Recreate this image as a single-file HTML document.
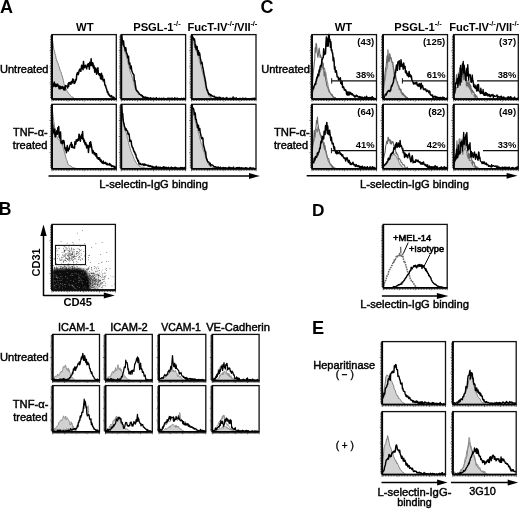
<!DOCTYPE html>
<html><head><meta charset="utf-8"><style>
html,body{margin:0;padding:0;background:#fff;}
body{width:520px;height:509px;overflow:hidden;}
svg{display:block;font-family:"Liberation Sans", sans-serif;will-change:transform;filter:blur(0.3px);}
</style></head><body>
<svg width="520" height="509" viewBox="0 0 520 509">
<rect width="520" height="509" fill="#fff"/>
<text x="0" y="12.8" font-size="18" font-weight="bold" text-anchor="start" fill="#000" >A</text>
<text x="260.6" y="12.6" font-size="18" font-weight="bold" text-anchor="start" fill="#000" >C</text>
<text x="-1.3" y="215.2" font-size="17.6" font-weight="bold" text-anchor="start" fill="#000" >B</text>
<text x="311.9" y="215.9" font-size="17.3" font-weight="bold" text-anchor="start" fill="#000" >D</text>
<text x="311.9" y="333.5" font-size="18.2" font-weight="bold" text-anchor="start" fill="#000" >E</text>
<path d="M52 37.36 L52.6 40.63 L53.2 44.5 L53.8 49.14 L54.4 50.76 L55 53.83 L55.6 55.36 L56.2 59.05 L56.8 60.17 L57.4 62.62 L58 63.04 L58.6 65.55 L59.2 66.97 L59.8 69.21 L60.4 71.2 L61 71.77 L61.6 74.36 L62.2 75.96 L62.8 78.28 L63.4 80.32 L64 83.73 L64.6 85.95 L65.2 86.65 L65.8 87.2 L66.4 90 L67 90.74 L67.6 91.62 L68.2 92.97 L68.8 93.61 L69.4 94.37 L70 94.68 L70.6 95.68 L71.2 96.36 L71.8 97.16 L72.4 97.02 L73 97.1 L73.6 97.75 L74.2 98.36 L74.8 98.84 L75.4 98.53 L76 98.65 L76.6 98.88 L77.2 99 L77.8 99.1 L78.4 99.1 L79 99.1 L79.6 99.1 L80.2 99.1 L80.8 99.1 L81.4 99.1 L82 99.1 L82.6 99.1 L83.2 99.1 L83.8 99.1 L84.4 99.1 L85 99.1 L85.6 99.1 L86.2 99.1 L86.8 99.1 L87.4 99.1 L88 99.1 L88.6 99.1 L89.2 99.1 L89.8 99.1 L90.4 99.1 L91 99.1 L91.6 99.1 L92.2 99.1 L92.8 99.1 L93.4 99.1 L94 99.1 L94.6 99.1 L95.2 99.1 L95.8 99.1 L96.4 99.1 L97 99.1 L97.6 99.1 L98.2 99.1 L98.8 99.1 L99.4 99.1 L100 99.1 L100.6 99.1 L101.2 99.1 L101.8 99.1 L102.4 99.1 L103 99.1 L103.6 99.1 L104.2 99.1 L104.8 99.1 L105.4 99.1 L106 99.1 L106.6 99.1 L107.2 99.1 L107.8 99.1 L108.4 99.1 L109 99.1 L109.6 99.1 L110.2 99.1 L110.8 99.1 L111.4 99.1 L112 99.1 L112.6 99.1 L113.2 99.1 L113.8 99.1 L114.4 99.1 L115 99.1 L115.6 99.1 L116.2 99.1 L116.2 99.1 L52 99.1 Z" fill="#d3d3d3" stroke="#707070" stroke-width="0.85" stroke-linejoin="round"/>
<path d="M52 83.15 L52.45 83.21 L52.9 86.67 L53.35 85.4 L53.8 86.08 L54.25 81.95 L54.7 86.02 L55.15 84.07 L55.6 86.52 L56.05 84.32 L56.5 86.3 L56.95 86.08 L57.4 84.11 L57.85 84.5 L58.3 85.96 L58.75 87.07 L59.2 88.8 L59.65 86.01 L60.1 88.76 L60.55 86.4 L61 87.05 L61.45 88.4 L61.9 88.13 L62.35 86.59 L62.8 87.19 L63.25 88.44 L63.7 89.79 L64.15 86.91 L64.6 89.73 L65.05 90.05 L65.5 85.57 L65.95 85.95 L66.4 85.95 L66.85 85.92 L67.3 86.65 L67.75 87.89 L68.2 83.5 L68.65 86.3 L69.1 82.4 L69.55 82.96 L70 83.62 L70.45 82.45 L70.9 84.29 L71.35 81.6 L71.8 82.26 L72.25 82.88 L72.7 78.91 L73.15 81.59 L73.6 79.51 L74.05 83.43 L74.5 83.29 L74.95 82.83 L75.4 81.64 L75.85 79.34 L76.3 79.91 L76.75 74.55 L77.2 73.14 L77.65 72.53 L78.1 74.69 L78.55 73.87 L79 71.12 L79.45 69.82 L79.9 69.04 L80.35 71.14 L80.8 71.34 L81.25 68.03 L81.7 65.18 L82.15 65.77 L82.6 68.74 L83.05 69.67 L83.5 61.45 L83.95 67.32 L84.4 67.78 L84.85 67.09 L85.3 65.19 L85.75 66.89 L86.2 67.18 L86.65 68.83 L87.1 65.78 L87.55 64.37 L88 66.2 L88.45 63.68 L88.9 64.03 L89.35 69.18 L89.8 62.3 L90.25 64.94 L90.7 65.5 L91.15 58.71 L91.6 64.72 L92.05 65.78 L92.5 62.78 L92.95 63.13 L93.4 67.93 L93.85 65.42 L94.3 67.12 L94.75 72.15 L95.2 71.96 L95.65 67.94 L96.1 69.02 L96.55 74.25 L97 70.48 L97.45 70.42 L97.9 67.68 L98.35 73.78 L98.8 74.69 L99.25 73.72 L99.7 75.44 L100.15 74.16 L100.6 78.84 L101.05 73.7 L101.5 73.19 L101.95 79.41 L102.4 75.46 L102.85 78.94 L103.3 80.98 L103.75 80.52 L104.2 79.4 L104.65 83.61 L105.1 85.6 L105.55 85.26 L106 87.65 L106.45 88.57 L106.9 90.3 L107.35 92.21 L107.8 91.56 L108.25 94.11 L108.7 93.73 L109.15 95.15 L109.6 95.02 L110.05 96.34 L110.5 96.21 L110.95 96.87 L111.4 95.64 L111.85 96.13 L112.3 97.57 L112.75 97.41 L113.2 98.45 L113.65 97.03 L114.1 98.63 L114.55 98.17 L115 99.1 L115.45 98.89 L115.9 99" fill="none" stroke="#000" stroke-width="1.5" stroke-linejoin="round"/>
<rect x="52" y="34.6" width="64.3" height="64.5" fill="none" stroke="#111" stroke-width="1.3"/>
<line x1="52" y1="34.6" x2="52" y2="99.1" stroke="#000" stroke-width="1.8"/>
<line x1="52" y1="99.1" x2="116.3" y2="99.1" stroke="#000" stroke-width="1.6"/>
<path d="M50.1 97.49H52M50.1 95.88H52M50.1 94.26H52M50.1 92.65H52M50.1 91.04H52M50.1 89.42H52M50.1 87.81H52M50.1 86.2H52M50.1 84.59H52M49.6 82.97H52M50.1 81.36H52M50.1 79.75H52M50.1 78.14H52M50.1 76.52H52M50.1 74.91H52M50.1 73.3H52M50.1 71.69H52M50.1 70.07H52M50.1 68.46H52M49.6 66.85H52M50.1 65.24H52M50.1 63.62H52M50.1 62.01H52M50.1 60.4H52M50.1 58.79H52M50.1 57.17H52M50.1 55.56H52M50.1 53.95H52M50.1 52.34H52M49.6 50.72H52M50.1 49.11H52M50.1 47.5H52M50.1 45.89H52M50.1 44.27H52M50.1 42.66H52M50.1 41.05H52M50.1 39.44H52M50.1 37.82H52M50.1 36.21H52" stroke="#111" stroke-width="0.75" fill="none"/>
<path d="M52 99.1V101.5M53.61 99.1V101M55.22 99.1V101M56.82 99.1V101M58.43 99.1V101M60.04 99.1V101M61.64 99.1V101M63.25 99.1V101M64.86 99.1V101M66.47 99.1V101M68.08 99.1V101.5M69.68 99.1V101M71.29 99.1V101M72.9 99.1V101M74.5 99.1V101M76.11 99.1V101M77.72 99.1V101M79.33 99.1V101M80.94 99.1V101M82.54 99.1V101M84.15 99.1V101.5M85.76 99.1V101M87.36 99.1V101M88.97 99.1V101M90.58 99.1V101M92.19 99.1V101M93.8 99.1V101M95.4 99.1V101M97.01 99.1V101M98.62 99.1V101M100.22 99.1V101.5M101.83 99.1V101M103.44 99.1V101M105.05 99.1V101M106.66 99.1V101M108.26 99.1V101M109.87 99.1V101M111.48 99.1V101M113.09 99.1V101M114.69 99.1V101M116.3 99.1V101.5" stroke="#111" stroke-width="0.75" fill="none"/>
<path d="M52 106.95 L52.6 111.57 L53.2 116.62 L53.8 121.01 L54.4 126.02 L55 129.08 L55.6 132.45 L56.2 135.52 L56.8 136.19 L57.4 137.46 L58 138.93 L58.6 139.63 L59.2 139.2 L59.8 141.26 L60.4 141.65 L61 142.15 L61.6 143.09 L62.2 144.42 L62.8 146.69 L63.4 148.39 L64 150.48 L64.6 152.35 L65.2 155.01 L65.8 157.21 L66.4 159.43 L67 160.78 L67.6 162.87 L68.2 164.28 L68.8 165.23 L69.4 165.42 L70 166.05 L70.6 165.81 L71.2 166.89 L71.8 166.8 L72.4 167.31 L73 167.28 L73.6 167.57 L74.2 168 L74.8 167.98 L75.4 167.91 L76 168.54 L76.6 168.7 L77.2 168.67 L77.8 168.8 L78.4 168.8 L79 168.8 L79.6 168.8 L80.2 168.8 L80.8 168.8 L81.4 168.8 L82 168.8 L82.6 168.8 L83.2 168.8 L83.8 168.8 L84.4 168.8 L85 168.8 L85.6 168.8 L86.2 168.8 L86.8 168.8 L87.4 168.8 L88 168.8 L88.6 168.8 L89.2 168.8 L89.8 168.8 L90.4 168.8 L91 168.8 L91.6 168.8 L92.2 168.8 L92.8 168.8 L93.4 168.8 L94 168.8 L94.6 168.8 L95.2 168.8 L95.8 168.8 L96.4 168.8 L97 168.8 L97.6 168.8 L98.2 168.8 L98.8 168.8 L99.4 168.8 L100 168.8 L100.6 168.8 L101.2 168.8 L101.8 168.8 L102.4 168.8 L103 168.8 L103.6 168.8 L104.2 168.8 L104.8 168.8 L105.4 168.8 L106 168.8 L106.6 168.8 L107.2 168.8 L107.8 168.8 L108.4 168.8 L109 168.8 L109.6 168.8 L110.2 168.8 L110.8 168.8 L111.4 168.8 L112 168.8 L112.6 168.8 L113.2 168.8 L113.8 168.8 L114.4 168.8 L115 168.8 L115.6 168.8 L116.2 168.8 L116.2 168.8 L52 168.8 Z" fill="#d3d3d3" stroke="#707070" stroke-width="0.85" stroke-linejoin="round"/>
<path d="M52 119.61 L52.45 123.39 L52.9 126.41 L53.35 132.56 L53.8 130.53 L54.25 133.9 L54.7 129.05 L55.15 136.89 L55.6 136.76 L56.05 133.33 L56.5 132.11 L56.95 130.49 L57.4 134.31 L57.85 127.66 L58.3 130.27 L58.75 126.5 L59.2 136.79 L59.65 138.01 L60.1 133.14 L60.55 131.91 L61 142.9 L61.45 140.96 L61.9 142.23 L62.35 143.81 L62.8 140.49 L63.25 142.77 L63.7 140.47 L64.15 141.98 L64.6 146.96 L65.05 148.97 L65.5 149.93 L65.95 147.98 L66.4 152.72 L66.85 148.81 L67.3 145.61 L67.75 148.04 L68.2 150.93 L68.65 149.3 L69.1 149.27 L69.55 147.32 L70 145.29 L70.45 144.52 L70.9 144.43 L71.35 142.49 L71.8 147.37 L72.25 144.83 L72.7 147.03 L73.15 147.72 L73.6 147.57 L74.05 148.08 L74.5 148.08 L74.95 141.69 L75.4 143.66 L75.85 144.1 L76.3 139.71 L76.75 140.53 L77.2 141.18 L77.65 140.37 L78.1 138.79 L78.55 140.4 L79 134.2 L79.45 134.91 L79.9 136.77 L80.35 141.13 L80.8 137.6 L81.25 137.45 L81.7 134.56 L82.15 138.34 L82.6 131.55 L83.05 139.42 L83.5 138.54 L83.95 141.95 L84.4 140.17 L84.85 143.5 L85.3 144.81 L85.75 142.7 L86.2 144.76 L86.65 147.97 L87.1 145.24 L87.55 145.54 L88 145.7 L88.45 152.43 L88.9 146.87 L89.35 146.12 L89.8 142.42 L90.25 147.02 L90.7 141.78 L91.15 145.03 L91.6 146.89 L92.05 150.2 L92.5 153.09 L92.95 150.5 L93.4 151.63 L93.85 152.6 L94.3 154.44 L94.75 152.69 L95.2 154.89 L95.65 153.8 L96.1 156.28 L96.55 153.79 L97 157.97 L97.45 157.61 L97.9 157.44 L98.35 159.29 L98.8 157.65 L99.25 159.39 L99.7 158.04 L100.15 160.74 L100.6 161.18 L101.05 159.87 L101.5 162.22 L101.95 161.8 L102.4 163.16 L102.85 162.6 L103.3 160.98 L103.75 163.53 L104.2 163.22 L104.65 162.72 L105.1 163.45 L105.55 162.39 L106 163.54 L106.45 164.54 L106.9 163.24 L107.35 164.78 L107.8 164.44 L108.25 164.19 L108.7 164.6 L109.15 165.02 L109.6 163.45 L110.05 165.06 L110.5 164.41 L110.95 164.59 L111.4 166.44 L111.85 165.97 L112.3 165.84 L112.75 166.17 L113.2 166.62 L113.65 166.11 L114.1 166.48 L114.55 167.4 L115 166.53 L115.45 167.81 L115.9 167.94" fill="none" stroke="#000" stroke-width="1.5" stroke-linejoin="round"/>
<rect x="52" y="104.3" width="64.3" height="64.5" fill="none" stroke="#111" stroke-width="1.3"/>
<line x1="52" y1="104.3" x2="52" y2="168.8" stroke="#000" stroke-width="1.8"/>
<line x1="52" y1="168.8" x2="116.3" y2="168.8" stroke="#000" stroke-width="1.6"/>
<path d="M50.1 167.19H52M50.1 165.58H52M50.1 163.96H52M50.1 162.35H52M50.1 160.74H52M50.1 159.12H52M50.1 157.51H52M50.1 155.9H52M50.1 154.29H52M49.6 152.68H52M50.1 151.06H52M50.1 149.45H52M50.1 147.84H52M50.1 146.22H52M50.1 144.61H52M50.1 143H52M50.1 141.39H52M50.1 139.78H52M50.1 138.16H52M49.6 136.55H52M50.1 134.94H52M50.1 133.32H52M50.1 131.71H52M50.1 130.1H52M50.1 128.49H52M50.1 126.88H52M50.1 125.26H52M50.1 123.65H52M50.1 122.04H52M49.6 120.42H52M50.1 118.81H52M50.1 117.2H52M50.1 115.59H52M50.1 113.97H52M50.1 112.36H52M50.1 110.75H52M50.1 109.14H52M50.1 107.53H52M50.1 105.91H52" stroke="#111" stroke-width="0.75" fill="none"/>
<path d="M52 168.8V171.2M53.61 168.8V170.7M55.22 168.8V170.7M56.82 168.8V170.7M58.43 168.8V170.7M60.04 168.8V170.7M61.64 168.8V170.7M63.25 168.8V170.7M64.86 168.8V170.7M66.47 168.8V170.7M68.08 168.8V171.2M69.68 168.8V170.7M71.29 168.8V170.7M72.9 168.8V170.7M74.5 168.8V170.7M76.11 168.8V170.7M77.72 168.8V170.7M79.33 168.8V170.7M80.94 168.8V170.7M82.54 168.8V170.7M84.15 168.8V171.2M85.76 168.8V170.7M87.36 168.8V170.7M88.97 168.8V170.7M90.58 168.8V170.7M92.19 168.8V170.7M93.8 168.8V170.7M95.4 168.8V170.7M97.01 168.8V170.7M98.62 168.8V170.7M100.22 168.8V171.2M101.83 168.8V170.7M103.44 168.8V170.7M105.05 168.8V170.7M106.66 168.8V170.7M108.26 168.8V170.7M109.87 168.8V170.7M111.48 168.8V170.7M113.09 168.8V170.7M114.69 168.8V170.7M116.3 168.8V171.2" stroke="#111" stroke-width="0.75" fill="none"/>
<path d="M121.3 34.6 L121.9 38.77 L122.5 41 L123.1 43.97 L123.7 46.54 L124.3 47.57 L124.9 50.94 L125.5 53.51 L126.1 55.05 L126.7 56.92 L127.3 59.81 L127.9 62.18 L128.5 65.55 L129.1 66.61 L129.7 69.16 L130.3 72.14 L130.9 73.55 L131.5 74.49 L132.1 76.9 L132.7 78.47 L133.3 80.71 L133.9 82.58 L134.5 85.69 L135.1 88.01 L135.7 89.62 L136.3 90.32 L136.9 91.26 L137.5 92.27 L138.1 93.19 L138.7 94.45 L139.3 94.48 L139.9 94.73 L140.5 95.35 L141.1 96.24 L141.7 96.51 L142.3 97 L142.9 97.17 L143.5 97.49 L144.1 97.86 L144.7 98.24 L145.3 98.4 L145.9 98.39 L146.5 97.79 L147.1 98.99 L147.7 98.55 L148.3 98.52 L148.9 98.88 L149.5 98.98 L150.1 99.08 L150.7 99.1 L151.3 99.1 L151.9 99.1 L152.5 99.1 L153.1 99.1 L153.7 99.1 L154.3 99.1 L154.9 99.1 L155.5 99.1 L156.1 99.1 L156.7 99.1 L157.3 99.1 L157.9 99.1 L158.5 99.1 L159.1 99.1 L159.7 99.1 L160.3 99.1 L160.9 99.1 L161.5 99.1 L162.1 99.1 L162.7 99.1 L163.3 99.1 L163.9 99.1 L164.5 99.1 L165.1 99.1 L165.7 99.1 L166.3 99.1 L166.9 99.1 L167.5 99.1 L168.1 99.1 L168.7 99.1 L169.3 99.1 L169.9 99.1 L170.5 99.1 L171.1 99.1 L171.7 99.1 L172.3 99.1 L172.9 99.1 L173.5 99.1 L174.1 99.1 L174.7 99.1 L175.3 99.1 L175.9 99.1 L176.5 99.1 L177.1 99.1 L177.7 99.1 L178.3 99.1 L178.9 99.1 L179.5 99.1 L180.1 99.1 L180.7 99.1 L181.3 99.1 L181.9 99.1 L182.5 99.1 L183.1 99.1 L183.7 99.1 L184.3 99.1 L184.9 99.1 L185.5 99.1 L185.5 99.1 L121.3 99.1 Z" fill="#d3d3d3" stroke="#707070" stroke-width="0.85" stroke-linejoin="round"/>
<path d="M121.3 34.6 L121.75 34.87 L122.2 40.3 L122.65 40.42 L123.1 44.96 L123.55 41.03 L124 45.97 L124.45 46.86 L124.9 48.78 L125.35 50.83 L125.8 47.69 L126.25 51.69 L126.7 53.49 L127.15 53.97 L127.6 56.53 L128.05 58.28 L128.5 56.14 L128.95 63.15 L129.4 64.33 L129.85 62.97 L130.3 67.47 L130.75 68.67 L131.2 65.94 L131.65 70.13 L132.1 71.43 L132.55 72.74 L133 73.74 L133.45 74.24 L133.9 74.78 L134.35 80.86 L134.8 80.48 L135.25 84.15 L135.7 86.97 L136.15 89.82 L136.6 90.15 L137.05 91.07 L137.5 91.19 L137.95 91.8 L138.4 92.67 L138.85 92.95 L139.3 94.05 L139.75 94.34 L140.2 94.44 L140.65 94.93 L141.1 94.89 L141.55 95.14 L142 95.89 L142.45 95.59 L142.9 97.24 L143.35 96.84 L143.8 97.15 L144.25 97.11 L144.7 97.33 L145.15 97.94 L145.6 97.01 L146.05 98.33 L146.5 98.07 L146.95 97.6 L147.4 98.48 L147.85 97.61 L148.3 98.01 L148.75 98.14 L149.2 98.25 L149.65 98.42 L150.1 98.94 L150.55 97.66 L151 98.21 L151.45 98.81 L151.9 98.52 L152.35 98.46 L152.8 98.71 L153.25 98.44 L153.7 98.2 L154.15 98.46 L154.6 98.57 L155.05 98.71 L155.5 98.6 L155.95 99.02 L156.4 97.79 L156.85 98.88 L157.3 99.04 L157.75 98.95 L158.2 98.81 L158.65 98.73 L159.1 98.26 L159.55 98.4 L160 98.92 L160.45 99.1 L160.9 98.82 L161.35 98.29 L161.8 99.04 L162.25 99.1 L162.7 98.64 L163.15 98.34 L163.6 98.59 L164.05 98.31 L164.5 99.1 L164.95 98.64 L165.4 98.72 L165.85 98.79 L166.3 98.81 L166.75 99.1 L167.2 98.77 L167.65 98.33 L168.1 99.03 L168.55 98.27 L169 98.32 L169.45 98.74 L169.9 98.36 L170.35 98.84 L170.8 98.56 L171.25 98.27 L171.7 98.69 L172.15 98.14 L172.6 98.73 L173.05 98.66 L173.5 98.67 L173.95 98.76 L174.4 98.36 L174.85 97.89 L175.3 98.55 L175.75 99.1 L176.2 99.02 L176.65 98.37 L177.1 99.1 L177.55 98.19 L178 99.1 L178.45 98.68 L178.9 98.63 L179.35 99.1 L179.8 99.1 L180.25 98.78 L180.7 98.71 L181.15 99.1 L181.6 98.32 L182.05 99.1 L182.5 98.87 L182.95 98.57 L183.4 98.34 L183.85 99.1 L184.3 98.42 L184.75 98.54 L185.2 98.96" fill="none" stroke="#000" stroke-width="1.5" stroke-linejoin="round"/>
<rect x="121.3" y="34.6" width="64.3" height="64.5" fill="none" stroke="#111" stroke-width="1.3"/>
<line x1="121.3" y1="34.6" x2="121.3" y2="99.1" stroke="#000" stroke-width="1.8"/>
<line x1="121.3" y1="99.1" x2="185.6" y2="99.1" stroke="#000" stroke-width="1.6"/>
<path d="M119.4 97.49H121.3M119.4 95.88H121.3M119.4 94.26H121.3M119.4 92.65H121.3M119.4 91.04H121.3M119.4 89.42H121.3M119.4 87.81H121.3M119.4 86.2H121.3M119.4 84.59H121.3M118.9 82.97H121.3M119.4 81.36H121.3M119.4 79.75H121.3M119.4 78.14H121.3M119.4 76.52H121.3M119.4 74.91H121.3M119.4 73.3H121.3M119.4 71.69H121.3M119.4 70.07H121.3M119.4 68.46H121.3M118.9 66.85H121.3M119.4 65.24H121.3M119.4 63.62H121.3M119.4 62.01H121.3M119.4 60.4H121.3M119.4 58.79H121.3M119.4 57.17H121.3M119.4 55.56H121.3M119.4 53.95H121.3M119.4 52.34H121.3M118.9 50.72H121.3M119.4 49.11H121.3M119.4 47.5H121.3M119.4 45.89H121.3M119.4 44.27H121.3M119.4 42.66H121.3M119.4 41.05H121.3M119.4 39.44H121.3M119.4 37.82H121.3M119.4 36.21H121.3" stroke="#111" stroke-width="0.75" fill="none"/>
<path d="M121.3 99.1V101.5M122.91 99.1V101M124.52 99.1V101M126.12 99.1V101M127.73 99.1V101M129.34 99.1V101M130.94 99.1V101M132.55 99.1V101M134.16 99.1V101M135.77 99.1V101M137.38 99.1V101.5M138.98 99.1V101M140.59 99.1V101M142.2 99.1V101M143.81 99.1V101M145.41 99.1V101M147.02 99.1V101M148.63 99.1V101M150.23 99.1V101M151.84 99.1V101M153.45 99.1V101.5M155.06 99.1V101M156.66 99.1V101M158.27 99.1V101M159.88 99.1V101M161.49 99.1V101M163.09 99.1V101M164.7 99.1V101M166.31 99.1V101M167.92 99.1V101M169.53 99.1V101.5M171.13 99.1V101M172.74 99.1V101M174.35 99.1V101M175.95 99.1V101M177.56 99.1V101M179.17 99.1V101M180.78 99.1V101M182.38 99.1V101M183.99 99.1V101M185.6 99.1V101.5" stroke="#111" stroke-width="0.75" fill="none"/>
<path d="M121.3 106.6 L121.9 112.1 L122.5 113.41 L123.1 119.3 L123.7 122.45 L124.3 125.47 L124.9 127.53 L125.5 131.85 L126.1 132.5 L126.7 133.88 L127.3 138.15 L127.9 139.51 L128.5 142.74 L129.1 145.11 L129.7 146.61 L130.3 149.13 L130.9 151.14 L131.5 152.43 L132.1 154.03 L132.7 155.01 L133.3 156.66 L133.9 158.32 L134.5 159.64 L135.1 160.96 L135.7 161.91 L136.3 162.85 L136.9 163.79 L137.5 164.41 L138.1 164.59 L138.7 164.87 L139.3 166.11 L139.9 166.17 L140.5 167.02 L141.1 167.18 L141.7 167.27 L142.3 167.23 L142.9 167.34 L143.5 167.46 L144.1 167.74 L144.7 167.68 L145.3 167.92 L145.9 168.28 L146.5 168.14 L147.1 168.21 L147.7 168.14 L148.3 168.2 L148.9 168.61 L149.5 168.69 L150.1 168.78 L150.7 168.8 L151.3 168.8 L151.9 168.8 L152.5 168.8 L153.1 168.8 L153.7 168.8 L154.3 168.8 L154.9 168.8 L155.5 168.8 L156.1 168.8 L156.7 168.8 L157.3 168.8 L157.9 168.8 L158.5 168.8 L159.1 168.8 L159.7 168.8 L160.3 168.8 L160.9 168.8 L161.5 168.8 L162.1 168.8 L162.7 168.8 L163.3 168.8 L163.9 168.8 L164.5 168.8 L165.1 168.8 L165.7 168.8 L166.3 168.8 L166.9 168.8 L167.5 168.8 L168.1 168.8 L168.7 168.8 L169.3 168.8 L169.9 168.8 L170.5 168.8 L171.1 168.8 L171.7 168.8 L172.3 168.8 L172.9 168.8 L173.5 168.8 L174.1 168.8 L174.7 168.8 L175.3 168.8 L175.9 168.8 L176.5 168.8 L177.1 168.8 L177.7 168.8 L178.3 168.8 L178.9 168.8 L179.5 168.8 L180.1 168.8 L180.7 168.8 L181.3 168.8 L181.9 168.8 L182.5 168.8 L183.1 168.8 L183.7 168.8 L184.3 168.8 L184.9 168.8 L185.5 168.8 L185.5 168.8 L121.3 168.8 Z" fill="#d3d3d3" stroke="#707070" stroke-width="0.85" stroke-linejoin="round"/>
<path d="M121.3 104.3 L121.75 104.95 L122.2 114.83 L122.65 113.4 L123.1 119.99 L123.55 122.45 L124 123.72 L124.45 126.66 L124.9 127.17 L125.35 129.89 L125.8 129.85 L126.25 128.86 L126.7 130.65 L127.15 130.73 L127.6 131.25 L128.05 134.16 L128.5 133.46 L128.95 133.54 L129.4 136.76 L129.85 141.53 L130.3 140.16 L130.75 140.3 L131.2 141.06 L131.65 145.23 L132.1 146.53 L132.55 147.76 L133 147.81 L133.45 150.16 L133.9 151.16 L134.35 152.36 L134.8 152.13 L135.25 154.33 L135.7 154.1 L136.15 156.2 L136.6 157.96 L137.05 158.5 L137.5 159.77 L137.95 161.27 L138.4 160.5 L138.85 163.24 L139.3 164.09 L139.75 163.39 L140.2 163.26 L140.65 164.38 L141.1 164.28 L141.55 164.49 L142 164.69 L142.45 164.6 L142.9 163.81 L143.35 164.41 L143.8 165.49 L144.25 165.31 L144.7 164.04 L145.15 164.4 L145.6 165.17 L146.05 164.87 L146.5 165.13 L146.95 165.22 L147.4 165.18 L147.85 165.98 L148.3 165.39 L148.75 165.31 L149.2 166.42 L149.65 166.57 L150.1 165.76 L150.55 165.94 L151 166.73 L151.45 166.57 L151.9 166.22 L152.35 167.9 L152.8 166.56 L153.25 167.55 L153.7 167.01 L154.15 167.44 L154.6 167.61 L155.05 166.95 L155.5 167.51 L155.95 167.43 L156.4 166.25 L156.85 167.61 L157.3 167.51 L157.75 167.9 L158.2 167.15 L158.65 167.77 L159.1 167.36 L159.55 167.41 L160 167.67 L160.45 167.21 L160.9 167.73 L161.35 167.63 L161.8 167.75 L162.25 168.14 L162.7 167.52 L163.15 167.49 L163.6 166.73 L164.05 166.98 L164.5 167.91 L164.95 167.62 L165.4 167.82 L165.85 167.39 L166.3 167.65 L166.75 167.6 L167.2 168.57 L167.65 167.8 L168.1 167.54 L168.55 167.28 L169 168.02 L169.45 168.24 L169.9 168.39 L170.35 167.67 L170.8 167.64 L171.25 167.17 L171.7 167.89 L172.15 168.8 L172.6 167.76 L173.05 168.2 L173.5 168.06 L173.95 168.39 L174.4 167.5 L174.85 168.8 L175.3 167.28 L175.75 168.26 L176.2 167.84 L176.65 167.8 L177.1 168.49 L177.55 168.7 L178 167.98 L178.45 168.8 L178.9 168.16 L179.35 168.21 L179.8 168.55 L180.25 167.49 L180.7 168.52 L181.15 167.75 L181.6 168.12 L182.05 167.67 L182.5 167.6 L182.95 168.2 L183.4 168.8 L183.85 168.18 L184.3 167.57 L184.75 168.35 L185.2 168.61" fill="none" stroke="#000" stroke-width="1.5" stroke-linejoin="round"/>
<rect x="121.3" y="104.3" width="64.3" height="64.5" fill="none" stroke="#111" stroke-width="1.3"/>
<line x1="121.3" y1="104.3" x2="121.3" y2="168.8" stroke="#000" stroke-width="1.8"/>
<line x1="121.3" y1="168.8" x2="185.6" y2="168.8" stroke="#000" stroke-width="1.6"/>
<path d="M119.4 167.19H121.3M119.4 165.58H121.3M119.4 163.96H121.3M119.4 162.35H121.3M119.4 160.74H121.3M119.4 159.12H121.3M119.4 157.51H121.3M119.4 155.9H121.3M119.4 154.29H121.3M118.9 152.68H121.3M119.4 151.06H121.3M119.4 149.45H121.3M119.4 147.84H121.3M119.4 146.22H121.3M119.4 144.61H121.3M119.4 143H121.3M119.4 141.39H121.3M119.4 139.78H121.3M119.4 138.16H121.3M118.9 136.55H121.3M119.4 134.94H121.3M119.4 133.32H121.3M119.4 131.71H121.3M119.4 130.1H121.3M119.4 128.49H121.3M119.4 126.88H121.3M119.4 125.26H121.3M119.4 123.65H121.3M119.4 122.04H121.3M118.9 120.42H121.3M119.4 118.81H121.3M119.4 117.2H121.3M119.4 115.59H121.3M119.4 113.97H121.3M119.4 112.36H121.3M119.4 110.75H121.3M119.4 109.14H121.3M119.4 107.53H121.3M119.4 105.91H121.3" stroke="#111" stroke-width="0.75" fill="none"/>
<path d="M121.3 168.8V171.2M122.91 168.8V170.7M124.52 168.8V170.7M126.12 168.8V170.7M127.73 168.8V170.7M129.34 168.8V170.7M130.94 168.8V170.7M132.55 168.8V170.7M134.16 168.8V170.7M135.77 168.8V170.7M137.38 168.8V171.2M138.98 168.8V170.7M140.59 168.8V170.7M142.2 168.8V170.7M143.81 168.8V170.7M145.41 168.8V170.7M147.02 168.8V170.7M148.63 168.8V170.7M150.23 168.8V170.7M151.84 168.8V170.7M153.45 168.8V171.2M155.06 168.8V170.7M156.66 168.8V170.7M158.27 168.8V170.7M159.88 168.8V170.7M161.49 168.8V170.7M163.09 168.8V170.7M164.7 168.8V170.7M166.31 168.8V170.7M167.92 168.8V170.7M169.53 168.8V171.2M171.13 168.8V170.7M172.74 168.8V170.7M174.35 168.8V170.7M175.95 168.8V170.7M177.56 168.8V170.7M179.17 168.8V170.7M180.78 168.8V170.7M182.38 168.8V170.7M183.99 168.8V170.7M185.6 168.8V171.2" stroke="#111" stroke-width="0.75" fill="none"/>
<path d="M191.7 35.02 L192.3 37 L192.9 39.48 L193.5 42.5 L194.1 44.15 L194.7 45.67 L195.3 47.62 L195.9 49.66 L196.5 51.34 L197.1 52.29 L197.7 55.29 L198.3 56.88 L198.9 57.76 L199.5 61.87 L200.1 62.86 L200.7 65.12 L201.3 66.98 L201.9 69.75 L202.5 72.44 L203.1 74.56 L203.7 76.66 L204.3 79.45 L204.9 82.23 L205.5 85.59 L206.1 87.95 L206.7 89.88 L207.3 91.73 L207.9 94.04 L208.5 94.54 L209.1 96.29 L209.7 96.63 L210.3 97.36 L210.9 96.82 L211.5 97.96 L212.1 98.85 L212.7 98.49 L213.3 98.57 L213.9 98.86 L214.5 98.9 L215.1 99.02 L215.7 99.1 L216.3 99.1 L216.9 99.1 L217.5 99.1 L218.1 99.1 L218.7 99.1 L219.3 99.1 L219.9 99.1 L220.5 99.1 L221.1 99.1 L221.7 99.1 L222.3 99.1 L222.9 99.1 L223.5 99.1 L224.1 99.1 L224.7 99.1 L225.3 99.1 L225.9 99.1 L226.5 99.1 L227.1 99.1 L227.7 99.1 L228.3 99.1 L228.9 99.1 L229.5 99.1 L230.1 99.1 L230.7 99.1 L231.3 99.1 L231.9 99.1 L232.5 99.1 L233.1 99.1 L233.7 99.1 L234.3 99.1 L234.9 99.1 L235.5 99.1 L236.1 99.1 L236.7 99.1 L237.3 99.1 L237.9 99.1 L238.5 99.1 L239.1 99.1 L239.7 99.1 L240.3 99.1 L240.9 99.1 L241.5 99.1 L242.1 99.1 L242.7 99.1 L243.3 99.1 L243.9 99.1 L244.5 99.1 L245.1 99.1 L245.7 99.1 L246.3 99.1 L246.9 99.1 L247.5 99.1 L248.1 99.1 L248.7 99.1 L249.3 99.1 L249.9 99.1 L250.5 99.1 L251.1 99.1 L251.7 99.1 L252.3 99.1 L252.9 99.1 L253.5 99.1 L254.1 99.1 L254.7 99.1 L255.3 99.1 L255.9 99.1 L255.9 99.1 L191.7 99.1 Z" fill="#d3d3d3" stroke="#707070" stroke-width="0.85" stroke-linejoin="round"/>
<path d="M191.7 34.6 L192.15 35.96 L192.6 38.09 L193.05 37.18 L193.5 40 L193.95 39.94 L194.4 38.9 L194.85 41.64 L195.3 47.41 L195.75 44.98 L196.2 49.58 L196.65 49.14 L197.1 46.55 L197.55 51.31 L198 54.76 L198.45 50.71 L198.9 55.32 L199.35 52.64 L199.8 53.86 L200.25 58.59 L200.7 59.52 L201.15 63.64 L201.6 63.08 L202.05 62.34 L202.5 65.95 L202.95 68.22 L203.4 70.37 L203.85 73.09 L204.3 75.4 L204.75 77.46 L205.2 79.6 L205.65 82.19 L206.1 85.9 L206.55 88.04 L207 89.97 L207.45 89.99 L207.9 91.85 L208.35 92.73 L208.8 94.31 L209.25 93.91 L209.7 94.02 L210.15 95.32 L210.6 94.66 L211.05 96 L211.5 95.09 L211.95 95.78 L212.4 95.92 L212.85 96.29 L213.3 96.51 L213.75 96.63 L214.2 96.21 L214.65 96.36 L215.1 97.73 L215.55 97.94 L216 97.53 L216.45 97.31 L216.9 97.38 L217.35 97.41 L217.8 98.51 L218.25 98.19 L218.7 97.99 L219.15 97.06 L219.6 97.82 L220.05 98.11 L220.5 97.6 L220.95 98.24 L221.4 98.15 L221.85 98.48 L222.3 98.49 L222.75 98.2 L223.2 97.79 L223.65 98.54 L224.1 98.86 L224.55 98.68 L225 98.33 L225.45 98.32 L225.9 98.46 L226.35 98.62 L226.8 97.51 L227.25 98.47 L227.7 98.96 L228.15 98.98 L228.6 98.66 L229.05 98.6 L229.5 98.65 L229.95 98.33 L230.4 99.07 L230.85 98.23 L231.3 98.89 L231.75 99.1 L232.2 98.57 L232.65 98.71 L233.1 96.92 L233.55 98.81 L234 98 L234.45 98.54 L234.9 98.62 L235.35 98.8 L235.8 98.26 L236.25 97.9 L236.7 98.72 L237.15 99.1 L237.6 99.01 L238.05 99.1 L238.5 99.1 L238.95 99.1 L239.4 98.98 L239.85 98.31 L240.3 98.38 L240.75 99.1 L241.2 98.85 L241.65 99.1 L242.1 98.62 L242.55 98.81 L243 98.15 L243.45 98.68 L243.9 99.1 L244.35 99.04 L244.8 98.61 L245.25 99.1 L245.7 98.17 L246.15 98.91 L246.6 99.05 L247.05 99.1 L247.5 98.93 L247.95 98.7 L248.4 98.94 L248.85 99.02 L249.3 98.64 L249.75 98.79 L250.2 98.71 L250.65 99.05 L251.1 98.53 L251.55 98.86 L252 98.69 L252.45 98.44 L252.9 98.77 L253.35 98.99 L253.8 98.61 L254.25 98.1 L254.7 98.79 L255.15 98.92 L255.6 98.66" fill="none" stroke="#000" stroke-width="1.5" stroke-linejoin="round"/>
<rect x="191.7" y="34.6" width="64.3" height="64.5" fill="none" stroke="#111" stroke-width="1.3"/>
<line x1="191.7" y1="34.6" x2="191.7" y2="99.1" stroke="#000" stroke-width="1.8"/>
<line x1="191.7" y1="99.1" x2="256" y2="99.1" stroke="#000" stroke-width="1.6"/>
<path d="M189.8 97.49H191.7M189.8 95.88H191.7M189.8 94.26H191.7M189.8 92.65H191.7M189.8 91.04H191.7M189.8 89.42H191.7M189.8 87.81H191.7M189.8 86.2H191.7M189.8 84.59H191.7M189.3 82.97H191.7M189.8 81.36H191.7M189.8 79.75H191.7M189.8 78.14H191.7M189.8 76.52H191.7M189.8 74.91H191.7M189.8 73.3H191.7M189.8 71.69H191.7M189.8 70.07H191.7M189.8 68.46H191.7M189.3 66.85H191.7M189.8 65.24H191.7M189.8 63.62H191.7M189.8 62.01H191.7M189.8 60.4H191.7M189.8 58.79H191.7M189.8 57.17H191.7M189.8 55.56H191.7M189.8 53.95H191.7M189.8 52.34H191.7M189.3 50.72H191.7M189.8 49.11H191.7M189.8 47.5H191.7M189.8 45.89H191.7M189.8 44.27H191.7M189.8 42.66H191.7M189.8 41.05H191.7M189.8 39.44H191.7M189.8 37.82H191.7M189.8 36.21H191.7" stroke="#111" stroke-width="0.75" fill="none"/>
<path d="M191.7 99.1V101.5M193.31 99.1V101M194.91 99.1V101M196.52 99.1V101M198.13 99.1V101M199.74 99.1V101M201.34 99.1V101M202.95 99.1V101M204.56 99.1V101M206.17 99.1V101M207.77 99.1V101.5M209.38 99.1V101M210.99 99.1V101M212.6 99.1V101M214.2 99.1V101M215.81 99.1V101M217.42 99.1V101M219.03 99.1V101M220.63 99.1V101M222.24 99.1V101M223.85 99.1V101.5M225.46 99.1V101M227.06 99.1V101M228.67 99.1V101M230.28 99.1V101M231.89 99.1V101M233.5 99.1V101M235.1 99.1V101M236.71 99.1V101M238.32 99.1V101M239.93 99.1V101.5M241.53 99.1V101M243.14 99.1V101M244.75 99.1V101M246.35 99.1V101M247.96 99.1V101M249.57 99.1V101M251.18 99.1V101M252.78 99.1V101M254.39 99.1V101M256 99.1V101.5" stroke="#111" stroke-width="0.75" fill="none"/>
<path d="M191.7 104.31 L192.3 107.87 L192.9 110.01 L193.5 113.36 L194.1 116.09 L194.7 118.12 L195.3 120.95 L195.9 123.16 L196.5 126.02 L197.1 127.6 L197.7 128.96 L198.3 132 L198.9 134.1 L199.5 136.71 L200.1 139.12 L200.7 141.25 L201.3 143.49 L201.9 144.58 L202.5 147.15 L203.1 149.31 L203.7 151.38 L204.3 152.7 L204.9 154.07 L205.5 156.83 L206.1 158.53 L206.7 160.77 L207.3 161.25 L207.9 163.41 L208.5 163.79 L209.1 165.04 L209.7 166.05 L210.3 166.1 L210.9 166.98 L211.5 166.65 L212.1 167.32 L212.7 167.39 L213.3 167.63 L213.9 167.8 L214.5 167.81 L215.1 168.75 L215.7 168.35 L216.3 168.53 L216.9 168.67 L217.5 168.8 L218.1 168.8 L218.7 168.8 L219.3 168.8 L219.9 168.8 L220.5 168.8 L221.1 168.8 L221.7 168.8 L222.3 168.8 L222.9 168.8 L223.5 168.8 L224.1 168.8 L224.7 168.8 L225.3 168.8 L225.9 168.8 L226.5 168.8 L227.1 168.8 L227.7 168.8 L228.3 168.8 L228.9 168.8 L229.5 168.8 L230.1 168.8 L230.7 168.8 L231.3 168.8 L231.9 168.8 L232.5 168.8 L233.1 168.8 L233.7 168.8 L234.3 168.8 L234.9 168.8 L235.5 168.8 L236.1 168.8 L236.7 168.8 L237.3 168.8 L237.9 168.8 L238.5 168.8 L239.1 168.8 L239.7 168.8 L240.3 168.8 L240.9 168.8 L241.5 168.8 L242.1 168.8 L242.7 168.8 L243.3 168.8 L243.9 168.8 L244.5 168.8 L245.1 168.8 L245.7 168.8 L246.3 168.8 L246.9 168.8 L247.5 168.8 L248.1 168.8 L248.7 168.8 L249.3 168.8 L249.9 168.8 L250.5 168.8 L251.1 168.8 L251.7 168.8 L252.3 168.8 L252.9 168.8 L253.5 168.8 L254.1 168.8 L254.7 168.8 L255.3 168.8 L255.9 168.8 L255.9 168.8 L191.7 168.8 Z" fill="#d3d3d3" stroke="#707070" stroke-width="0.85" stroke-linejoin="round"/>
<path d="M191.7 104.3 L192.15 105.05 L192.6 108.67 L193.05 108.09 L193.5 108.67 L193.95 110.84 L194.4 114.8 L194.85 112.54 L195.3 113.66 L195.75 119.47 L196.2 119.17 L196.65 122.5 L197.1 123.37 L197.55 127.63 L198 127.78 L198.45 125.22 L198.9 130.43 L199.35 129.7 L199.8 128.51 L200.25 132.82 L200.7 134.31 L201.15 136.73 L201.6 138.61 L202.05 138.83 L202.5 137.41 L202.95 138.74 L203.4 144.78 L203.85 146.37 L204.3 148.09 L204.75 149.96 L205.2 151.95 L205.65 151.81 L206.1 156.38 L206.55 158.71 L207 159.24 L207.45 161.1 L207.9 161.73 L208.35 161.88 L208.8 162.31 L209.25 163 L209.7 164.1 L210.15 163.25 L210.6 165.68 L211.05 164.62 L211.5 164.89 L211.95 164.92 L212.4 164.99 L212.85 165.39 L213.3 165.95 L213.75 166.51 L214.2 166.73 L214.65 167 L215.1 167 L215.55 166.69 L216 167.39 L216.45 167.29 L216.9 167.59 L217.35 167.37 L217.8 167.69 L218.25 166.93 L218.7 168.11 L219.15 167.81 L219.6 167.74 L220.05 167.88 L220.5 167.22 L220.95 168.15 L221.4 168.39 L221.85 168.07 L222.3 168 L222.75 167.77 L223.2 167.49 L223.65 168.32 L224.1 168.74 L224.55 167.83 L225 167.99 L225.45 167.79 L225.9 168.11 L226.35 168.15 L226.8 167.94 L227.25 168.23 L227.7 168.15 L228.15 168.8 L228.6 167.69 L229.05 167.14 L229.5 168.67 L229.95 168.04 L230.4 167.67 L230.85 168.25 L231.3 167.85 L231.75 168.43 L232.2 168.44 L232.65 167.84 L233.1 167.95 L233.55 167.1 L234 168.12 L234.45 168.7 L234.9 168.69 L235.35 168.35 L235.8 168.77 L236.25 167.76 L236.7 168.11 L237.15 167.67 L237.6 168.33 L238.05 167.62 L238.5 167.75 L238.95 168.25 L239.4 167.49 L239.85 168.1 L240.3 168.14 L240.75 168.1 L241.2 167.71 L241.65 167.93 L242.1 167.94 L242.55 168.58 L243 167.97 L243.45 168.35 L243.9 168.32 L244.35 168.31 L244.8 168.29 L245.25 168.53 L245.7 167.72 L246.15 168.8 L246.6 167.88 L247.05 168.13 L247.5 168.37 L247.95 168.8 L248.4 168.71 L248.85 168.52 L249.3 168.25 L249.75 168.64 L250.2 167.53 L250.65 168.34 L251.1 168.22 L251.55 168.11 L252 168.33 L252.45 168.27 L252.9 168.08 L253.35 168.21 L253.8 168.33 L254.25 168.68 L254.7 168.8 L255.15 168.63 L255.6 168.16" fill="none" stroke="#000" stroke-width="1.5" stroke-linejoin="round"/>
<rect x="191.7" y="104.3" width="64.3" height="64.5" fill="none" stroke="#111" stroke-width="1.3"/>
<line x1="191.7" y1="104.3" x2="191.7" y2="168.8" stroke="#000" stroke-width="1.8"/>
<line x1="191.7" y1="168.8" x2="256" y2="168.8" stroke="#000" stroke-width="1.6"/>
<path d="M189.8 167.19H191.7M189.8 165.58H191.7M189.8 163.96H191.7M189.8 162.35H191.7M189.8 160.74H191.7M189.8 159.12H191.7M189.8 157.51H191.7M189.8 155.9H191.7M189.8 154.29H191.7M189.3 152.68H191.7M189.8 151.06H191.7M189.8 149.45H191.7M189.8 147.84H191.7M189.8 146.22H191.7M189.8 144.61H191.7M189.8 143H191.7M189.8 141.39H191.7M189.8 139.78H191.7M189.8 138.16H191.7M189.3 136.55H191.7M189.8 134.94H191.7M189.8 133.32H191.7M189.8 131.71H191.7M189.8 130.1H191.7M189.8 128.49H191.7M189.8 126.88H191.7M189.8 125.26H191.7M189.8 123.65H191.7M189.8 122.04H191.7M189.3 120.42H191.7M189.8 118.81H191.7M189.8 117.2H191.7M189.8 115.59H191.7M189.8 113.97H191.7M189.8 112.36H191.7M189.8 110.75H191.7M189.8 109.14H191.7M189.8 107.53H191.7M189.8 105.91H191.7" stroke="#111" stroke-width="0.75" fill="none"/>
<path d="M191.7 168.8V171.2M193.31 168.8V170.7M194.91 168.8V170.7M196.52 168.8V170.7M198.13 168.8V170.7M199.74 168.8V170.7M201.34 168.8V170.7M202.95 168.8V170.7M204.56 168.8V170.7M206.17 168.8V170.7M207.77 168.8V171.2M209.38 168.8V170.7M210.99 168.8V170.7M212.6 168.8V170.7M214.2 168.8V170.7M215.81 168.8V170.7M217.42 168.8V170.7M219.03 168.8V170.7M220.63 168.8V170.7M222.24 168.8V170.7M223.85 168.8V171.2M225.46 168.8V170.7M227.06 168.8V170.7M228.67 168.8V170.7M230.28 168.8V170.7M231.89 168.8V170.7M233.5 168.8V170.7M235.1 168.8V170.7M236.71 168.8V170.7M238.32 168.8V170.7M239.93 168.8V171.2M241.53 168.8V170.7M243.14 168.8V170.7M244.75 168.8V170.7M246.35 168.8V170.7M247.96 168.8V170.7M249.57 168.8V170.7M251.18 168.8V170.7M252.78 168.8V170.7M254.39 168.8V170.7M256 168.8V171.2" stroke="#111" stroke-width="0.75" fill="none"/>
<text x="84.8" y="31.2" font-size="11.3" font-weight="bold" text-anchor="middle" fill="#000" >WT</text>
<text x="133.2" y="30.9" font-size="11.2" font-weight="bold" text-anchor="start" fill="#000" >PSGL-1<tspan font-size="7.5" dy="-4.5">-/-</tspan></text>
<text x="187.6" y="30.9" font-size="11.2" font-weight="bold" text-anchor="start" fill="#000" letter-spacing="-0.1">FucT-IV<tspan font-size="7.5" dy="-4.5">-/-</tspan><tspan dy="4.5">/VII</tspan><tspan font-size="7.5" dy="-4.5">-/-</tspan></text>
<text x="0.0" y="72.5" font-size="10.9" font-weight="normal" stroke="#000" stroke-width="0.42" textLength="48.4" lengthAdjust="spacingAndGlyphs">Untreated</text>
<text x="13.0" y="135.6" font-size="10.9" font-weight="normal" stroke="#000" stroke-width="0.42" textLength="34.6" lengthAdjust="spacingAndGlyphs">TNF-α-</text>
<text x="12.8" y="148.9" font-size="10.9" font-weight="normal" stroke="#000" stroke-width="0.42" textLength="34.6" lengthAdjust="spacingAndGlyphs">treated</text>
<line x1="48.5" y1="176" x2="250" y2="176" stroke="#000" stroke-width="1.5"/><path d="M249 173.1 L260 176 L249 178.9 Z" fill="#000"/>
<text x="99.2" y="187.6" font-size="10.9" font-weight="normal" stroke="#000" stroke-width="0.42" textLength="108.8" lengthAdjust="spacingAndGlyphs">L-selectin-IgG binding</text>
<path d="M312 96.5 L312.6 93.25 L313.2 90.68 L313.8 89.46 L314.4 85.92 L315 82.82 L315.6 82.16 L316.2 78.36 L316.8 76.64 L317.4 75.84 L318 75.21 L318.6 71.65 L319.2 69.93 L319.8 68.24 L320.4 69.03 L321 69.81 L321.6 69.46 L322.2 66.91 L322.8 67.97 L323.4 69.79 L324 67.94 L324.6 68.13 L325.2 71.52 L325.8 72.49 L326.4 76.39 L327 80.59 L327.6 82.59 L328.2 86.48 L328.8 88.91 L329.4 90.28 L330 92.45 L330.6 93.36 L331.2 94.16 L331.8 95.54 L332.4 95.8 L333 95.82 L333.6 96.65 L334.2 97.39 L334.8 97.68 L335.4 98.35 L336 98.79 L336.6 98.9 L337.2 98.87 L337.8 99.1 L338.4 99.1 L339 99.1 L339.6 99.1 L340.2 99.1 L340.8 99.1 L341.4 99.1 L342 99.1 L342.6 99.1 L343.2 99.1 L343.8 99.1 L344.4 99.1 L345 99.1 L345.6 99.1 L346.2 99.1 L346.8 99.1 L347.4 99.1 L348 99.1 L348.6 99.1 L349.2 99.1 L349.8 99.1 L350.4 99.1 L351 99.1 L351.6 99.1 L352.2 99.1 L352.8 99.1 L353.4 99.1 L354 99.1 L354.6 99.1 L355.2 99.1 L355.8 99.1 L356.4 99.1 L357 99.1 L357.6 99.1 L358.2 99.1 L358.8 99.1 L359.4 99.1 L360 99.1 L360.6 99.1 L361.2 99.1 L361.8 99.1 L362.4 99.1 L363 99.1 L363.6 99.1 L364.2 99.1 L364.8 99.1 L365.4 99.1 L366 99.1 L366.6 99.1 L367.2 99.1 L367.8 99.1 L368.4 99.1 L369 99.1 L369.6 99.1 L370.2 99.1 L370.8 99.1 L371.4 99.1 L372 99.1 L372.6 99.1 L373.2 99.1 L373.8 99.1 L374.4 99.1 L375 99.1 L375.6 99.1 L376.2 99.1 L376.2 99.1 L312 99.1 Z" fill="#d3d3d3" stroke="#707070" stroke-width="0.85" stroke-linejoin="round"/>
<path d="M312 90.7 L312.45 87.1 L312.9 78.23 L313.35 70.76 L313.8 68.55 L314.25 62.93 L314.7 60.16 L315.15 47.72 L315.6 52.55 L316.05 43.39 L316.5 44.26 L316.95 49.76 L317.4 54.45 L317.85 57.33 L318.3 55.72 L318.75 49.79 L319.2 48.08 L319.65 52.17 L320.1 57.62 L320.55 54.85 L321 56.96 L321.45 57.17 L321.9 60.07 L322.35 62.01 L322.8 67.75 L323.25 63.11 L323.7 68.79 L324.15 76.09 L324.6 71.85 L325.05 72.51 L325.5 78.85 L325.95 80.81 L326.4 82.94 L326.85 85.92 L327.3 86.74 L327.75 86.78 L328.2 89.18 L328.65 90.08 L329.1 91.97 L329.55 91.8 L330 92.82 L330.45 93.11 L330.9 94.03 L331.35 94.32 L331.8 95.36 L332.25 94.49 L332.7 96.68 L333.15 96.98 L333.6 98.88 L334.05 98.26 L334.5 97.27 L334.95 98.46 L335.4 97.54 L335.85 98.93 L336.3 98.97 L336.75 99.1 L337.2 99.1 L337.65 99.1 L338.1 99.1 L338.55 99.1 L339 99.1 L339.45 99.1 L339.9 99.1 L340.35 99.1 L340.8 99.1 L341.25 99.1 L341.7 99.1 L342.15 99.1 L342.6 99.1 L343.05 99.1 L343.5 99.1 L343.95 99.1 L344.4 99.1 L344.85 99.1 L345.3 99.1 L345.75 99.1 L346.2 99.1 L346.65 99.1 L347.1 99.1 L347.55 99.1 L348 99.1 L348.45 99.1 L348.9 99.1 L349.35 99.1 L349.8 99.1 L350.25 99.1 L350.7 99.1 L351.15 99.1 L351.6 99.1 L352.05 99.1 L352.5 99.1 L352.95 99.1 L353.4 99.1 L353.85 99.1 L354.3 99.1 L354.75 99.1 L355.2 99.1 L355.65 99.1 L356.1 99.1 L356.55 99.1 L357 99.1 L357.45 99.1 L357.9 99.1 L358.35 99.1 L358.8 99.1 L359.25 99.1 L359.7 99.1 L360.15 99.1 L360.6 99.1 L361.05 99.1 L361.5 99.1 L361.95 99.1 L362.4 99.1 L362.85 99.1 L363.3 99.1 L363.75 99.1 L364.2 99.1 L364.65 99.1 L365.1 99.1 L365.55 99.1 L366 99.1 L366.45 99.1 L366.9 99.1 L367.35 99.1 L367.8 99.1 L368.25 99.1 L368.7 99.1 L369.15 99.1 L369.6 99.1 L370.05 99.1 L370.5 99.1 L370.95 99.1 L371.4 99.1 L371.85 99.1 L372.3 99.1 L372.75 99.1 L373.2 99.1 L373.65 99.1 L374.1 99.1 L374.55 99.1 L375 99.1 L375.45 99.1 L375.9 99.1 L376.35 99.1" fill="none" stroke="#6a6a6a" stroke-width="1.1" stroke-linejoin="round"/>
<path d="M312 91.03 L312.45 90.63 L312.9 88.86 L313.35 88.6 L313.8 86.94 L314.25 85.45 L314.7 85.01 L315.15 83.74 L315.6 84.35 L316.05 81.61 L316.5 80.4 L316.95 77.39 L317.4 77.76 L317.85 74.32 L318.3 73.99 L318.75 75.79 L319.2 69.99 L319.65 71.87 L320.1 66.88 L320.55 65.61 L321 67.02 L321.45 65.03 L321.9 59.78 L322.35 59.57 L322.8 57.98 L323.25 57.41 L323.7 48.82 L324.15 52.89 L324.6 54.62 L325.05 52.87 L325.5 53.76 L325.95 43 L326.4 37.04 L326.85 38.86 L327.3 46.29 L327.75 39.09 L328.2 46.1 L328.65 34.6 L329.1 34.6 L329.55 41.47 L330 39.47 L330.45 47.33 L330.9 41.81 L331.35 50.35 L331.8 49.69 L332.25 52.83 L332.7 53.19 L333.15 60.68 L333.6 57.53 L334.05 60.84 L334.5 68.95 L334.95 66.8 L335.4 72.07 L335.85 72.15 L336.3 70.81 L336.75 73.57 L337.2 76.79 L337.65 76.89 L338.1 76.98 L338.55 79.9 L339 78.42 L339.45 79.42 L339.9 79.41 L340.35 77.77 L340.8 83.43 L341.25 83.73 L341.7 84.14 L342.15 81.7 L342.6 87.59 L343.05 87.53 L343.5 86.82 L343.95 87.98 L344.4 90.03 L344.85 89.45 L345.3 90.53 L345.75 90.08 L346.2 91.29 L346.65 94.05 L347.1 94.76 L347.55 92.08 L348 95.15 L348.45 92.87 L348.9 92 L349.35 94.8 L349.8 94.04 L350.25 92.37 L350.7 94.04 L351.15 93.09 L351.6 94.62 L352.05 93.93 L352.5 93.85 L352.95 95.37 L353.4 95.5 L353.85 95.12 L354.3 96.58 L354.75 97.05 L355.2 96.02 L355.65 96.78 L356.1 95.92 L356.55 95.17 L357 95.72 L357.45 96.58 L357.9 96.37 L358.35 97.07 L358.8 97.04 L359.25 97.23 L359.7 96.63 L360.15 97.38 L360.6 97.04 L361.05 97.96 L361.5 97.91 L361.95 97.04 L362.4 98.32 L362.85 97.83 L363.3 98.2 L363.75 98.63 L364.2 97.7 L364.65 97.05 L365.1 98.48 L365.55 97.92 L366 98.2 L366.45 96.35 L366.9 97.35 L367.35 97.78 L367.8 97.54 L368.25 98.04 L368.7 98.25 L369.15 97.52 L369.6 98.04 L370.05 98.39 L370.5 97.57 L370.95 98.42 L371.4 97.29 L371.85 97.28 L372.3 96.86 L372.75 97.95 L373.2 98.6 L373.65 97.95 L374.1 98.97 L374.55 98.83 L375 98.49 L375.45 99.1 L375.9 98.68 L376.35 99.01" fill="none" stroke="#000" stroke-width="1.5" stroke-linejoin="round"/>
<line x1="331.7" y1="80.9" x2="376.5" y2="80.9" stroke="#111" stroke-width="1.1"/>
<line x1="331.7" y1="78.2" x2="331.7" y2="83.6" stroke="#111" stroke-width="1.0"/>
<rect x="312" y="34.6" width="64.5" height="64.5" fill="none" stroke="#111" stroke-width="1.3"/>
<line x1="312" y1="34.6" x2="312" y2="99.1" stroke="#000" stroke-width="1.8"/>
<line x1="312" y1="99.1" x2="376.5" y2="99.1" stroke="#000" stroke-width="1.6"/>
<path d="M310.1 97.49H312M310.1 95.88H312M310.1 94.26H312M310.1 92.65H312M310.1 91.04H312M310.1 89.42H312M310.1 87.81H312M310.1 86.2H312M310.1 84.59H312M309.6 82.97H312M310.1 81.36H312M310.1 79.75H312M310.1 78.14H312M310.1 76.52H312M310.1 74.91H312M310.1 73.3H312M310.1 71.69H312M310.1 70.07H312M310.1 68.46H312M309.6 66.85H312M310.1 65.24H312M310.1 63.62H312M310.1 62.01H312M310.1 60.4H312M310.1 58.79H312M310.1 57.17H312M310.1 55.56H312M310.1 53.95H312M310.1 52.34H312M309.6 50.72H312M310.1 49.11H312M310.1 47.5H312M310.1 45.89H312M310.1 44.27H312M310.1 42.66H312M310.1 41.05H312M310.1 39.44H312M310.1 37.82H312M310.1 36.21H312" stroke="#111" stroke-width="0.75" fill="none"/>
<path d="M312 99.1V101.5M313.61 99.1V101M315.23 99.1V101M316.84 99.1V101M318.45 99.1V101M320.06 99.1V101M321.68 99.1V101M323.29 99.1V101M324.9 99.1V101M326.51 99.1V101M328.12 99.1V101.5M329.74 99.1V101M331.35 99.1V101M332.96 99.1V101M334.57 99.1V101M336.19 99.1V101M337.8 99.1V101M339.41 99.1V101M341.02 99.1V101M342.64 99.1V101M344.25 99.1V101.5M345.86 99.1V101M347.48 99.1V101M349.09 99.1V101M350.7 99.1V101M352.31 99.1V101M353.93 99.1V101M355.54 99.1V101M357.15 99.1V101M358.76 99.1V101M360.38 99.1V101.5M361.99 99.1V101M363.6 99.1V101M365.21 99.1V101M366.82 99.1V101M368.44 99.1V101M370.05 99.1V101M371.66 99.1V101M373.27 99.1V101M374.89 99.1V101M376.5 99.1V101.5" stroke="#111" stroke-width="0.75" fill="none"/>
<text x="374.3" y="44.9" font-size="9.6" font-weight="bold" text-anchor="end" fill="#000" >(43)</text>
<text x="374.6" y="78.2" font-size="9.4" font-weight="bold" text-anchor="end" fill="#000" >38%</text>
<path d="M312 147.47 L312.6 146.22 L313.2 141.08 L313.8 141.89 L314.4 139.5 L315 137.48 L315.6 132.72 L316.2 130.86 L316.8 128.76 L317.4 132.16 L318 126.66 L318.6 128.96 L319.2 129.07 L319.8 134.24 L320.4 133.86 L321 135.04 L321.6 135.78 L322.2 141.35 L322.8 141.44 L323.4 143.28 L324 147.84 L324.6 147.1 L325.2 148.3 L325.8 152.38 L326.4 154.7 L327 156.3 L327.6 159.15 L328.2 161.01 L328.8 162.36 L329.4 163.33 L330 164.72 L330.6 164.96 L331.2 164.81 L331.8 166.3 L332.4 167.31 L333 166.61 L333.6 167.61 L334.2 167.74 L334.8 167.53 L335.4 168.08 L336 168.6 L336.6 168.8 L337.2 168.8 L337.8 168.8 L338.4 168.8 L339 168.8 L339.6 168.8 L340.2 168.8 L340.8 168.8 L341.4 168.8 L342 168.8 L342.6 168.8 L343.2 168.8 L343.8 168.8 L344.4 168.8 L345 168.8 L345.6 168.8 L346.2 168.8 L346.8 168.8 L347.4 168.8 L348 168.8 L348.6 168.8 L349.2 168.8 L349.8 168.8 L350.4 168.8 L351 168.8 L351.6 168.8 L352.2 168.8 L352.8 168.8 L353.4 168.8 L354 168.8 L354.6 168.8 L355.2 168.8 L355.8 168.8 L356.4 168.8 L357 168.8 L357.6 168.8 L358.2 168.8 L358.8 168.8 L359.4 168.8 L360 168.8 L360.6 168.8 L361.2 168.8 L361.8 168.8 L362.4 168.8 L363 168.8 L363.6 168.8 L364.2 168.8 L364.8 168.8 L365.4 168.8 L366 168.8 L366.6 168.8 L367.2 168.8 L367.8 168.8 L368.4 168.8 L369 168.8 L369.6 168.8 L370.2 168.8 L370.8 168.8 L371.4 168.8 L372 168.8 L372.6 168.8 L373.2 168.8 L373.8 168.8 L374.4 168.8 L375 168.8 L375.6 168.8 L376.2 168.8 L376.2 168.8 L312 168.8 Z" fill="#d3d3d3" stroke="#707070" stroke-width="0.85" stroke-linejoin="round"/>
<path d="M312 147.7 L312.45 150.43 L312.9 144.89 L313.35 142.41 L313.8 136.78 L314.25 130.59 L314.7 136.6 L315.15 130.25 L315.6 129.64 L316.05 126.58 L316.5 120.6 L316.95 122.94 L317.4 117.14 L317.85 123.77 L318.3 125.79 L318.75 129.95 L319.2 130.89 L319.65 131.55 L320.1 133.9 L320.55 135.84 L321 136.3 L321.45 138.73 L321.9 136.09 L322.35 136.93 L322.8 139.92 L323.25 143.25 L323.7 145.39 L324.15 142.87 L324.6 149.75 L325.05 145.63 L325.5 150.16 L325.95 150.44 L326.4 153.13 L326.85 154.73 L327.3 157.42 L327.75 158.03 L328.2 158.74 L328.65 158.51 L329.1 160.84 L329.55 162.02 L330 163.09 L330.45 164.59 L330.9 164.54 L331.35 164.76 L331.8 166 L332.25 167.67 L332.7 166.11 L333.15 167.27 L333.6 167.75 L334.05 168.61 L334.5 168.72 L334.95 168.8 L335.4 168.8 L335.85 168.8 L336.3 168.8 L336.75 168.8 L337.2 168.8 L337.65 168.8 L338.1 168.8 L338.55 168.8 L339 168.8 L339.45 168.8 L339.9 168.8 L340.35 168.8 L340.8 168.8 L341.25 168.8 L341.7 168.8 L342.15 168.8 L342.6 168.8 L343.05 168.8 L343.5 168.8 L343.95 168.8 L344.4 168.8 L344.85 168.8 L345.3 168.8 L345.75 168.8 L346.2 168.8 L346.65 168.8 L347.1 168.8 L347.55 168.8 L348 168.8 L348.45 168.8 L348.9 168.8 L349.35 168.8 L349.8 168.8 L350.25 168.8 L350.7 168.8 L351.15 168.8 L351.6 168.8 L352.05 168.8 L352.5 168.8 L352.95 168.8 L353.4 168.8 L353.85 168.8 L354.3 168.8 L354.75 168.8 L355.2 168.8 L355.65 168.8 L356.1 168.8 L356.55 168.8 L357 168.8 L357.45 168.8 L357.9 168.8 L358.35 168.8 L358.8 168.8 L359.25 168.8 L359.7 168.8 L360.15 168.8 L360.6 168.8 L361.05 168.8 L361.5 168.8 L361.95 168.8 L362.4 168.8 L362.85 168.8 L363.3 168.8 L363.75 168.8 L364.2 168.8 L364.65 168.8 L365.1 168.8 L365.55 168.8 L366 168.8 L366.45 168.8 L366.9 168.8 L367.35 168.8 L367.8 168.8 L368.25 168.8 L368.7 168.8 L369.15 168.8 L369.6 168.8 L370.05 168.8 L370.5 168.8 L370.95 168.8 L371.4 168.8 L371.85 168.8 L372.3 168.8 L372.75 168.8 L373.2 168.8 L373.65 168.8 L374.1 168.8 L374.55 168.8 L375 168.8 L375.45 168.8 L375.9 168.8 L376.35 168.8" fill="none" stroke="#6a6a6a" stroke-width="1.1" stroke-linejoin="round"/>
<path d="M312 163.74 L312.45 163.07 L312.9 162.66 L313.35 161.42 L313.8 162.75 L314.25 158.17 L314.7 160.56 L315.15 159.2 L315.6 156.39 L316.05 156.74 L316.5 157.36 L316.95 156.3 L317.4 153.02 L317.85 154.81 L318.3 152.34 L318.75 152.49 L319.2 150.95 L319.65 148.1 L320.1 148.72 L320.55 144.63 L321 141.31 L321.45 142.85 L321.9 140.49 L322.35 136.48 L322.8 139.49 L323.25 138.57 L323.7 138.6 L324.15 131.15 L324.6 133.13 L325.05 134.56 L325.5 125.84 L325.95 130.02 L326.4 125.63 L326.85 122.46 L327.3 133.14 L327.75 125.92 L328.2 134.12 L328.65 130.82 L329.1 134.64 L329.55 130.16 L330 133.77 L330.45 137.22 L330.9 140.54 L331.35 137.13 L331.8 141.12 L332.25 143.84 L332.7 143.3 L333.15 143.34 L333.6 146.27 L334.05 149.06 L334.5 147 L334.95 150.62 L335.4 151.2 L335.85 152.98 L336.3 151.24 L336.75 153.78 L337.2 151.31 L337.65 153.33 L338.1 153.47 L338.55 153.19 L339 152.25 L339.45 151.61 L339.9 152.36 L340.35 154.34 L340.8 154.14 L341.25 153.88 L341.7 155.69 L342.15 155.77 L342.6 154.78 L343.05 156.66 L343.5 157.23 L343.95 158.03 L344.4 158.27 L344.85 157.99 L345.3 159.61 L345.75 161 L346.2 157.99 L346.65 159.31 L347.1 157.77 L347.55 159.74 L348 161.05 L348.45 162.47 L348.9 160.18 L349.35 160.93 L349.8 162.76 L350.25 164.15 L350.7 162.89 L351.15 164.53 L351.6 163.71 L352.05 163.77 L352.5 163.99 L352.95 162.24 L353.4 163.86 L353.85 164.85 L354.3 164.57 L354.75 164.8 L355.2 166.41 L355.65 165.65 L356.1 164.56 L356.55 165.61 L357 166.35 L357.45 165.84 L357.9 166.48 L358.35 166.28 L358.8 165.66 L359.25 166.53 L359.7 167.67 L360.15 166.89 L360.6 166.53 L361.05 167.57 L361.5 166.62 L361.95 167.71 L362.4 166.33 L362.85 167.33 L363.3 167.66 L363.75 167.93 L364.2 167.09 L364.65 167.01 L365.1 167.17 L365.55 167.85 L366 167.7 L366.45 167.57 L366.9 168.03 L367.35 166.8 L367.8 167.76 L368.25 168.12 L368.7 168.11 L369.15 168.58 L369.6 168.4 L370.05 166.79 L370.5 168.3 L370.95 168.01 L371.4 168.37 L371.85 167.84 L372.3 166.67 L372.75 167.34 L373.2 168.14 L373.65 168.11 L374.1 167.38 L374.55 168.47 L375 168.3 L375.45 168.8 L375.9 168.11 L376.35 168.55" fill="none" stroke="#000" stroke-width="1.5" stroke-linejoin="round"/>
<line x1="331.4" y1="150.6" x2="376.5" y2="150.6" stroke="#111" stroke-width="1.1"/>
<line x1="331.4" y1="147.9" x2="331.4" y2="153.3" stroke="#111" stroke-width="1.0"/>
<rect x="312" y="104.3" width="64.5" height="64.5" fill="none" stroke="#111" stroke-width="1.3"/>
<line x1="312" y1="104.3" x2="312" y2="168.8" stroke="#000" stroke-width="1.8"/>
<line x1="312" y1="168.8" x2="376.5" y2="168.8" stroke="#000" stroke-width="1.6"/>
<path d="M310.1 167.19H312M310.1 165.58H312M310.1 163.96H312M310.1 162.35H312M310.1 160.74H312M310.1 159.12H312M310.1 157.51H312M310.1 155.9H312M310.1 154.29H312M309.6 152.68H312M310.1 151.06H312M310.1 149.45H312M310.1 147.84H312M310.1 146.22H312M310.1 144.61H312M310.1 143H312M310.1 141.39H312M310.1 139.78H312M310.1 138.16H312M309.6 136.55H312M310.1 134.94H312M310.1 133.32H312M310.1 131.71H312M310.1 130.1H312M310.1 128.49H312M310.1 126.88H312M310.1 125.26H312M310.1 123.65H312M310.1 122.04H312M309.6 120.42H312M310.1 118.81H312M310.1 117.2H312M310.1 115.59H312M310.1 113.97H312M310.1 112.36H312M310.1 110.75H312M310.1 109.14H312M310.1 107.53H312M310.1 105.91H312" stroke="#111" stroke-width="0.75" fill="none"/>
<path d="M312 168.8V171.2M313.61 168.8V170.7M315.23 168.8V170.7M316.84 168.8V170.7M318.45 168.8V170.7M320.06 168.8V170.7M321.68 168.8V170.7M323.29 168.8V170.7M324.9 168.8V170.7M326.51 168.8V170.7M328.12 168.8V171.2M329.74 168.8V170.7M331.35 168.8V170.7M332.96 168.8V170.7M334.57 168.8V170.7M336.19 168.8V170.7M337.8 168.8V170.7M339.41 168.8V170.7M341.02 168.8V170.7M342.64 168.8V170.7M344.25 168.8V171.2M345.86 168.8V170.7M347.48 168.8V170.7M349.09 168.8V170.7M350.7 168.8V170.7M352.31 168.8V170.7M353.93 168.8V170.7M355.54 168.8V170.7M357.15 168.8V170.7M358.76 168.8V170.7M360.38 168.8V171.2M361.99 168.8V170.7M363.6 168.8V170.7M365.21 168.8V170.7M366.82 168.8V170.7M368.44 168.8V170.7M370.05 168.8V170.7M371.66 168.8V170.7M373.27 168.8V170.7M374.89 168.8V170.7M376.5 168.8V171.2" stroke="#111" stroke-width="0.75" fill="none"/>
<text x="374.3" y="114.6" font-size="9.6" font-weight="bold" text-anchor="end" fill="#000" >(64)</text>
<text x="374.6" y="147.9" font-size="9.4" font-weight="bold" text-anchor="end" fill="#000" >41%</text>
<path d="M383 96.1 L383.6 91.35 L384.2 85.2 L384.8 81.28 L385.4 77.62 L386 72.66 L386.6 68.01 L387.2 68.62 L387.8 60.37 L388.4 57.01 L389 61.76 L389.6 54.4 L390.2 56.33 L390.8 57.63 L391.4 60.54 L392 62.16 L392.6 64.02 L393.2 66.36 L393.8 68.21 L394.4 71.99 L395 77.57 L395.6 77.51 L396.2 80.54 L396.8 81.43 L397.4 84.08 L398 85.1 L398.6 85.59 L399.2 87.35 L399.8 88.06 L400.4 89.54 L401 92.74 L401.6 92.85 L402.2 94.12 L402.8 93.3 L403.4 94.11 L404 94.94 L404.6 95.01 L405.2 95.37 L405.8 97.27 L406.4 97.02 L407 97.93 L407.6 97.86 L408.2 98.69 L408.8 99.1 L409.4 99.1 L410 99.1 L410.6 99.1 L411.2 99.1 L411.8 99.1 L412.4 99.1 L413 99.1 L413.6 99.1 L414.2 99.1 L414.8 99.1 L415.4 99.1 L416 99.1 L416.6 99.1 L417.2 99.1 L417.8 99.1 L418.4 99.1 L419 99.1 L419.6 99.1 L420.2 99.1 L420.8 99.1 L421.4 99.1 L422 99.1 L422.6 99.1 L423.2 99.1 L423.8 99.1 L424.4 99.1 L425 99.1 L425.6 99.1 L426.2 99.1 L426.8 99.1 L427.4 99.1 L428 99.1 L428.6 99.1 L429.2 99.1 L429.8 99.1 L430.4 99.1 L431 99.1 L431.6 99.1 L432.2 99.1 L432.8 99.1 L433.4 99.1 L434 99.1 L434.6 99.1 L435.2 99.1 L435.8 99.1 L436.4 99.1 L437 99.1 L437.6 99.1 L438.2 99.1 L438.8 99.1 L439.4 99.1 L440 99.1 L440.6 99.1 L441.2 99.1 L441.8 99.1 L442.4 99.1 L443 99.1 L443.6 99.1 L444.2 99.1 L444.8 99.1 L445.4 99.1 L446 99.1 L446.6 99.1 L447.2 99.1 L447.2 99.1 L383 99.1 Z" fill="#d3d3d3" stroke="#707070" stroke-width="0.85" stroke-linejoin="round"/>
<path d="M383 91.74 L383.45 88.31 L383.9 82.61 L384.35 81.35 L384.8 75.18 L385.25 71.35 L385.7 67.19 L386.15 66.97 L386.6 60.21 L387.05 55.88 L387.5 62.58 L387.95 49.68 L388.4 58.01 L388.85 61.54 L389.3 60.38 L389.75 53.58 L390.2 57.15 L390.65 58.8 L391.1 57.86 L391.55 60.25 L392 62.21 L392.45 62.03 L392.9 62.22 L393.35 69.15 L393.8 69.96 L394.25 75.54 L394.7 73.75 L395.15 76.66 L395.6 74.91 L396.05 78.36 L396.5 80.46 L396.95 81.38 L397.4 81.82 L397.85 84.12 L398.3 86.02 L398.75 85.85 L399.2 89.31 L399.65 88.56 L400.1 90.03 L400.55 90.42 L401 89.25 L401.45 92.43 L401.9 92.88 L402.35 94.72 L402.8 92.72 L403.25 93.94 L403.7 95.53 L404.15 95.23 L404.6 96.35 L405.05 95.98 L405.5 97.17 L405.95 97.46 L406.4 97 L406.85 97.82 L407.3 97.59 L407.75 98.91 L408.2 98.75 L408.65 99.01 L409.1 99.1 L409.55 99.1 L410 99.1 L410.45 99.1 L410.9 99.1 L411.35 99.1 L411.8 99.1 L412.25 99.1 L412.7 99.1 L413.15 99.1 L413.6 99.1 L414.05 99.1 L414.5 99.1 L414.95 99.1 L415.4 99.1 L415.85 99.1 L416.3 99.1 L416.75 99.1 L417.2 99.1 L417.65 99.1 L418.1 99.1 L418.55 99.1 L419 99.1 L419.45 99.1 L419.9 99.1 L420.35 99.1 L420.8 99.1 L421.25 99.1 L421.7 99.1 L422.15 99.1 L422.6 99.1 L423.05 99.1 L423.5 99.1 L423.95 99.1 L424.4 99.1 L424.85 99.1 L425.3 99.1 L425.75 99.1 L426.2 99.1 L426.65 99.1 L427.1 99.1 L427.55 99.1 L428 99.1 L428.45 99.1 L428.9 99.1 L429.35 99.1 L429.8 99.1 L430.25 99.1 L430.7 99.1 L431.15 99.1 L431.6 99.1 L432.05 99.1 L432.5 99.1 L432.95 99.1 L433.4 99.1 L433.85 99.1 L434.3 99.1 L434.75 99.1 L435.2 99.1 L435.65 99.1 L436.1 99.1 L436.55 99.1 L437 99.1 L437.45 99.1 L437.9 99.1 L438.35 99.1 L438.8 99.1 L439.25 99.1 L439.7 99.1 L440.15 99.1 L440.6 99.1 L441.05 99.1 L441.5 99.1 L441.95 99.1 L442.4 99.1 L442.85 99.1 L443.3 99.1 L443.75 99.1 L444.2 99.1 L444.65 99.1 L445.1 99.1 L445.55 99.1 L446 99.1 L446.45 99.1 L446.9 99.1 L447.35 99.1" fill="none" stroke="#6a6a6a" stroke-width="1.1" stroke-linejoin="round"/>
<path d="M383 98.11 L383.45 97.28 L383.9 98.19 L384.35 96.97 L384.8 95.81 L385.25 94.46 L385.7 93.92 L386.15 95.02 L386.6 93.81 L387.05 92.65 L387.5 91.65 L387.95 91.46 L388.4 90.44 L388.85 90.49 L389.3 90.37 L389.75 91.6 L390.2 90.85 L390.65 90.27 L391.1 87.48 L391.55 85.58 L392 86.14 L392.45 84.43 L392.9 83.34 L393.35 82.46 L393.8 78.81 L394.25 76.77 L394.7 77.89 L395.15 72.32 L395.6 72.88 L396.05 67.99 L396.5 65.07 L396.95 69.11 L397.4 70.28 L397.85 62.03 L398.3 62.89 L398.75 61.67 L399.2 60.69 L399.65 69.39 L400.1 64.15 L400.55 66.38 L401 59.73 L401.45 63.36 L401.9 65.96 L402.35 66.79 L402.8 64.21 L403.25 69.17 L403.7 63.11 L404.15 66.72 L404.6 67.93 L405.05 66.39 L405.5 72.73 L405.95 70.65 L406.4 71.63 L406.85 73.84 L407.3 75.47 L407.75 73.6 L408.2 75.24 L408.65 76.73 L409.1 71.38 L409.55 74.65 L410 76.18 L410.45 74.9 L410.9 77.11 L411.35 76.06 L411.8 79.42 L412.25 80.66 L412.7 81.48 L413.15 82.76 L413.6 84.1 L414.05 82.78 L414.5 83.65 L414.95 83.65 L415.4 83.82 L415.85 82.45 L416.3 83.6 L416.75 82.27 L417.2 85.06 L417.65 85.82 L418.1 85.83 L418.55 84.27 L419 86.46 L419.45 83.8 L419.9 85.64 L420.35 84.22 L420.8 89.02 L421.25 83.2 L421.7 87.13 L422.15 86.2 L422.6 85.6 L423.05 88.12 L423.5 89.23 L423.95 89.6 L424.4 89.16 L424.85 88.88 L425.3 89.73 L425.75 89.08 L426.2 90.93 L426.65 91.56 L427.1 90.17 L427.55 90.45 L428 91.12 L428.45 91.02 L428.9 92.78 L429.35 91.02 L429.8 91.49 L430.25 94.46 L430.7 94.22 L431.15 95.44 L431.6 95.41 L432.05 95.53 L432.5 95.09 L432.95 97.5 L433.4 97.22 L433.85 96.6 L434.3 96.92 L434.75 96.26 L435.2 96.48 L435.65 97.74 L436.1 96.7 L436.55 97.67 L437 97.24 L437.45 97.17 L437.9 97.69 L438.35 97.88 L438.8 97.52 L439.25 97.76 L439.7 98.43 L440.15 97.77 L440.6 97.47 L441.05 98.82 L441.5 98.15 L441.95 97.77 L442.4 98.71 L442.85 96.99 L443.3 98.14 L443.75 99.03 L444.2 97.67 L444.65 98.14 L445.1 98.57 L445.55 99.1 L446 98.88 L446.45 98.77 L446.9 98.05 L447.35 98.11" fill="none" stroke="#000" stroke-width="1.5" stroke-linejoin="round"/>
<line x1="402.4" y1="80.9" x2="447.5" y2="80.9" stroke="#111" stroke-width="1.1"/>
<line x1="402.4" y1="78.2" x2="402.4" y2="83.6" stroke="#111" stroke-width="1.0"/>
<rect x="383" y="34.6" width="64.5" height="64.5" fill="none" stroke="#111" stroke-width="1.3"/>
<line x1="383" y1="34.6" x2="383" y2="99.1" stroke="#000" stroke-width="1.8"/>
<line x1="383" y1="99.1" x2="447.5" y2="99.1" stroke="#000" stroke-width="1.6"/>
<path d="M381.1 97.49H383M381.1 95.88H383M381.1 94.26H383M381.1 92.65H383M381.1 91.04H383M381.1 89.42H383M381.1 87.81H383M381.1 86.2H383M381.1 84.59H383M380.6 82.97H383M381.1 81.36H383M381.1 79.75H383M381.1 78.14H383M381.1 76.52H383M381.1 74.91H383M381.1 73.3H383M381.1 71.69H383M381.1 70.07H383M381.1 68.46H383M380.6 66.85H383M381.1 65.24H383M381.1 63.62H383M381.1 62.01H383M381.1 60.4H383M381.1 58.79H383M381.1 57.17H383M381.1 55.56H383M381.1 53.95H383M381.1 52.34H383M380.6 50.72H383M381.1 49.11H383M381.1 47.5H383M381.1 45.89H383M381.1 44.27H383M381.1 42.66H383M381.1 41.05H383M381.1 39.44H383M381.1 37.82H383M381.1 36.21H383" stroke="#111" stroke-width="0.75" fill="none"/>
<path d="M383 99.1V101.5M384.61 99.1V101M386.23 99.1V101M387.84 99.1V101M389.45 99.1V101M391.06 99.1V101M392.68 99.1V101M394.29 99.1V101M395.9 99.1V101M397.51 99.1V101M399.12 99.1V101.5M400.74 99.1V101M402.35 99.1V101M403.96 99.1V101M405.57 99.1V101M407.19 99.1V101M408.8 99.1V101M410.41 99.1V101M412.02 99.1V101M413.64 99.1V101M415.25 99.1V101.5M416.86 99.1V101M418.48 99.1V101M420.09 99.1V101M421.7 99.1V101M423.31 99.1V101M424.93 99.1V101M426.54 99.1V101M428.15 99.1V101M429.76 99.1V101M431.38 99.1V101.5M432.99 99.1V101M434.6 99.1V101M436.21 99.1V101M437.82 99.1V101M439.44 99.1V101M441.05 99.1V101M442.66 99.1V101M444.27 99.1V101M445.89 99.1V101M447.5 99.1V101.5" stroke="#111" stroke-width="0.75" fill="none"/>
<text x="445.3" y="44.9" font-size="9.6" font-weight="bold" text-anchor="end" fill="#000" >(125)</text>
<text x="445.6" y="78.2" font-size="9.4" font-weight="bold" text-anchor="end" fill="#000" >61%</text>
<path d="M383 167.07 L383.6 166.12 L384.2 165.86 L384.8 165.1 L385.4 163.26 L386 162.83 L386.6 161.17 L387.2 161.77 L387.8 160.36 L388.4 158.1 L389 157.68 L389.6 157.13 L390.2 155.71 L390.8 156.89 L391.4 156.38 L392 154.8 L392.6 154.94 L393.2 154.66 L393.8 154.36 L394.4 153.5 L395 155.77 L395.6 155.37 L396.2 156.1 L396.8 157.63 L397.4 159.01 L398 159.14 L398.6 161.04 L399.2 162.26 L399.8 163.53 L400.4 165.26 L401 164.82 L401.6 166.76 L402.2 166.54 L402.8 167.59 L403.4 167.98 L404 167.94 L404.6 168.55 L405.2 168.8 L405.8 168.8 L406.4 168.8 L407 168.8 L407.6 168.8 L408.2 168.8 L408.8 168.8 L409.4 168.8 L410 168.8 L410.6 168.8 L411.2 168.8 L411.8 168.8 L412.4 168.8 L413 168.8 L413.6 168.8 L414.2 168.8 L414.8 168.8 L415.4 168.8 L416 168.8 L416.6 168.8 L417.2 168.8 L417.8 168.8 L418.4 168.8 L419 168.8 L419.6 168.8 L420.2 168.8 L420.8 168.8 L421.4 168.8 L422 168.8 L422.6 168.8 L423.2 168.8 L423.8 168.8 L424.4 168.8 L425 168.8 L425.6 168.8 L426.2 168.8 L426.8 168.8 L427.4 168.8 L428 168.8 L428.6 168.8 L429.2 168.8 L429.8 168.8 L430.4 168.8 L431 168.8 L431.6 168.8 L432.2 168.8 L432.8 168.8 L433.4 168.8 L434 168.8 L434.6 168.8 L435.2 168.8 L435.8 168.8 L436.4 168.8 L437 168.8 L437.6 168.8 L438.2 168.8 L438.8 168.8 L439.4 168.8 L440 168.8 L440.6 168.8 L441.2 168.8 L441.8 168.8 L442.4 168.8 L443 168.8 L443.6 168.8 L444.2 168.8 L444.8 168.8 L445.4 168.8 L446 168.8 L446.6 168.8 L447.2 168.8 L447.2 168.8 L383 168.8 Z" fill="#d3d3d3" stroke="#707070" stroke-width="0.85" stroke-linejoin="round"/>
<path d="M383 163.65 L383.45 158.79 L383.9 157.27 L384.35 154.92 L384.8 153.32 L385.25 150.64 L385.7 145.62 L386.15 144.67 L386.6 141.2 L387.05 141.51 L387.5 143.64 L387.95 137.27 L388.4 137.68 L388.85 140.95 L389.3 139.31 L389.75 140.16 L390.2 143.52 L390.65 139.94 L391.1 144.27 L391.55 143.56 L392 141.64 L392.45 142.65 L392.9 141.57 L393.35 142.77 L393.8 146.02 L394.25 145.53 L394.7 145.73 L395.15 147.66 L395.6 150.38 L396.05 153.79 L396.5 152.48 L396.95 154.5 L397.4 154.36 L397.85 155.13 L398.3 157.63 L398.75 159.13 L399.2 158.51 L399.65 159 L400.1 160.05 L400.55 160.21 L401 162.42 L401.45 162.34 L401.9 162.45 L402.35 163.65 L402.8 164.61 L403.25 164.98 L403.7 164.62 L404.15 164.88 L404.6 165.25 L405.05 168.4 L405.5 168.29 L405.95 167.79 L406.4 168.35 L406.85 167.79 L407.3 167.05 L407.75 168.33 L408.2 168.56 L408.65 168.74 L409.1 168.8 L409.55 168.8 L410 168.8 L410.45 168.8 L410.9 168.8 L411.35 168.8 L411.8 168.8 L412.25 168.8 L412.7 168.8 L413.15 168.8 L413.6 168.8 L414.05 168.8 L414.5 168.8 L414.95 168.8 L415.4 168.8 L415.85 168.8 L416.3 168.8 L416.75 168.8 L417.2 168.8 L417.65 168.8 L418.1 168.8 L418.55 168.8 L419 168.8 L419.45 168.8 L419.9 168.8 L420.35 168.8 L420.8 168.8 L421.25 168.8 L421.7 168.8 L422.15 168.8 L422.6 168.8 L423.05 168.8 L423.5 168.8 L423.95 168.8 L424.4 168.8 L424.85 168.8 L425.3 168.8 L425.75 168.8 L426.2 168.8 L426.65 168.8 L427.1 168.8 L427.55 168.8 L428 168.8 L428.45 168.8 L428.9 168.8 L429.35 168.8 L429.8 168.8 L430.25 168.8 L430.7 168.8 L431.15 168.8 L431.6 168.8 L432.05 168.8 L432.5 168.8 L432.95 168.8 L433.4 168.8 L433.85 168.8 L434.3 168.8 L434.75 168.8 L435.2 168.8 L435.65 168.8 L436.1 168.8 L436.55 168.8 L437 168.8 L437.45 168.8 L437.9 168.8 L438.35 168.8 L438.8 168.8 L439.25 168.8 L439.7 168.8 L440.15 168.8 L440.6 168.8 L441.05 168.8 L441.5 168.8 L441.95 168.8 L442.4 168.8 L442.85 168.8 L443.3 168.8 L443.75 168.8 L444.2 168.8 L444.65 168.8 L445.1 168.8 L445.55 168.8 L446 168.8 L446.45 168.8 L446.9 168.8 L447.35 168.8" fill="none" stroke="#6a6a6a" stroke-width="1.1" stroke-linejoin="round"/>
<path d="M383 166.66 L383.45 166.49 L383.9 165.64 L384.35 165.54 L384.8 164.68 L385.25 164.75 L385.7 163.79 L386.15 163.71 L386.6 163.16 L387.05 162.35 L387.5 161.83 L387.95 160.5 L388.4 158.2 L388.85 159.86 L389.3 158.56 L389.75 158.96 L390.2 157.17 L390.65 154.24 L391.1 154.98 L391.55 153.36 L392 153.26 L392.45 152.17 L392.9 153.23 L393.35 152.02 L393.8 147.78 L394.25 147.36 L394.7 149.01 L395.15 148.23 L395.6 144.33 L396.05 145.21 L396.5 142.77 L396.95 147.38 L397.4 147.01 L397.85 146.29 L398.3 143.04 L398.75 144.9 L399.2 146.16 L399.65 147.05 L400.1 140.58 L400.55 146.21 L401 145.44 L401.45 145.98 L401.9 147.56 L402.35 148.95 L402.8 150.51 L403.25 150.75 L403.7 152.71 L404.15 152.78 L404.6 157.4 L405.05 153.18 L405.5 155.67 L405.95 156.1 L406.4 154.4 L406.85 156.28 L407.3 157.29 L407.75 157.75 L408.2 154.9 L408.65 154.87 L409.1 153.34 L409.55 155.18 L410 157.84 L410.45 159.79 L410.9 161.78 L411.35 161.24 L411.8 157.41 L412.25 155.7 L412.7 158.75 L413.15 162.83 L413.6 161.3 L414.05 161.87 L414.5 162.24 L414.95 161.32 L415.4 162.34 L415.85 159.7 L416.3 160.93 L416.75 160.22 L417.2 160.75 L417.65 161.57 L418.1 160.31 L418.55 161.72 L419 161.92 L419.45 162.28 L419.9 161.71 L420.35 163.28 L420.8 163.99 L421.25 163.34 L421.7 162.69 L422.15 164.17 L422.6 163.6 L423.05 162.19 L423.5 162.08 L423.95 164.38 L424.4 164.63 L424.85 164.4 L425.3 165.55 L425.75 164.59 L426.2 165.35 L426.65 166.47 L427.1 165.86 L427.55 164.85 L428 167.81 L428.45 166.59 L428.9 167.81 L429.35 165.95 L429.8 166.49 L430.25 167.7 L430.7 167.38 L431.15 166.91 L431.6 167.87 L432.05 166.74 L432.5 167.91 L432.95 167.75 L433.4 166.98 L433.85 167.93 L434.3 166.59 L434.75 167.52 L435.2 165.82 L435.65 166.93 L436.1 167.22 L436.55 167.98 L437 166.54 L437.45 168.51 L437.9 168.8 L438.35 168.61 L438.8 167.93 L439.25 168.08 L439.7 168.37 L440.15 167.53 L440.6 167.77 L441.05 167.66 L441.5 166.96 L441.95 168.41 L442.4 168.46 L442.85 167.87 L443.3 168.48 L443.75 168.06 L444.2 166.76 L444.65 167.35 L445.1 167.37 L445.55 167.59 L446 168.55 L446.45 167.65 L446.9 168.05 L447.35 168.07" fill="none" stroke="#000" stroke-width="1.5" stroke-linejoin="round"/>
<line x1="403" y1="150.6" x2="447.5" y2="150.6" stroke="#111" stroke-width="1.1"/>
<line x1="403" y1="147.9" x2="403" y2="153.3" stroke="#111" stroke-width="1.0"/>
<rect x="383" y="104.3" width="64.5" height="64.5" fill="none" stroke="#111" stroke-width="1.3"/>
<line x1="383" y1="104.3" x2="383" y2="168.8" stroke="#000" stroke-width="1.8"/>
<line x1="383" y1="168.8" x2="447.5" y2="168.8" stroke="#000" stroke-width="1.6"/>
<path d="M381.1 167.19H383M381.1 165.58H383M381.1 163.96H383M381.1 162.35H383M381.1 160.74H383M381.1 159.12H383M381.1 157.51H383M381.1 155.9H383M381.1 154.29H383M380.6 152.68H383M381.1 151.06H383M381.1 149.45H383M381.1 147.84H383M381.1 146.22H383M381.1 144.61H383M381.1 143H383M381.1 141.39H383M381.1 139.78H383M381.1 138.16H383M380.6 136.55H383M381.1 134.94H383M381.1 133.32H383M381.1 131.71H383M381.1 130.1H383M381.1 128.49H383M381.1 126.88H383M381.1 125.26H383M381.1 123.65H383M381.1 122.04H383M380.6 120.42H383M381.1 118.81H383M381.1 117.2H383M381.1 115.59H383M381.1 113.97H383M381.1 112.36H383M381.1 110.75H383M381.1 109.14H383M381.1 107.53H383M381.1 105.91H383" stroke="#111" stroke-width="0.75" fill="none"/>
<path d="M383 168.8V171.2M384.61 168.8V170.7M386.23 168.8V170.7M387.84 168.8V170.7M389.45 168.8V170.7M391.06 168.8V170.7M392.68 168.8V170.7M394.29 168.8V170.7M395.9 168.8V170.7M397.51 168.8V170.7M399.12 168.8V171.2M400.74 168.8V170.7M402.35 168.8V170.7M403.96 168.8V170.7M405.57 168.8V170.7M407.19 168.8V170.7M408.8 168.8V170.7M410.41 168.8V170.7M412.02 168.8V170.7M413.64 168.8V170.7M415.25 168.8V171.2M416.86 168.8V170.7M418.48 168.8V170.7M420.09 168.8V170.7M421.7 168.8V170.7M423.31 168.8V170.7M424.93 168.8V170.7M426.54 168.8V170.7M428.15 168.8V170.7M429.76 168.8V170.7M431.38 168.8V171.2M432.99 168.8V170.7M434.6 168.8V170.7M436.21 168.8V170.7M437.82 168.8V170.7M439.44 168.8V170.7M441.05 168.8V170.7M442.66 168.8V170.7M444.27 168.8V170.7M445.89 168.8V170.7M447.5 168.8V171.2" stroke="#111" stroke-width="0.75" fill="none"/>
<text x="445.3" y="114.6" font-size="9.6" font-weight="bold" text-anchor="end" fill="#000" >(82)</text>
<text x="445.6" y="147.9" font-size="9.4" font-weight="bold" text-anchor="end" fill="#000" >42%</text>
<path d="M453.8 95.81 L454.4 93.14 L455 93.96 L455.6 90.8 L456.2 89.3 L456.8 87.01 L457.4 87.98 L458 85.14 L458.6 80.38 L459.2 82.72 L459.8 84.44 L460.4 77.13 L461 77.95 L461.6 82.83 L462.2 78.56 L462.8 79.31 L463.4 79.89 L464 77.34 L464.6 79.33 L465.2 78.93 L465.8 80.54 L466.4 79.14 L467 84.87 L467.6 85.54 L468.2 85.5 L468.8 85.83 L469.4 88.1 L470 89.66 L470.6 90.09 L471.2 91.79 L471.8 93.99 L472.4 93.73 L473 94.56 L473.6 95.45 L474.2 96.39 L474.8 97.63 L475.4 96.83 L476 98.01 L476.6 98.38 L477.2 99.1 L477.8 99.1 L478.4 99.1 L479 99.1 L479.6 99.1 L480.2 99.1 L480.8 99.1 L481.4 99.1 L482 99.1 L482.6 99.1 L483.2 99.1 L483.8 99.1 L484.4 99.1 L485 99.1 L485.6 99.1 L486.2 99.1 L486.8 99.1 L487.4 99.1 L488 99.1 L488.6 99.1 L489.2 99.1 L489.8 99.1 L490.4 99.1 L491 99.1 L491.6 99.1 L492.2 99.1 L492.8 99.1 L493.4 99.1 L494 99.1 L494.6 99.1 L495.2 99.1 L495.8 99.1 L496.4 99.1 L497 99.1 L497.6 99.1 L498.2 99.1 L498.8 99.1 L499.4 99.1 L500 99.1 L500.6 99.1 L501.2 99.1 L501.8 99.1 L502.4 99.1 L503 99.1 L503.6 99.1 L504.2 99.1 L504.8 99.1 L505.4 99.1 L506 99.1 L506.6 99.1 L507.2 99.1 L507.8 99.1 L508.4 99.1 L509 99.1 L509.6 99.1 L510.2 99.1 L510.8 99.1 L511.4 99.1 L512 99.1 L512.6 99.1 L513.2 99.1 L513.8 99.1 L514.4 99.1 L515 99.1 L515.6 99.1 L516.2 99.1 L516.8 99.1 L517.4 99.1 L518 99.1 L518 99.1 L453.8 99.1 Z" fill="#d3d3d3" stroke="#707070" stroke-width="0.85" stroke-linejoin="round"/>
<path d="M453.8 92.14 L454.25 92.96 L454.7 88.19 L455.15 86.33 L455.6 87.03 L456.05 81.46 L456.5 74.64 L456.95 83.25 L457.4 78.65 L457.85 83.13 L458.3 72.95 L458.75 74.83 L459.2 74.64 L459.65 67.85 L460.1 83.08 L460.55 68.15 L461 75.73 L461.45 74.48 L461.9 68.11 L462.35 77.27 L462.8 70.59 L463.25 78.45 L463.7 75.03 L464.15 71.61 L464.6 75.64 L465.05 77.45 L465.5 77.21 L465.95 76.09 L466.4 85.87 L466.85 80.22 L467.3 85.15 L467.75 82.76 L468.2 87.32 L468.65 82.36 L469.1 81.22 L469.55 85.41 L470 89.14 L470.45 84.87 L470.9 86.49 L471.35 91.11 L471.8 89.06 L472.25 92.36 L472.7 90.53 L473.15 91.87 L473.6 92.7 L474.05 92.25 L474.5 94.55 L474.95 96.5 L475.4 94.5 L475.85 96.69 L476.3 96.25 L476.75 95.88 L477.2 97.66 L477.65 98.06 L478.1 98.77 L478.55 98.31 L479 99.1 L479.45 98.99 L479.9 99.1 L480.35 99.1 L480.8 99.1 L481.25 99.1 L481.7 99.1 L482.15 99.1 L482.6 99.1 L483.05 99.1 L483.5 99.1 L483.95 99.1 L484.4 99.1 L484.85 99.1 L485.3 99.1 L485.75 99.1 L486.2 99.1 L486.65 99.1 L487.1 99.1 L487.55 99.1 L488 99.1 L488.45 99.1 L488.9 99.1 L489.35 99.1 L489.8 99.1 L490.25 99.1 L490.7 99.1 L491.15 99.1 L491.6 99.1 L492.05 99.1 L492.5 99.1 L492.95 99.1 L493.4 99.1 L493.85 99.1 L494.3 99.1 L494.75 99.1 L495.2 99.1 L495.65 99.1 L496.1 99.1 L496.55 99.1 L497 99.1 L497.45 99.1 L497.9 99.1 L498.35 99.1 L498.8 99.1 L499.25 99.1 L499.7 99.1 L500.15 99.1 L500.6 99.1 L501.05 99.1 L501.5 99.1 L501.95 99.1 L502.4 99.1 L502.85 99.1 L503.3 99.1 L503.75 99.1 L504.2 99.1 L504.65 99.1 L505.1 99.1 L505.55 99.1 L506 99.1 L506.45 99.1 L506.9 99.1 L507.35 99.1 L507.8 99.1 L508.25 99.1 L508.7 99.1 L509.15 99.1 L509.6 99.1 L510.05 99.1 L510.5 99.1 L510.95 99.1 L511.4 99.1 L511.85 99.1 L512.3 99.1 L512.75 99.1 L513.2 99.1 L513.65 99.1 L514.1 99.1 L514.55 99.1 L515 99.1 L515.45 99.1 L515.9 99.1 L516.35 99.1 L516.8 99.1 L517.25 99.1 L517.7 99.1 L518.15 99.1" fill="none" stroke="#6a6a6a" stroke-width="1.1" stroke-linejoin="round"/>
<path d="M453.8 94.96 L454.25 91.35 L454.7 92.79 L455.15 90.56 L455.6 83.29 L456.05 82.52 L456.5 83.57 L456.95 79.75 L457.4 78.32 L457.85 87.26 L458.3 83.42 L458.75 74.74 L459.2 77.83 L459.65 79.52 L460.1 85.17 L460.55 65.28 L461 81.63 L461.45 72.33 L461.9 74.3 L462.35 63.96 L462.8 69.71 L463.25 61.37 L463.7 73.14 L464.15 65.22 L464.6 68.11 L465.05 73.94 L465.5 80.11 L465.95 80.67 L466.4 70.95 L466.85 68.12 L467.3 75.94 L467.75 64.56 L468.2 71.22 L468.65 80.25 L469.1 75.17 L469.55 75.51 L470 74.24 L470.45 75.97 L470.9 82.05 L471.35 78.34 L471.8 82.33 L472.25 74.98 L472.7 79.41 L473.15 80.82 L473.6 86.53 L474.05 84.1 L474.5 87.56 L474.95 86.4 L475.4 88.44 L475.85 85.1 L476.3 89.06 L476.75 91.11 L477.2 90.37 L477.65 84.59 L478.1 90.63 L478.55 84.43 L479 90.53 L479.45 91.66 L479.9 91.88 L480.35 93.59 L480.8 88.22 L481.25 91.04 L481.7 93.39 L482.15 92.09 L482.6 93.67 L483.05 89.46 L483.5 92.47 L483.95 95.34 L484.4 95.45 L484.85 93.53 L485.3 92.33 L485.75 95.32 L486.2 92.56 L486.65 95.16 L487.1 94.83 L487.55 93.69 L488 96.21 L488.45 94.3 L488.9 95.48 L489.35 94.44 L489.8 96.6 L490.25 95.51 L490.7 96.72 L491.15 94.69 L491.6 94.93 L492.05 95.65 L492.5 95.19 L492.95 94.33 L493.4 97.61 L493.85 95.64 L494.3 96.2 L494.75 95.71 L495.2 96.53 L495.65 96.25 L496.1 96.03 L496.55 95.7 L497 94.93 L497.45 98.09 L497.9 96.15 L498.35 96.56 L498.8 97.01 L499.25 97.43 L499.7 96.96 L500.15 96.57 L500.6 96.4 L501.05 98.04 L501.5 96.19 L501.95 98.6 L502.4 97.3 L502.85 98.72 L503.3 97.93 L503.75 96.84 L504.2 97.58 L504.65 98.93 L505.1 97.89 L505.55 98.8 L506 98.25 L506.45 98.46 L506.9 97.86 L507.35 96.98 L507.8 98.41 L508.25 98.65 L508.7 96.77 L509.15 97.8 L509.6 97.95 L510.05 97.77 L510.5 96.59 L510.95 96.98 L511.4 97.61 L511.85 98.41 L512.3 98.51 L512.75 98.07 L513.2 98.05 L513.65 98.19 L514.1 97.92 L514.55 97 L515 98.21 L515.45 98.36 L515.9 98.37 L516.35 98.69 L516.8 98.76 L517.25 99.1 L517.7 98.63 L518.15 97.41" fill="none" stroke="#000" stroke-width="1.3" stroke-linejoin="round"/>
<line x1="477" y1="80.9" x2="518.3" y2="80.9" stroke="#111" stroke-width="1.1"/>
<rect x="453.8" y="34.6" width="64.5" height="64.5" fill="none" stroke="#111" stroke-width="1.3"/>
<line x1="453.8" y1="34.6" x2="453.8" y2="99.1" stroke="#000" stroke-width="1.8"/>
<line x1="453.8" y1="99.1" x2="518.3" y2="99.1" stroke="#000" stroke-width="1.6"/>
<path d="M451.9 97.49H453.8M451.9 95.88H453.8M451.9 94.26H453.8M451.9 92.65H453.8M451.9 91.04H453.8M451.9 89.42H453.8M451.9 87.81H453.8M451.9 86.2H453.8M451.9 84.59H453.8M451.4 82.97H453.8M451.9 81.36H453.8M451.9 79.75H453.8M451.9 78.14H453.8M451.9 76.52H453.8M451.9 74.91H453.8M451.9 73.3H453.8M451.9 71.69H453.8M451.9 70.07H453.8M451.9 68.46H453.8M451.4 66.85H453.8M451.9 65.24H453.8M451.9 63.62H453.8M451.9 62.01H453.8M451.9 60.4H453.8M451.9 58.79H453.8M451.9 57.17H453.8M451.9 55.56H453.8M451.9 53.95H453.8M451.9 52.34H453.8M451.4 50.72H453.8M451.9 49.11H453.8M451.9 47.5H453.8M451.9 45.89H453.8M451.9 44.27H453.8M451.9 42.66H453.8M451.9 41.05H453.8M451.9 39.44H453.8M451.9 37.82H453.8M451.9 36.21H453.8" stroke="#111" stroke-width="0.75" fill="none"/>
<path d="M453.8 99.1V101.5M455.41 99.1V101M457.03 99.1V101M458.64 99.1V101M460.25 99.1V101M461.86 99.1V101M463.48 99.1V101M465.09 99.1V101M466.7 99.1V101M468.31 99.1V101M469.93 99.1V101.5M471.54 99.1V101M473.15 99.1V101M474.76 99.1V101M476.38 99.1V101M477.99 99.1V101M479.6 99.1V101M481.21 99.1V101M482.82 99.1V101M484.44 99.1V101M486.05 99.1V101.5M487.66 99.1V101M489.27 99.1V101M490.89 99.1V101M492.5 99.1V101M494.11 99.1V101M495.72 99.1V101M497.34 99.1V101M498.95 99.1V101M500.56 99.1V101M502.17 99.1V101.5M503.79 99.1V101M505.4 99.1V101M507.01 99.1V101M508.62 99.1V101M510.24 99.1V101M511.85 99.1V101M513.46 99.1V101M515.07 99.1V101M516.69 99.1V101M518.3 99.1V101.5" stroke="#111" stroke-width="0.75" fill="none"/>
<text x="516.1" y="44.9" font-size="9.6" font-weight="bold" text-anchor="end" fill="#000" >(37)</text>
<text x="516.4" y="78.2" font-size="9.4" font-weight="bold" text-anchor="end" fill="#000" >38%</text>
<path d="M453.8 164.87 L454.4 164.3 L455 160.75 L455.6 160.22 L456.2 159.26 L456.8 155.63 L457.4 154.72 L458 154.82 L458.6 155.13 L459.2 151.33 L459.8 147.83 L460.4 148.92 L461 151.09 L461.6 151.79 L462.2 153.07 L462.8 150.47 L463.4 150.73 L464 150.72 L464.6 148.91 L465.2 148.18 L465.8 149.13 L466.4 151.08 L467 154.7 L467.6 157.14 L468.2 154.36 L468.8 156.46 L469.4 160.93 L470 159.56 L470.6 161.14 L471.2 161.58 L471.8 163.85 L472.4 163.97 L473 166.07 L473.6 166.53 L474.2 166.72 L474.8 166.87 L475.4 167.23 L476 168.18 L476.6 168.8 L477.2 168.8 L477.8 168.8 L478.4 168.8 L479 168.8 L479.6 168.8 L480.2 168.8 L480.8 168.8 L481.4 168.8 L482 168.8 L482.6 168.8 L483.2 168.8 L483.8 168.8 L484.4 168.8 L485 168.8 L485.6 168.8 L486.2 168.8 L486.8 168.8 L487.4 168.8 L488 168.8 L488.6 168.8 L489.2 168.8 L489.8 168.8 L490.4 168.8 L491 168.8 L491.6 168.8 L492.2 168.8 L492.8 168.8 L493.4 168.8 L494 168.8 L494.6 168.8 L495.2 168.8 L495.8 168.8 L496.4 168.8 L497 168.8 L497.6 168.8 L498.2 168.8 L498.8 168.8 L499.4 168.8 L500 168.8 L500.6 168.8 L501.2 168.8 L501.8 168.8 L502.4 168.8 L503 168.8 L503.6 168.8 L504.2 168.8 L504.8 168.8 L505.4 168.8 L506 168.8 L506.6 168.8 L507.2 168.8 L507.8 168.8 L508.4 168.8 L509 168.8 L509.6 168.8 L510.2 168.8 L510.8 168.8 L511.4 168.8 L512 168.8 L512.6 168.8 L513.2 168.8 L513.8 168.8 L514.4 168.8 L515 168.8 L515.6 168.8 L516.2 168.8 L516.8 168.8 L517.4 168.8 L518 168.8 L518 168.8 L453.8 168.8 Z" fill="#d3d3d3" stroke="#707070" stroke-width="0.85" stroke-linejoin="round"/>
<path d="M453.8 163.09 L454.25 163.56 L454.7 157.02 L455.15 158.64 L455.6 153.92 L456.05 158.34 L456.5 150.56 L456.95 140.72 L457.4 153.33 L457.85 149.52 L458.3 147.04 L458.75 149.22 L459.2 138.88 L459.65 148.73 L460.1 142.55 L460.55 152.3 L461 139.02 L461.45 146 L461.9 146.72 L462.35 139.92 L462.8 154.29 L463.25 145.31 L463.7 139.56 L464.15 139.34 L464.6 139.03 L465.05 148.79 L465.5 143.81 L465.95 143.2 L466.4 142.48 L466.85 147.38 L467.3 148.6 L467.75 148.06 L468.2 158.38 L468.65 153.31 L469.1 156.65 L469.55 158.8 L470 153.56 L470.45 157.33 L470.9 157.85 L471.35 156.62 L471.8 160.96 L472.25 160.32 L472.7 164.75 L473.15 161.66 L473.6 162.43 L474.05 162.36 L474.5 163.69 L474.95 166.99 L475.4 165.83 L475.85 168.37 L476.3 167.61 L476.75 166.68 L477.2 167.41 L477.65 168.47 L478.1 168.03 L478.55 168.44 L479 168.41 L479.45 168.72 L479.9 168.8 L480.35 168.8 L480.8 168.8 L481.25 168.8 L481.7 168.8 L482.15 168.8 L482.6 168.8 L483.05 168.8 L483.5 168.8 L483.95 168.8 L484.4 168.8 L484.85 168.8 L485.3 168.8 L485.75 168.8 L486.2 168.8 L486.65 168.8 L487.1 168.8 L487.55 168.8 L488 168.8 L488.45 168.8 L488.9 168.8 L489.35 168.8 L489.8 168.8 L490.25 168.8 L490.7 168.8 L491.15 168.8 L491.6 168.8 L492.05 168.8 L492.5 168.8 L492.95 168.8 L493.4 168.8 L493.85 168.8 L494.3 168.8 L494.75 168.8 L495.2 168.8 L495.65 168.8 L496.1 168.8 L496.55 168.8 L497 168.8 L497.45 168.8 L497.9 168.8 L498.35 168.8 L498.8 168.8 L499.25 168.8 L499.7 168.8 L500.15 168.8 L500.6 168.8 L501.05 168.8 L501.5 168.8 L501.95 168.8 L502.4 168.8 L502.85 168.8 L503.3 168.8 L503.75 168.8 L504.2 168.8 L504.65 168.8 L505.1 168.8 L505.55 168.8 L506 168.8 L506.45 168.8 L506.9 168.8 L507.35 168.8 L507.8 168.8 L508.25 168.8 L508.7 168.8 L509.15 168.8 L509.6 168.8 L510.05 168.8 L510.5 168.8 L510.95 168.8 L511.4 168.8 L511.85 168.8 L512.3 168.8 L512.75 168.8 L513.2 168.8 L513.65 168.8 L514.1 168.8 L514.55 168.8 L515 168.8 L515.45 168.8 L515.9 168.8 L516.35 168.8 L516.8 168.8 L517.25 168.8 L517.7 168.8 L518.15 168.8" fill="none" stroke="#6a6a6a" stroke-width="1.1" stroke-linejoin="round"/>
<path d="M453.8 165.48 L454.25 160.63 L454.7 157.35 L455.15 160.93 L455.6 155.76 L456.05 159.07 L456.5 149.15 L456.95 157.95 L457.4 156.58 L457.85 157.58 L458.3 144.99 L458.75 154.87 L459.2 151.24 L459.65 153.14 L460.1 153.69 L460.55 142.66 L461 145.77 L461.45 141.37 L461.9 143.33 L462.35 150.73 L462.8 142.9 L463.25 139.3 L463.7 132.38 L464.15 144.61 L464.6 142.66 L465.05 137.05 L465.5 137.54 L465.95 134.19 L466.4 145.16 L466.85 132.51 L467.3 140.7 L467.75 150.68 L468.2 146.43 L468.65 149.53 L469.1 144.4 L469.55 148.5 L470 142.53 L470.45 151.21 L470.9 157.01 L471.35 151.42 L471.8 156.26 L472.25 152.7 L472.7 154.72 L473.15 157.57 L473.6 157.06 L474.05 152.67 L474.5 151.96 L474.95 154.15 L475.4 159.29 L475.85 158.13 L476.3 154.14 L476.75 155.98 L477.2 156.51 L477.65 160.03 L478.1 160.25 L478.55 151.84 L479 152.36 L479.45 158.63 L479.9 157.03 L480.35 160.83 L480.8 161.31 L481.25 161.68 L481.7 162.75 L482.15 163.56 L482.6 161.88 L483.05 161.84 L483.5 163.63 L483.95 161.86 L484.4 161.8 L484.85 163.99 L485.3 163.94 L485.75 164.24 L486.2 162.97 L486.65 164.89 L487.1 164.31 L487.55 164.32 L488 164.79 L488.45 166.41 L488.9 165.67 L489.35 166.36 L489.8 165.78 L490.25 165.93 L490.7 166.41 L491.15 167.24 L491.6 164.61 L492.05 166.57 L492.5 166.31 L492.95 165.67 L493.4 165.63 L493.85 165.9 L494.3 166.26 L494.75 166.24 L495.2 166.18 L495.65 166.57 L496.1 165.76 L496.55 167.41 L497 167.44 L497.45 168.12 L497.9 166.02 L498.35 167.49 L498.8 168.18 L499.25 167.43 L499.7 167.12 L500.15 167.93 L500.6 168.36 L501.05 167.72 L501.5 168.11 L501.95 167.77 L502.4 166.98 L502.85 168.09 L503.3 168.05 L503.75 167.44 L504.2 168.1 L504.65 167.13 L505.1 167.99 L505.55 167.07 L506 167.2 L506.45 168.57 L506.9 168.21 L507.35 167.41 L507.8 168.42 L508.25 168.8 L508.7 167.51 L509.15 166.9 L509.6 167.92 L510.05 168.13 L510.5 168.59 L510.95 168.45 L511.4 167.74 L511.85 167.95 L512.3 167.51 L512.75 168.19 L513.2 167.54 L513.65 168.19 L514.1 168.22 L514.55 168.27 L515 168.03 L515.45 167.76 L515.9 167.82 L516.35 167.42 L516.8 168.8 L517.25 166.72 L517.7 168.27 L518.15 168.29" fill="none" stroke="#000" stroke-width="1.3" stroke-linejoin="round"/>
<line x1="483" y1="150.6" x2="518.3" y2="150.6" stroke="#111" stroke-width="1.1"/>
<rect x="453.8" y="104.3" width="64.5" height="64.5" fill="none" stroke="#111" stroke-width="1.3"/>
<line x1="453.8" y1="104.3" x2="453.8" y2="168.8" stroke="#000" stroke-width="1.8"/>
<line x1="453.8" y1="168.8" x2="518.3" y2="168.8" stroke="#000" stroke-width="1.6"/>
<path d="M451.9 167.19H453.8M451.9 165.58H453.8M451.9 163.96H453.8M451.9 162.35H453.8M451.9 160.74H453.8M451.9 159.12H453.8M451.9 157.51H453.8M451.9 155.9H453.8M451.9 154.29H453.8M451.4 152.68H453.8M451.9 151.06H453.8M451.9 149.45H453.8M451.9 147.84H453.8M451.9 146.22H453.8M451.9 144.61H453.8M451.9 143H453.8M451.9 141.39H453.8M451.9 139.78H453.8M451.9 138.16H453.8M451.4 136.55H453.8M451.9 134.94H453.8M451.9 133.32H453.8M451.9 131.71H453.8M451.9 130.1H453.8M451.9 128.49H453.8M451.9 126.88H453.8M451.9 125.26H453.8M451.9 123.65H453.8M451.9 122.04H453.8M451.4 120.42H453.8M451.9 118.81H453.8M451.9 117.2H453.8M451.9 115.59H453.8M451.9 113.97H453.8M451.9 112.36H453.8M451.9 110.75H453.8M451.9 109.14H453.8M451.9 107.53H453.8M451.9 105.91H453.8" stroke="#111" stroke-width="0.75" fill="none"/>
<path d="M453.8 168.8V171.2M455.41 168.8V170.7M457.03 168.8V170.7M458.64 168.8V170.7M460.25 168.8V170.7M461.86 168.8V170.7M463.48 168.8V170.7M465.09 168.8V170.7M466.7 168.8V170.7M468.31 168.8V170.7M469.93 168.8V171.2M471.54 168.8V170.7M473.15 168.8V170.7M474.76 168.8V170.7M476.38 168.8V170.7M477.99 168.8V170.7M479.6 168.8V170.7M481.21 168.8V170.7M482.82 168.8V170.7M484.44 168.8V170.7M486.05 168.8V171.2M487.66 168.8V170.7M489.27 168.8V170.7M490.89 168.8V170.7M492.5 168.8V170.7M494.11 168.8V170.7M495.72 168.8V170.7M497.34 168.8V170.7M498.95 168.8V170.7M500.56 168.8V170.7M502.17 168.8V171.2M503.79 168.8V170.7M505.4 168.8V170.7M507.01 168.8V170.7M508.62 168.8V170.7M510.24 168.8V170.7M511.85 168.8V170.7M513.46 168.8V170.7M515.07 168.8V170.7M516.69 168.8V170.7M518.3 168.8V171.2" stroke="#111" stroke-width="0.75" fill="none"/>
<text x="516.1" y="114.6" font-size="9.6" font-weight="bold" text-anchor="end" fill="#000" >(49)</text>
<text x="516.4" y="147.9" font-size="9.4" font-weight="bold" text-anchor="end" fill="#000" >33%</text>
<text x="343.5" y="30.9" font-size="11.3" font-weight="bold" text-anchor="middle" fill="#000" >WT</text>
<text x="394.3" y="30.8" font-size="11.2" font-weight="bold" text-anchor="start" fill="#000" >PSGL-1<tspan font-size="7.5" dy="-4.5">-/-</tspan></text>
<text x="449.2" y="30.8" font-size="11.2" font-weight="bold" text-anchor="start" fill="#000" letter-spacing="-0.1">FucT-IV<tspan font-size="7.5" dy="-4.5">-/-</tspan><tspan dy="4.5">/VII</tspan><tspan font-size="7.5" dy="-4.5">-/-</tspan></text>
<text x="261.2" y="72.5" font-size="10.9" font-weight="normal" stroke="#000" stroke-width="0.42" textLength="48.6" lengthAdjust="spacingAndGlyphs">Untreated</text>
<text x="274.0" y="135.8" font-size="10.9" font-weight="normal" stroke="#000" stroke-width="0.42" textLength="35.8" lengthAdjust="spacingAndGlyphs">TNF-α-</text>
<text x="274.0" y="149.0" font-size="10.9" font-weight="normal" stroke="#000" stroke-width="0.42" textLength="34.0" lengthAdjust="spacingAndGlyphs">treated</text>
<line x1="306.7" y1="175.8" x2="507.6" y2="175.8" stroke="#000" stroke-width="1.5"/><path d="M506.6 172.9 L517.6 175.8 L506.6 178.7 Z" fill="#000"/>
<text x="360.0" y="187.6" font-size="10.9" font-weight="normal" stroke="#000" stroke-width="0.42" textLength="109.0" lengthAdjust="spacingAndGlyphs">L-selectin-IgG binding</text>
<defs><filter id="bl" x="-50%" y="-50%" width="200%" height="200%"><feGaussianBlur stdDeviation="2.2"/></filter><filter id="bl3" x="-50%" y="-50%" width="200%" height="200%"><feGaussianBlur stdDeviation="1.1"/></filter><filter id="bl2" x="-50%" y="-50%" width="200%" height="200%"><feGaussianBlur stdDeviation="4"/></filter><clipPath id="dotclip"><rect x="52.8" y="225" width="62" height="64.4"/></clipPath></defs>
<g clip-path="url(#dotclip)">
<ellipse cx="91" cy="282" rx="10" ry="7.5" fill="#999" opacity="0.6" filter="url(#bl2)"/>
<path d="M52 291 L52 271 Q52.5 268.9 57 268.7 L77 268.3 Q84.5 268.6 87.3 272.5 L89.5 281 L90.5 291 Z" fill="#0a0a0a" filter="url(#bl3)"/>
<path d="M102.38 287.59h0.7v0.7h-0.7zM96.3 287.63h0.7v0.7h-0.7zM95.95 274.03h0.7v0.7h-0.7zM89.36 285.41h0.7v0.7h-0.7zM88.49 268.22h0.7v0.7h-0.7zM87.42 275.68h0.7v0.7h-0.7zM86.72 284.3h0.7v0.7h-0.7zM89.88 275.81h0.7v0.7h-0.7zM83.41 279.49h0.7v0.7h-0.7zM89.93 279.93h0.7v0.7h-0.7zM92.05 288.76h0.7v0.7h-0.7zM81.52 276.92h0.7v0.7h-0.7zM94.78 282.18h0.7v0.7h-0.7zM81.88 280.9h0.7v0.7h-0.7zM94.16 289h0.7v0.7h-0.7zM87.03 283.28h0.7v0.7h-0.7zM92.25 278.91h0.7v0.7h-0.7zM95.34 279.26h0.7v0.7h-0.7zM88.6 283.56h0.7v0.7h-0.7zM80.64 282.92h0.7v0.7h-0.7zM92.26 287.25h0.7v0.7h-0.7zM86.66 282.55h0.7v0.7h-0.7zM96.82 286.65h0.7v0.7h-0.7zM85.67 283.86h0.7v0.7h-0.7zM88.91 279.57h0.7v0.7h-0.7zM95.78 271.42h0.7v0.7h-0.7zM89.54 277.01h0.7v0.7h-0.7zM90.71 283.08h0.7v0.7h-0.7zM85.83 283.81h0.7v0.7h-0.7zM84.72 281.47h0.7v0.7h-0.7zM88.29 280.22h0.7v0.7h-0.7zM92.12 287.32h0.7v0.7h-0.7zM87.65 281.53h0.7v0.7h-0.7zM93.69 273.32h0.7v0.7h-0.7zM87.48 285.11h0.7v0.7h-0.7zM89.02 274.83h0.7v0.7h-0.7zM90.06 279.96h0.7v0.7h-0.7zM90.14 277.75h0.7v0.7h-0.7zM87.84 286.44h0.7v0.7h-0.7zM96.33 279.4h0.7v0.7h-0.7zM88.72 278.28h0.7v0.7h-0.7zM94.85 279.6h0.7v0.7h-0.7zM82.96 279.08h0.7v0.7h-0.7zM89.12 275.85h0.7v0.7h-0.7zM90.52 280.43h0.7v0.7h-0.7zM98 280.41h0.7v0.7h-0.7zM87.52 278.84h0.7v0.7h-0.7zM83.17 281.89h0.7v0.7h-0.7zM88.61 282.33h0.7v0.7h-0.7zM92.82 286.78h0.7v0.7h-0.7zM90.06 277.57h0.7v0.7h-0.7zM93.22 275.69h0.7v0.7h-0.7zM94.52 279.89h0.7v0.7h-0.7zM86.34 283.15h0.7v0.7h-0.7zM90.16 286.22h0.7v0.7h-0.7zM86.06 283.21h0.7v0.7h-0.7zM94.3 277.73h0.7v0.7h-0.7zM99.59 283.88h0.7v0.7h-0.7zM89.86 281.45h0.7v0.7h-0.7zM91.26 272.96h0.7v0.7h-0.7zM85.28 273.35h0.7v0.7h-0.7zM83.86 288.47h0.7v0.7h-0.7zM97.99 280.94h0.7v0.7h-0.7zM83.1 284.84h0.7v0.7h-0.7zM89.76 275.18h0.7v0.7h-0.7zM95.5 283.29h0.7v0.7h-0.7zM90.61 280.24h0.7v0.7h-0.7zM80.7 287.03h0.7v0.7h-0.7zM90.07 277.21h0.7v0.7h-0.7zM95.71 285.9h0.7v0.7h-0.7zM87.61 278.28h0.7v0.7h-0.7zM74.04 279.46h0.7v0.7h-0.7zM86.96 275.94h0.7v0.7h-0.7zM96.76 283.17h0.7v0.7h-0.7zM105.03 282.81h0.7v0.7h-0.7zM83.59 280.28h0.7v0.7h-0.7zM90.33 279.7h0.7v0.7h-0.7zM94.7 274.02h0.7v0.7h-0.7zM101.98 285.85h0.7v0.7h-0.7zM102.14 269.66h0.7v0.7h-0.7zM101.22 287.11h0.7v0.7h-0.7zM91.77 277.24h0.7v0.7h-0.7zM98.25 284.6h0.7v0.7h-0.7zM97.4 283.42h0.7v0.7h-0.7zM92.89 276.28h0.7v0.7h-0.7zM88.16 285.51h0.7v0.7h-0.7zM92.49 282.18h0.7v0.7h-0.7zM81.66 277.36h0.7v0.7h-0.7zM93.58 280.88h0.7v0.7h-0.7zM101.15 277.41h0.7v0.7h-0.7zM84.69 275.32h0.7v0.7h-0.7zM92.89 278.85h0.7v0.7h-0.7zM86.36 287.96h0.7v0.7h-0.7zM81.67 282.18h0.7v0.7h-0.7zM99.72 279.72h0.7v0.7h-0.7zM83.55 276.71h0.7v0.7h-0.7zM93.25 279.99h0.7v0.7h-0.7zM100.32 283.6h0.7v0.7h-0.7zM95.86 275.15h0.7v0.7h-0.7zM86.83 282.07h0.7v0.7h-0.7zM99.55 280.22h0.7v0.7h-0.7zM99.05 280.36h0.7v0.7h-0.7zM93.43 278.13h0.7v0.7h-0.7zM90.56 278.79h0.7v0.7h-0.7zM88.21 285.83h0.7v0.7h-0.7zM73.74 278.68h0.7v0.7h-0.7zM89.2 279.26h0.7v0.7h-0.7zM93.75 272.93h0.7v0.7h-0.7zM97.18 270.76h0.7v0.7h-0.7zM92.3 275.08h0.7v0.7h-0.7zM90.06 279.55h0.7v0.7h-0.7zM87.03 284.64h0.7v0.7h-0.7zM90.83 279.22h0.7v0.7h-0.7zM92.12 284.57h0.7v0.7h-0.7zM92.9 286.39h0.7v0.7h-0.7zM95.9 280.83h0.7v0.7h-0.7zM91.94 281.39h0.7v0.7h-0.7zM90.85 276h0.7v0.7h-0.7zM95.15 280.69h0.7v0.7h-0.7zM95.69 280.28h0.7v0.7h-0.7zM103.64 279.37h0.7v0.7h-0.7zM89.07 282.27h0.7v0.7h-0.7zM85.7 276.43h0.7v0.7h-0.7zM89 278.9h0.7v0.7h-0.7zM93.67 277.1h0.7v0.7h-0.7zM90.11 282.8h0.7v0.7h-0.7zM96.95 281.73h0.7v0.7h-0.7zM94.16 284.19h0.7v0.7h-0.7zM90.28 272.65h0.7v0.7h-0.7zM87.31 282.2h0.7v0.7h-0.7zM87.22 277.46h0.7v0.7h-0.7zM100.32 280.18h0.7v0.7h-0.7zM93.74 277.91h0.7v0.7h-0.7zM91.61 275.78h0.7v0.7h-0.7zM90.93 283.49h0.7v0.7h-0.7zM83.06 280.46h0.7v0.7h-0.7zM90.91 283.25h0.7v0.7h-0.7zM85.25 277.81h0.7v0.7h-0.7zM89.1 271.12h0.7v0.7h-0.7zM88.76 288.99h0.7v0.7h-0.7zM87.02 285.9h0.7v0.7h-0.7zM97.83 275.2h0.7v0.7h-0.7zM91.71 269.88h0.7v0.7h-0.7zM87.46 283.03h0.7v0.7h-0.7zM94.44 275.17h0.7v0.7h-0.7zM98.77 275.47h0.7v0.7h-0.7zM81.36 283.19h0.7v0.7h-0.7zM87.35 283.47h0.7v0.7h-0.7zM93.99 274.73h0.7v0.7h-0.7zM90.9 279.02h0.7v0.7h-0.7zM85.34 280.25h0.7v0.7h-0.7zM101.27 283.43h0.7v0.7h-0.7zM84.99 282.66h0.7v0.7h-0.7zM84.23 277.72h0.7v0.7h-0.7zM93.62 283.33h0.7v0.7h-0.7zM97.4 285.12h0.7v0.7h-0.7zM95.09 287.74h0.7v0.7h-0.7zM93.32 272.97h0.7v0.7h-0.7zM97.61 280.32h0.7v0.7h-0.7zM83.99 279.43h0.7v0.7h-0.7zM85.71 277.32h0.7v0.7h-0.7zM90.52 288.77h0.7v0.7h-0.7zM91.44 276.41h0.7v0.7h-0.7zM96.93 284.88h0.7v0.7h-0.7zM91.06 285.45h0.7v0.7h-0.7zM97.97 274.75h0.7v0.7h-0.7zM97.96 279.1h0.7v0.7h-0.7zM90.35 277.28h0.7v0.7h-0.7zM86.09 276.53h0.7v0.7h-0.7zM93.39 287.78h0.7v0.7h-0.7zM88.74 278.59h0.7v0.7h-0.7zM91.88 277.05h0.7v0.7h-0.7zM94.41 278.43h0.7v0.7h-0.7zM97.91 275.57h0.7v0.7h-0.7zM89.85 283.75h0.7v0.7h-0.7zM85.71 280.83h0.7v0.7h-0.7zM86.02 277.34h0.7v0.7h-0.7zM95.46 281.84h0.7v0.7h-0.7zM82.86 278.96h0.7v0.7h-0.7zM91.04 287.31h0.7v0.7h-0.7zM93.93 288.86h0.7v0.7h-0.7zM87.8 277.89h0.7v0.7h-0.7zM94.2 286.77h0.7v0.7h-0.7zM93.49 284.32h0.7v0.7h-0.7zM88.4 280.78h0.7v0.7h-0.7zM98.22 282.62h0.7v0.7h-0.7zM84.7 276.29h0.7v0.7h-0.7zM92.71 284.14h0.7v0.7h-0.7zM94.87 266.66h0.7v0.7h-0.7zM84.91 281.85h0.7v0.7h-0.7zM88.35 281.17h0.7v0.7h-0.7zM92.1 282.97h0.7v0.7h-0.7zM95.16 283.71h0.7v0.7h-0.7zM94.18 268.34h0.7v0.7h-0.7zM100.98 282.43h0.7v0.7h-0.7zM91.8 273.06h0.7v0.7h-0.7zM104.68 285.27h0.7v0.7h-0.7zM98.77 280.43h0.7v0.7h-0.7zM90.07 277.76h0.7v0.7h-0.7zM92.31 279.19h0.7v0.7h-0.7zM82.26 274.23h0.7v0.7h-0.7zM88.64 286.08h0.7v0.7h-0.7zM90.51 280.28h0.7v0.7h-0.7zM93.84 280.25h0.7v0.7h-0.7zM91.9 282.23h0.7v0.7h-0.7zM91.33 267.06h0.7v0.7h-0.7zM100.22 282.77h0.7v0.7h-0.7zM87.3 279.68h0.7v0.7h-0.7zM88.39 275.74h0.7v0.7h-0.7zM91.91 284.5h0.7v0.7h-0.7zM90.82 283.32h0.7v0.7h-0.7zM84.95 286.27h0.7v0.7h-0.7zM96.55 283.93h0.7v0.7h-0.7zM96.4 278.83h0.7v0.7h-0.7zM98.68 286.29h0.7v0.7h-0.7zM92.52 279.06h0.7v0.7h-0.7zM95.5 271.6h0.7v0.7h-0.7zM88.31 269.27h0.7v0.7h-0.7zM90.93 273.19h0.7v0.7h-0.7zM94.07 277.25h0.7v0.7h-0.7zM82.47 279.36h0.7v0.7h-0.7zM92.53 285.23h0.7v0.7h-0.7zM90.09 283.2h0.7v0.7h-0.7zM98.02 275.83h0.7v0.7h-0.7zM91.14 281.4h0.7v0.7h-0.7zM80.94 285.55h0.7v0.7h-0.7zM93.94 285.97h0.7v0.7h-0.7zM96.16 281.15h0.7v0.7h-0.7zM82.16 278.39h0.7v0.7h-0.7zM92.64 285.12h0.7v0.7h-0.7zM90.22 281.71h0.7v0.7h-0.7zM91.81 272.64h0.7v0.7h-0.7zM95.14 284.53h0.7v0.7h-0.7zM99 274.67h0.7v0.7h-0.7zM89.55 277.88h0.7v0.7h-0.7zM91.66 287.16h0.7v0.7h-0.7zM89.62 275.11h0.7v0.7h-0.7zM95.52 270.7h0.7v0.7h-0.7zM102.92 285.42h0.7v0.7h-0.7zM83.68 280.55h0.7v0.7h-0.7zM82.89 278.63h0.7v0.7h-0.7zM84.39 280.05h0.7v0.7h-0.7zM89.31 276.84h0.7v0.7h-0.7zM90.23 282.49h0.7v0.7h-0.7zM97.81 278.91h0.7v0.7h-0.7zM92.55 273.57h0.7v0.7h-0.7zM90.3 277.69h0.7v0.7h-0.7zM94.75 279.26h0.7v0.7h-0.7zM98.69 274.72h0.7v0.7h-0.7zM104.94 276.59h0.7v0.7h-0.7zM85.53 271.35h0.7v0.7h-0.7zM92.73 287.31h0.7v0.7h-0.7zM92.56 275.68h0.7v0.7h-0.7zM89.68 288.2h0.7v0.7h-0.7zM87.4 280.76h0.7v0.7h-0.7zM89.51 285.32h0.7v0.7h-0.7zM94.5 280.2h0.7v0.7h-0.7zM90.44 284.04h0.7v0.7h-0.7zM93.24 273.55h0.7v0.7h-0.7zM91.65 278.39h0.7v0.7h-0.7zM89.07 282.6h0.7v0.7h-0.7zM86.72 280.15h0.7v0.7h-0.7zM87.82 280.01h0.7v0.7h-0.7zM94.22 282.98h0.7v0.7h-0.7zM94.68 280.1h0.7v0.7h-0.7zM91.81 285.78h0.7v0.7h-0.7zM99.62 285.06h0.7v0.7h-0.7zM89.33 282.16h0.7v0.7h-0.7zM91.96 285.18h0.7v0.7h-0.7zM90.24 275.26h0.7v0.7h-0.7zM80.66 280.47h0.7v0.7h-0.7zM83.29 277.66h0.7v0.7h-0.7zM92.33 280.05h0.7v0.7h-0.7zM87.2 284.85h0.7v0.7h-0.7zM97.31 284.32h0.7v0.7h-0.7zM82.25 277.42h0.7v0.7h-0.7zM92.22 282.33h0.7v0.7h-0.7zM88.34 284.96h0.7v0.7h-0.7zM83.46 282.29h0.7v0.7h-0.7zM97.96 277.1h0.7v0.7h-0.7zM100.92 271.64h0.7v0.7h-0.7zM98.41 278.68h0.7v0.7h-0.7zM91.08 278.34h0.7v0.7h-0.7zM98.71 284.45h0.7v0.7h-0.7zM97.96 275.64h0.7v0.7h-0.7zM93.77 280.19h0.7v0.7h-0.7zM91.76 280.56h0.7v0.7h-0.7zM98.68 270.05h0.7v0.7h-0.7zM102.56 273.06h0.7v0.7h-0.7zM102.79 277.05h0.7v0.7h-0.7zM89.43 273.71h0.7v0.7h-0.7zM84.22 278.05h0.7v0.7h-0.7zM97.04 285.1h0.7v0.7h-0.7zM99.02 286h0.7v0.7h-0.7zM97.73 287.43h0.7v0.7h-0.7zM100.14 276.03h0.7v0.7h-0.7zM114.06 283.85h0.7v0.7h-0.7zM104.77 285.59h0.7v0.7h-0.7zM102.12 275.76h0.7v0.7h-0.7zM92.59 273.37h0.7v0.7h-0.7zM91.42 285.39h0.7v0.7h-0.7zM88.31 278.36h0.7v0.7h-0.7zM92.91 279.35h0.7v0.7h-0.7zM102.36 278.88h0.7v0.7h-0.7zM82.89 269.95h0.7v0.7h-0.7zM103.79 281.22h0.7v0.7h-0.7zM97.05 288.43h0.7v0.7h-0.7zM106.32 270.36h0.7v0.7h-0.7zM92.62 281.46h0.7v0.7h-0.7zM87.34 269.68h0.7v0.7h-0.7zM105.49 274.89h0.7v0.7h-0.7zM111.69 285.56h0.7v0.7h-0.7zM101.27 262.37h0.7v0.7h-0.7zM96.49 284.17h0.7v0.7h-0.7zM98.38 281.89h0.7v0.7h-0.7zM89.39 273.57h0.7v0.7h-0.7zM94.67 288.12h0.7v0.7h-0.7zM94.22 280.75h0.7v0.7h-0.7zM86 274.52h0.7v0.7h-0.7zM93.02 281.81h0.7v0.7h-0.7zM101.9 274.49h0.7v0.7h-0.7zM90.73 272.61h0.7v0.7h-0.7zM99.05 270.1h0.7v0.7h-0.7zM103.92 276.46h0.7v0.7h-0.7zM97.78 274.2h0.7v0.7h-0.7zM87.74 277.24h0.7v0.7h-0.7zM89.23 288.9h0.7v0.7h-0.7zM91.06 277.74h0.7v0.7h-0.7zM102.33 282.1h0.7v0.7h-0.7zM102.66 279.23h0.7v0.7h-0.7zM88.61 273.03h0.7v0.7h-0.7zM93.61 275.64h0.7v0.7h-0.7zM96.7 280.66h0.7v0.7h-0.7zM82.79 280.14h0.7v0.7h-0.7zM97.11 273.84h0.7v0.7h-0.7zM86.96 286.52h0.7v0.7h-0.7zM110.47 275.65h0.7v0.7h-0.7zM98 276.94h0.7v0.7h-0.7zM91.7 272.94h0.7v0.7h-0.7zM104.7 273.34h0.7v0.7h-0.7zM94.77 277.59h0.7v0.7h-0.7zM97.62 275.04h0.7v0.7h-0.7zM99.45 281.11h0.7v0.7h-0.7zM103.53 281.3h0.7v0.7h-0.7zM105.11 268.82h0.7v0.7h-0.7zM73.37 262.54h0.7v0.7h-0.7zM79.75 257.19h0.7v0.7h-0.7zM80.32 259.73h0.7v0.7h-0.7zM63.01 256.49h0.7v0.7h-0.7zM61.47 262.76h0.7v0.7h-0.7zM72.93 248.46h0.7v0.7h-0.7zM68.49 247.58h0.7v0.7h-0.7zM80.37 264.67h0.7v0.7h-0.7zM69.8 260.3h0.7v0.7h-0.7zM65.52 260.11h0.7v0.7h-0.7zM67.87 259.8h0.7v0.7h-0.7zM61.45 256.81h0.7v0.7h-0.7zM73.04 257.23h0.7v0.7h-0.7zM76.17 256.36h0.7v0.7h-0.7zM70.33 254.87h0.7v0.7h-0.7zM64.61 249.81h0.7v0.7h-0.7zM72.39 253.43h0.7v0.7h-0.7zM67.63 254.87h0.7v0.7h-0.7zM65.13 269.41h0.7v0.7h-0.7zM88.47 255.27h0.7v0.7h-0.7zM57.5 250.56h0.7v0.7h-0.7zM73.79 265.85h0.7v0.7h-0.7zM71.55 259.46h0.7v0.7h-0.7zM67.26 248.6h0.7v0.7h-0.7zM72.94 256.59h0.7v0.7h-0.7zM68.35 258.55h0.7v0.7h-0.7zM58.31 255.89h0.7v0.7h-0.7zM77.46 252.98h0.7v0.7h-0.7zM53.41 265.25h0.7v0.7h-0.7zM58.54 248.03h0.7v0.7h-0.7zM72.17 259.97h0.7v0.7h-0.7zM80.32 259.55h0.7v0.7h-0.7zM70.45 253.66h0.7v0.7h-0.7zM72.48 250.91h0.7v0.7h-0.7zM70.12 267.29h0.7v0.7h-0.7zM74.08 249.11h0.7v0.7h-0.7zM67.77 254.84h0.7v0.7h-0.7zM81.37 249.51h0.7v0.7h-0.7zM69.6 255.45h0.7v0.7h-0.7zM64.02 255.55h0.7v0.7h-0.7zM61.54 258.7h0.7v0.7h-0.7zM69.87 251.66h0.7v0.7h-0.7zM74.55 256.16h0.7v0.7h-0.7zM69.28 258.07h0.7v0.7h-0.7zM65.14 257.34h0.7v0.7h-0.7zM73.56 255.87h0.7v0.7h-0.7zM83.39 251.08h0.7v0.7h-0.7zM72.14 257.73h0.7v0.7h-0.7zM68.68 252h0.7v0.7h-0.7zM69.74 258.28h0.7v0.7h-0.7zM68.62 245.89h0.7v0.7h-0.7zM68.16 254.97h0.7v0.7h-0.7zM80.73 255.26h0.7v0.7h-0.7zM69.37 251.33h0.7v0.7h-0.7zM67.7 256.32h0.7v0.7h-0.7zM64.58 250.6h0.7v0.7h-0.7zM66.77 242.72h0.7v0.7h-0.7zM64.48 246.24h0.7v0.7h-0.7zM75.99 263.49h0.7v0.7h-0.7zM67.22 255.06h0.7v0.7h-0.7zM61.91 254.87h0.7v0.7h-0.7zM68.69 259.69h0.7v0.7h-0.7zM64.94 249.85h0.7v0.7h-0.7zM69.23 248.38h0.7v0.7h-0.7zM72.39 259.74h0.7v0.7h-0.7zM61.72 252.26h0.7v0.7h-0.7zM70.96 257.58h0.7v0.7h-0.7zM64.72 255.98h0.7v0.7h-0.7zM55.15 255.45h0.7v0.7h-0.7zM74.16 251.67h0.7v0.7h-0.7zM84.06 255.46h0.7v0.7h-0.7zM75.88 253.51h0.7v0.7h-0.7zM69.22 257.21h0.7v0.7h-0.7zM64.35 251.74h0.7v0.7h-0.7zM66.42 261.04h0.7v0.7h-0.7zM89.05 254.98h0.7v0.7h-0.7zM75.05 256.42h0.7v0.7h-0.7zM82.3 259.05h0.7v0.7h-0.7zM79.39 256.54h0.7v0.7h-0.7zM66.1 257.74h0.7v0.7h-0.7zM74.01 258.45h0.7v0.7h-0.7zM62.02 254.42h0.7v0.7h-0.7zM67.85 263.24h0.7v0.7h-0.7zM78.15 256.93h0.7v0.7h-0.7zM76.33 261.3h0.7v0.7h-0.7zM69.51 257.67h0.7v0.7h-0.7zM65.02 253.54h0.7v0.7h-0.7zM61.32 259.84h0.7v0.7h-0.7zM79.28 256.03h0.7v0.7h-0.7zM74.35 256.2h0.7v0.7h-0.7zM71.24 248.48h0.7v0.7h-0.7zM66.13 253.53h0.7v0.7h-0.7zM71.38 247.58h0.7v0.7h-0.7zM64.08 250.61h0.7v0.7h-0.7zM57.14 258.03h0.7v0.7h-0.7zM69.35 253.35h0.7v0.7h-0.7zM77.94 259.04h0.7v0.7h-0.7zM85.62 253.81h0.7v0.7h-0.7zM72.89 251.69h0.7v0.7h-0.7zM68.8 250.96h0.7v0.7h-0.7zM74.59 253.91h0.7v0.7h-0.7zM68.56 256.37h0.7v0.7h-0.7zM59.91 260.23h0.7v0.7h-0.7zM78.64 258.43h0.7v0.7h-0.7zM63.38 260.43h0.7v0.7h-0.7zM63.02 254.92h0.7v0.7h-0.7zM71.51 255.38h0.7v0.7h-0.7zM89.93 262.34h0.7v0.7h-0.7zM68.88 253.69h0.7v0.7h-0.7zM79.12 249.01h0.7v0.7h-0.7zM73.39 256.6h0.7v0.7h-0.7zM63.65 249.57h0.7v0.7h-0.7zM66.19 258.06h0.7v0.7h-0.7zM74.66 256.71h0.7v0.7h-0.7zM73.17 262.23h0.7v0.7h-0.7zM68.57 250.89h0.7v0.7h-0.7zM59.2 257.87h0.7v0.7h-0.7zM69.1 259.54h0.7v0.7h-0.7zM75.96 252.78h0.7v0.7h-0.7zM79.66 252.67h0.7v0.7h-0.7zM69.44 261.47h0.7v0.7h-0.7zM70.92 258.73h0.7v0.7h-0.7zM68.36 253.82h0.7v0.7h-0.7zM76.75 248.43h0.7v0.7h-0.7zM63.9 250.15h0.7v0.7h-0.7zM56.08 248.43h0.7v0.7h-0.7zM66.15 249.51h0.7v0.7h-0.7zM81.06 253.56h0.7v0.7h-0.7zM77.37 261.82h0.7v0.7h-0.7zM73.69 250.64h0.7v0.7h-0.7zM71.4 258.4h0.7v0.7h-0.7zM78.42 248.45h0.7v0.7h-0.7zM74.72 258.04h0.7v0.7h-0.7zM72.08 259.71h0.7v0.7h-0.7zM72.98 259.36h0.7v0.7h-0.7zM79.84 259.61h0.7v0.7h-0.7zM71.45 249.49h0.7v0.7h-0.7zM60.5 259.44h0.7v0.7h-0.7zM71.82 254.29h0.7v0.7h-0.7zM71.35 256.18h0.7v0.7h-0.7zM69.56 254.84h0.7v0.7h-0.7zM71.95 256.9h0.7v0.7h-0.7zM64.57 259.18h0.7v0.7h-0.7zM73.58 254.78h0.7v0.7h-0.7zM72.81 249.44h0.7v0.7h-0.7zM76.27 251.3h0.7v0.7h-0.7zM68.8 250.26h0.7v0.7h-0.7zM65.7 258.19h0.7v0.7h-0.7zM60.72 241.2h0.7v0.7h-0.7zM73.91 268.08h0.7v0.7h-0.7zM57.69 254.59h0.7v0.7h-0.7zM70.71 254.01h0.7v0.7h-0.7zM78.14 252.21h0.7v0.7h-0.7zM74.42 253.45h0.7v0.7h-0.7zM68.56 250.13h0.7v0.7h-0.7zM62.05 257.38h0.7v0.7h-0.7zM73.36 262.61h0.7v0.7h-0.7zM76.75 251.87h0.7v0.7h-0.7zM69.4 255.4h0.7v0.7h-0.7zM80.1 250.3h0.7v0.7h-0.7zM70.71 253.54h0.7v0.7h-0.7zM62.57 259.66h0.7v0.7h-0.7zM63.62 246.59h0.7v0.7h-0.7zM76.78 255.2h0.7v0.7h-0.7zM84.87 255.98h0.7v0.7h-0.7zM68.7 254.14h0.7v0.7h-0.7zM70.71 253h0.7v0.7h-0.7zM63.05 260.99h0.7v0.7h-0.7zM74.26 255.48h0.7v0.7h-0.7zM70.53 253.32h0.7v0.7h-0.7zM69.4 257.12h0.7v0.7h-0.7zM65.18 260.18h0.7v0.7h-0.7zM75.64 258.69h0.7v0.7h-0.7zM67.38 252.68h0.7v0.7h-0.7zM54.63 258.32h0.7v0.7h-0.7zM59.07 247.71h0.7v0.7h-0.7zM65.27 247.46h0.7v0.7h-0.7zM73.01 260.83h0.7v0.7h-0.7zM66.35 247.47h0.7v0.7h-0.7zM71.59 251.59h0.7v0.7h-0.7zM63.35 261.67h0.7v0.7h-0.7zM71.64 256.62h0.7v0.7h-0.7zM64.41 260.08h0.7v0.7h-0.7zM72.01 252.3h0.7v0.7h-0.7zM67.15 259.27h0.7v0.7h-0.7zM78.78 253.45h0.7v0.7h-0.7zM71.88 255.99h0.7v0.7h-0.7zM61.11 257.13h0.7v0.7h-0.7zM65.55 254.61h0.7v0.7h-0.7zM59.15 259.61h0.7v0.7h-0.7zM67.44 258.69h0.7v0.7h-0.7zM70.6 249.97h0.7v0.7h-0.7zM72.08 252.76h0.7v0.7h-0.7zM63.44 251.83h0.7v0.7h-0.7zM63.32 262.17h0.7v0.7h-0.7zM71.6 254.04h0.7v0.7h-0.7zM64.05 251.07h0.7v0.7h-0.7zM72.31 254.31h0.7v0.7h-0.7zM66.14 247.78h0.7v0.7h-0.7zM57.31 254.23h0.7v0.7h-0.7zM72.07 259.94h0.7v0.7h-0.7zM57.51 254.49h0.7v0.7h-0.7zM64.18 255.81h0.7v0.7h-0.7zM61.64 258.66h0.7v0.7h-0.7zM78.43 254.53h0.7v0.7h-0.7zM62.99 247.96h0.7v0.7h-0.7zM65.14 258.4h0.7v0.7h-0.7zM55.84 250.67h0.7v0.7h-0.7zM64.62 253.94h0.7v0.7h-0.7zM66.95 255h0.7v0.7h-0.7zM53.87 258.75h0.7v0.7h-0.7zM68.79 258.76h0.7v0.7h-0.7zM67.05 258.46h0.7v0.7h-0.7zM79.26 251.23h0.7v0.7h-0.7zM81.79 258.36h0.7v0.7h-0.7zM68.22 253.53h0.7v0.7h-0.7zM62.94 254.86h0.7v0.7h-0.7zM68.36 257.55h0.7v0.7h-0.7zM69.55 249.02h0.7v0.7h-0.7zM71.45 254.55h0.7v0.7h-0.7zM76.91 250.95h0.7v0.7h-0.7zM59.18 254.65h0.7v0.7h-0.7zM67.61 250h0.7v0.7h-0.7zM74.02 251.66h0.7v0.7h-0.7zM76.17 253.73h0.7v0.7h-0.7zM53.64 258.52h0.7v0.7h-0.7zM72.51 259.65h0.7v0.7h-0.7zM72.45 242.34h0.7v0.7h-0.7zM92.69 281.71h0.7v0.7h-0.7zM104.19 277.68h0.7v0.7h-0.7zM88.01 259.48h0.7v0.7h-0.7zM93.91 266.29h0.7v0.7h-0.7zM97.67 266.61h0.7v0.7h-0.7zM100.27 280.46h0.7v0.7h-0.7zM104.58 276.18h0.7v0.7h-0.7zM102.32 282.72h0.7v0.7h-0.7zM109.66 268.35h0.7v0.7h-0.7zM88.53 267.19h0.7v0.7h-0.7zM106.1 261.34h0.7v0.7h-0.7zM95.53 276.41h0.7v0.7h-0.7zM98.16 268.35h0.7v0.7h-0.7zM98.57 263.01h0.7v0.7h-0.7zM108.22 277.96h0.7v0.7h-0.7zM102.02 261.66h0.7v0.7h-0.7zM112.81 276.48h0.7v0.7h-0.7zM106.42 267.98h0.7v0.7h-0.7zM93 271.92h0.7v0.7h-0.7zM98.86 272.82h0.7v0.7h-0.7zM100.37 254.3h0.7v0.7h-0.7zM108.42 261.4h0.7v0.7h-0.7zM104.55 272.46h0.7v0.7h-0.7zM95.7 267.39h0.7v0.7h-0.7zM84.44 243.01h0.7v0.7h-0.7zM101.72 242.01h0.7v0.7h-0.7zM79.33 249.64h0.7v0.7h-0.7zM88.19 257.08h0.7v0.7h-0.7zM96.08 268.49h0.7v0.7h-0.7zM78.88 239.6h0.7v0.7h-0.7zM79.87 246.35h0.7v0.7h-0.7zM82.06 230.22h0.7v0.7h-0.7zM76.87 265.95h0.7v0.7h-0.7zM56.29 263.01h0.7v0.7h-0.7zM62.78 276.23h0.7v0.7h-0.7zM73.36 243.85h0.7v0.7h-0.7zM71.39 247.73h0.7v0.7h-0.7zM106.45 252.34h0.7v0.7h-0.7zM91.4 247.12h0.7v0.7h-0.7zM84.59 271.73h0.7v0.7h-0.7zM80.82 264.23h0.7v0.7h-0.7zM76.92 232.69h0.7v0.7h-0.7zM87.2 269.21h0.7v0.7h-0.7zM72.28 253.5h0.7v0.7h-0.7zM91.31 267.83h0.7v0.7h-0.7zM95.57 242.96h0.7v0.7h-0.7zM64.9 255.61h0.7v0.7h-0.7zM83.21 276.21h0.7v0.7h-0.7zM78.59 270.1h0.7v0.7h-0.7zM62.28 266.94h0.7v0.7h-0.7zM77.08 269.65h0.7v0.7h-0.7zM71.85 267.49h0.7v0.7h-0.7zM64.93 265.76h0.7v0.7h-0.7zM69.25 268.7h0.7v0.7h-0.7zM72.48 266.03h0.7v0.7h-0.7zM56.89 267.64h0.7v0.7h-0.7zM60.01 267.72h0.7v0.7h-0.7zM54.19 269.81h0.7v0.7h-0.7zM64.77 268.11h0.7v0.7h-0.7zM75.64 268.12h0.7v0.7h-0.7zM56.76 269.35h0.7v0.7h-0.7zM63.46 268.69h0.7v0.7h-0.7zM60.13 268.44h0.7v0.7h-0.7zM77.88 267.92h0.7v0.7h-0.7zM91.43 269.33h0.7v0.7h-0.7zM63.59 267.66h0.7v0.7h-0.7zM64.75 268.48h0.7v0.7h-0.7zM56.25 266.62h0.7v0.7h-0.7zM63.51 266.83h0.7v0.7h-0.7zM66.2 266.8h0.7v0.7h-0.7zM57.04 267.77h0.7v0.7h-0.7zM61.4 268.53h0.7v0.7h-0.7zM66.28 267.97h0.7v0.7h-0.7zM68.41 270.17h0.7v0.7h-0.7zM65.59 266.93h0.7v0.7h-0.7zM69.55 269.85h0.7v0.7h-0.7zM84.68 268.38h0.7v0.7h-0.7zM83.13 268.42h0.7v0.7h-0.7zM63.81 265.25h0.7v0.7h-0.7zM72.16 267.48h0.7v0.7h-0.7zM86.38 265.32h0.7v0.7h-0.7zM60.31 267.83h0.7v0.7h-0.7zM56.57 268.55h0.7v0.7h-0.7zM76.49 269.37h0.7v0.7h-0.7zM72.37 269h0.7v0.7h-0.7zM86.75 268.31h0.7v0.7h-0.7zM68.62 269.27h0.7v0.7h-0.7zM68.77 269.99h0.7v0.7h-0.7zM67.98 265.2h0.7v0.7h-0.7zM61.56 266.26h0.7v0.7h-0.7zM68.19 267.75h0.7v0.7h-0.7zM54.13 268.06h0.7v0.7h-0.7zM55.79 268.01h0.7v0.7h-0.7zM68.69 267.62h0.7v0.7h-0.7zM61.73 268.03h0.7v0.7h-0.7zM62.33 267.56h0.7v0.7h-0.7zM56.98 268.04h0.7v0.7h-0.7zM74.09 269.44h0.7v0.7h-0.7zM66.83 270.2h0.7v0.7h-0.7zM72.18 268.45h0.7v0.7h-0.7zM76.62 266.03h0.7v0.7h-0.7zM66.11 269.26h0.7v0.7h-0.7zM75.63 269.78h0.7v0.7h-0.7zM59.22 268.85h0.7v0.7h-0.7zM89.12 266.17h0.7v0.7h-0.7zM68.93 264.48h0.7v0.7h-0.7zM76.66 269.89h0.7v0.7h-0.7zM61.89 268.17h0.7v0.7h-0.7zM59 270.82h0.7v0.7h-0.7zM64.49 266.45h0.7v0.7h-0.7zM85.69 270.39h0.7v0.7h-0.7zM74.41 267.02h0.7v0.7h-0.7zM77.09 268.59h0.7v0.7h-0.7zM70.82 266.3h0.7v0.7h-0.7zM71.82 266.36h0.7v0.7h-0.7zM87.96 267.83h0.7v0.7h-0.7zM66.12 268.78h0.7v0.7h-0.7zM56.86 267.72h0.7v0.7h-0.7zM65.65 269.47h0.7v0.7h-0.7zM80.69 268.63h0.7v0.7h-0.7zM79.8 268.62h0.7v0.7h-0.7zM53.6 266.83h0.7v0.7h-0.7zM67.22 269.18h0.7v0.7h-0.7zM60.28 266h0.7v0.7h-0.7zM73.95 267.69h0.7v0.7h-0.7zM63.81 266.15h0.7v0.7h-0.7zM60.72 266.58h0.7v0.7h-0.7zM55.91 267.37h0.7v0.7h-0.7zM68.13 268.78h0.7v0.7h-0.7zM64.57 265.97h0.7v0.7h-0.7zM83.64 269.84h0.7v0.7h-0.7zM62.19 268.23h0.7v0.7h-0.7zM86.86 268.87h0.7v0.7h-0.7zM81.2 270.23h0.7v0.7h-0.7zM56.51 270.62h0.7v0.7h-0.7zM60.87 270.31h0.7v0.7h-0.7zM63.48 267.09h0.7v0.7h-0.7zM73.11 265.16h0.7v0.7h-0.7zM72.36 268.3h0.7v0.7h-0.7zM72.77 267.87h0.7v0.7h-0.7zM69.21 266.54h0.7v0.7h-0.7zM75.58 271.82h0.7v0.7h-0.7zM54.37 267.25h0.7v0.7h-0.7zM68.1 265.82h0.7v0.7h-0.7zM57.48 268.75h0.7v0.7h-0.7zM72.41 266.61h0.7v0.7h-0.7zM78.82 268.11h0.7v0.7h-0.7zM58.59 266.22h0.7v0.7h-0.7zM67.09 265.46h0.7v0.7h-0.7zM77.99 271.1h0.7v0.7h-0.7zM54.03 268.71h0.7v0.7h-0.7zM61.6 270.14h0.7v0.7h-0.7zM53.94 267.51h0.7v0.7h-0.7zM65.7 267.67h0.7v0.7h-0.7zM67.14 268.99h0.7v0.7h-0.7zM67.28 270.25h0.7v0.7h-0.7zM86.24 269.11h0.7v0.7h-0.7z" fill="#000" opacity="0.75"/>
<path d="M84.53 286.17h0.8v0.8h-0.8zM57.4 279.97h0.8v0.8h-0.8zM85.47 287.67h0.8v0.8h-0.8zM78.3 275.8h0.8v0.8h-0.8zM72.8 286.65h0.8v0.8h-0.8zM81.84 275.66h0.8v0.8h-0.8zM65.32 276.26h0.8v0.8h-0.8zM56.36 283.59h0.8v0.8h-0.8zM83.49 276.71h0.8v0.8h-0.8zM74.64 272.83h0.8v0.8h-0.8zM57.12 277.67h0.8v0.8h-0.8zM54.52 286.51h0.8v0.8h-0.8zM64.9 286.49h0.8v0.8h-0.8zM68.44 283.67h0.8v0.8h-0.8zM79.6 279.9h0.8v0.8h-0.8zM85.3 275.28h0.8v0.8h-0.8zM55.02 280.75h0.8v0.8h-0.8zM55.97 277.18h0.8v0.8h-0.8zM72.45 275.12h0.8v0.8h-0.8zM57.67 277.26h0.8v0.8h-0.8zM59.45 278.14h0.8v0.8h-0.8zM55.47 287.91h0.8v0.8h-0.8zM85.35 287.74h0.8v0.8h-0.8zM61.98 287.67h0.8v0.8h-0.8zM78.36 277.83h0.8v0.8h-0.8zM75.57 282.96h0.8v0.8h-0.8zM70.45 275.11h0.8v0.8h-0.8zM71.82 284.78h0.8v0.8h-0.8zM64.89 284.13h0.8v0.8h-0.8zM82.64 280h0.8v0.8h-0.8zM55.65 276.4h0.8v0.8h-0.8zM71.36 273.56h0.8v0.8h-0.8zM56.39 275.58h0.8v0.8h-0.8zM81.65 281.95h0.8v0.8h-0.8zM82.81 287.39h0.8v0.8h-0.8zM81.19 279.77h0.8v0.8h-0.8zM74.72 278.69h0.8v0.8h-0.8zM66.82 272.03h0.8v0.8h-0.8zM75.54 287.95h0.8v0.8h-0.8zM60.87 279.98h0.8v0.8h-0.8zM59.5 286.34h0.8v0.8h-0.8zM78.64 280.76h0.8v0.8h-0.8zM66.63 281.48h0.8v0.8h-0.8zM74.43 288.56h0.8v0.8h-0.8zM53.91 285.21h0.8v0.8h-0.8zM62.42 285.19h0.8v0.8h-0.8zM56.47 276.97h0.8v0.8h-0.8zM74.14 286.7h0.8v0.8h-0.8zM64.16 283.88h0.8v0.8h-0.8zM73.17 280.85h0.8v0.8h-0.8zM79.62 274.72h0.8v0.8h-0.8zM69.2 284.76h0.8v0.8h-0.8zM70.97 284.7h0.8v0.8h-0.8zM77.38 286.15h0.8v0.8h-0.8zM57.72 281.81h0.8v0.8h-0.8zM69.28 285h0.8v0.8h-0.8zM60.57 283.64h0.8v0.8h-0.8zM65.14 276.37h0.8v0.8h-0.8zM72.05 285.37h0.8v0.8h-0.8zM59.52 279.96h0.8v0.8h-0.8zM77.95 282.06h0.8v0.8h-0.8zM62.24 278.5h0.8v0.8h-0.8zM77.8 273.73h0.8v0.8h-0.8zM81.07 272.53h0.8v0.8h-0.8zM76.18 288.99h0.8v0.8h-0.8zM58.54 287.54h0.8v0.8h-0.8zM53.48 274.56h0.8v0.8h-0.8zM86 281.39h0.8v0.8h-0.8zM55.43 274.43h0.8v0.8h-0.8zM59.62 272.97h0.8v0.8h-0.8zM79.07 277.05h0.8v0.8h-0.8zM58.49 284.49h0.8v0.8h-0.8zM53.49 276.69h0.8v0.8h-0.8zM54.62 284.48h0.8v0.8h-0.8zM71.84 273.52h0.8v0.8h-0.8zM61.53 276.2h0.8v0.8h-0.8zM83.11 272.42h0.8v0.8h-0.8zM80.15 278.43h0.8v0.8h-0.8zM62.02 283.53h0.8v0.8h-0.8zM78.62 280.17h0.8v0.8h-0.8zM70.4 280.16h0.8v0.8h-0.8zM79.18 287.32h0.8v0.8h-0.8zM72.54 284.63h0.8v0.8h-0.8zM53.62 280.36h0.8v0.8h-0.8zM60.06 283.02h0.8v0.8h-0.8zM72.92 285.94h0.8v0.8h-0.8zM76.17 273.43h0.8v0.8h-0.8zM82.12 283.56h0.8v0.8h-0.8zM67.34 277.86h0.8v0.8h-0.8zM60.21 276.24h0.8v0.8h-0.8z" fill="#fff" opacity="0.45"/>
</g>
<rect x="55.5" y="245.4" width="30" height="19.2" fill="none" stroke="#111" stroke-width="1.1"/>
<rect x="52" y="224.4" width="63.4" height="65.6" fill="none" stroke="#111" stroke-width="1.3"/>
<line x1="52" y1="224.4" x2="52" y2="290" stroke="#000" stroke-width="1.8"/>
<line x1="52" y1="290" x2="115.4" y2="290" stroke="#000" stroke-width="1.6"/>
<path d="M50.1 288.36H52M50.1 286.72H52M50.1 285.08H52M50.1 283.44H52M50.1 281.8H52M50.1 280.16H52M50.1 278.52H52M50.1 276.88H52M50.1 275.24H52M49.6 273.6H52M50.1 271.96H52M50.1 270.32H52M50.1 268.68H52M50.1 267.04H52M50.1 265.4H52M50.1 263.76H52M50.1 262.12H52M50.1 260.48H52M50.1 258.84H52M49.6 257.2H52M50.1 255.56H52M50.1 253.92H52M50.1 252.28H52M50.1 250.64H52M50.1 249H52M50.1 247.36H52M50.1 245.72H52M50.1 244.08H52M50.1 242.44H52M49.6 240.8H52M50.1 239.16H52M50.1 237.52H52M50.1 235.88H52M50.1 234.24H52M50.1 232.6H52M50.1 230.96H52M50.1 229.32H52M50.1 227.68H52M50.1 226.04H52" stroke="#111" stroke-width="0.75" fill="none"/>
<path d="M52 290V292.4M53.59 290V291.9M55.17 290V291.9M56.76 290V291.9M58.34 290V291.9M59.92 290V291.9M61.51 290V291.9M63.09 290V291.9M64.68 290V291.9M66.27 290V291.9M67.85 290V292.4M69.44 290V291.9M71.02 290V291.9M72.61 290V291.9M74.19 290V291.9M75.78 290V291.9M77.36 290V291.9M78.95 290V291.9M80.53 290V291.9M82.12 290V291.9M83.7 290V292.4M85.28 290V291.9M86.87 290V291.9M88.45 290V291.9M90.04 290V291.9M91.62 290V291.9M93.21 290V291.9M94.8 290V291.9M96.38 290V291.9M97.97 290V291.9M99.55 290V292.4M101.14 290V291.9M102.72 290V291.9M104.31 290V291.9M105.89 290V291.9M107.47 290V291.9M109.06 290V291.9M110.65 290V291.9M112.23 290V291.9M113.82 290V291.9M115.4 290V292.4" stroke="#111" stroke-width="0.75" fill="none"/>
<line x1="43.5" y1="296" x2="43.5" y2="235.1" stroke="#000" stroke-width="1.5"/><path d="M40.3 236.1 L43.5 224.6 L46.7 236.1 Z" fill="#000"/>
<line x1="43.3" y1="295.6" x2="104.8" y2="295.6" stroke="#000" stroke-width="1.5"/><path d="M103.8 292.6 L114.8 295.6 L103.8 298.6 Z" fill="#000"/>
<text x="0" y="0" font-size="11" font-weight="bold" text-anchor="middle" fill="#000" transform="translate(39.7 262.4) rotate(-90)">CD31</text>
<text x="63.4" y="306.3" font-size="10.3" font-weight="bold" textLength="28.6" lengthAdjust="spacingAndGlyphs">CD45</text>
<path d="M52.7 379.41 L53.2 378.54 L53.7 378.52 L54.2 377.98 L54.7 376.57 L55.2 376.69 L55.7 375.84 L56.2 376.56 L56.7 375.81 L57.2 375.94 L57.7 373.97 L58.2 375.37 L58.7 375.13 L59.2 375.25 L59.7 374.22 L60.2 372.19 L60.7 372.59 L61.2 371.07 L61.7 372.07 L62.2 371.74 L62.7 369.97 L63.2 366.64 L63.7 366.79 L64.2 366.78 L64.7 367.59 L65.2 364.98 L65.7 365.44 L66.2 367.53 L66.7 369.21 L67.2 370.33 L67.7 369.04 L68.2 367.93 L68.7 371.4 L69.2 369.71 L69.7 371.99 L70.2 373.3 L70.7 374.06 L71.2 375.85 L71.7 376.73 L72.2 377.22 L72.7 378.14 L73.2 378.54 L73.7 378.76 L74.2 379.63 L74.7 380.27 L75.2 379.91 L75.7 380.5 L76.2 380.6 L76.7 380.6 L77.2 380.6 L77.7 380.6 L78.2 380.6 L78.7 380.6 L79.2 380.6 L79.7 380.6 L80.2 380.6 L80.7 380.6 L81.2 380.6 L81.7 380.6 L82.2 380.6 L82.7 380.6 L83.2 380.6 L83.7 380.6 L84.2 380.6 L84.7 380.6 L85.2 380.6 L85.7 380.6 L86.2 380.6 L86.7 380.6 L87.2 380.6 L87.7 380.6 L88.2 380.6 L88.7 380.6 L89.2 380.6 L89.7 380.6 L90.2 380.6 L90.7 380.6 L91.2 380.6 L91.7 380.6 L92.2 380.6 L92.7 380.6 L93.2 380.6 L93.7 380.6 L94.2 380.6 L94.7 380.6 L95.2 380.6 L95.7 380.6 L96.2 380.6 L96.7 380.6 L97.2 380.6 L97.7 380.6 L98.2 380.6 L98.7 380.6 L99.2 380.6 L99.2 380.6 L52.7 380.6 Z" fill="#d0d0d0" stroke="#888" stroke-width="0.85" stroke-linejoin="round"/>
<path d="M52.7 380.1 L53.15 378.97 L53.6 380.53 L54.05 378.93 L54.5 379.35 L54.95 379.47 L55.4 379.78 L55.85 380.26 L56.3 379.74 L56.75 379.53 L57.2 380.38 L57.65 380.09 L58.1 379.57 L58.55 379.75 L59 379.95 L59.45 379.72 L59.9 378.98 L60.35 379.06 L60.8 379.1 L61.25 379.83 L61.7 379.16 L62.15 379.7 L62.6 379.37 L63.05 378.78 L63.5 380.4 L63.95 378.44 L64.4 379.3 L64.85 380.33 L65.3 379.45 L65.75 379.59 L66.2 379.41 L66.65 379.87 L67.1 379.7 L67.55 379.63 L68 378.73 L68.45 379.46 L68.9 379.21 L69.35 378 L69.8 377.33 L70.25 377.72 L70.7 377.01 L71.15 375.22 L71.6 375.14 L72.05 374.83 L72.5 372.09 L72.95 373.53 L73.4 368.81 L73.85 370.51 L74.3 368.3 L74.75 366.94 L75.2 369.99 L75.65 370.31 L76.1 366.96 L76.55 368.16 L77 366.79 L77.45 365.67 L77.9 363.9 L78.35 363.64 L78.8 364.03 L79.25 361.9 L79.7 364.76 L80.15 363.38 L80.6 361.25 L81.05 358.57 L81.5 356.82 L81.95 359.19 L82.4 355.96 L82.85 353.48 L83.3 356.09 L83.75 360.39 L84.2 360.46 L84.65 355.56 L85.1 357.68 L85.55 362 L86 362.75 L86.45 359.25 L86.9 364.83 L87.35 363.11 L87.8 362.18 L88.25 364.54 L88.7 363.46 L89.15 365.33 L89.6 368.65 L90.05 368.29 L90.5 371.37 L90.95 371.42 L91.4 373.51 L91.85 372.08 L92.3 374.44 L92.75 375.39 L93.2 376.66 L93.65 376.64 L94.1 377.85 L94.55 378.79 L95 379.16 L95.45 379.43 L95.9 379.58 L96.35 379.93 L96.8 379.74 L97.25 378.95 L97.7 380.53 L98.15 380.12 L98.6 379.56 L99.05 380.6 L99.5 380.6" fill="none" stroke="#000" stroke-width="1.25" stroke-linejoin="round"/>
<rect x="52.7" y="334.4" width="46.8" height="46.2" fill="none" stroke="#111" stroke-width="1.3"/>
<line x1="52.7" y1="334.4" x2="52.7" y2="380.6" stroke="#000" stroke-width="1.8"/>
<line x1="52.7" y1="380.6" x2="99.5" y2="380.6" stroke="#000" stroke-width="1.6"/>
<path d="M50.8 379.44H52.7M50.8 378.29H52.7M50.8 377.13H52.7M50.8 375.98H52.7M50.8 374.82H52.7M50.8 373.67H52.7M50.8 372.51H52.7M50.8 371.36H52.7M50.8 370.2H52.7M50.3 369.05H52.7M50.8 367.89H52.7M50.8 366.74H52.7M50.8 365.58H52.7M50.8 364.43H52.7M50.8 363.27H52.7M50.8 362.12H52.7M50.8 360.96H52.7M50.8 359.81H52.7M50.8 358.65H52.7M50.3 357.5H52.7M50.8 356.34H52.7M50.8 355.19H52.7M50.8 354.03H52.7M50.8 352.88H52.7M50.8 351.72H52.7M50.8 350.57H52.7M50.8 349.41H52.7M50.8 348.26H52.7M50.8 347.1H52.7M50.3 345.95H52.7M50.8 344.79H52.7M50.8 343.64H52.7M50.8 342.48H52.7M50.8 341.33H52.7M50.8 340.17H52.7M50.8 339.02H52.7M50.8 337.86H52.7M50.8 336.71H52.7M50.8 335.55H52.7" stroke="#111" stroke-width="0.75" fill="none"/>
<path d="M52.7 380.6V383M53.87 380.6V382.5M55.04 380.6V382.5M56.21 380.6V382.5M57.38 380.6V382.5M58.55 380.6V382.5M59.72 380.6V382.5M60.89 380.6V382.5M62.06 380.6V382.5M63.23 380.6V382.5M64.4 380.6V383M65.57 380.6V382.5M66.74 380.6V382.5M67.91 380.6V382.5M69.08 380.6V382.5M70.25 380.6V382.5M71.42 380.6V382.5M72.59 380.6V382.5M73.76 380.6V382.5M74.93 380.6V382.5M76.1 380.6V383M77.27 380.6V382.5M78.44 380.6V382.5M79.61 380.6V382.5M80.78 380.6V382.5M81.95 380.6V382.5M83.12 380.6V382.5M84.29 380.6V382.5M85.46 380.6V382.5M86.63 380.6V382.5M87.8 380.6V383M88.97 380.6V382.5M90.14 380.6V382.5M91.31 380.6V382.5M92.48 380.6V382.5M93.65 380.6V382.5M94.82 380.6V382.5M95.99 380.6V382.5M97.16 380.6V382.5M98.33 380.6V382.5M99.5 380.6V383" stroke="#111" stroke-width="0.75" fill="none"/>
<path d="M52.7 431.1 L53.2 430.15 L53.7 430.32 L54.2 428.94 L54.7 428.9 L55.2 428.77 L55.7 428.45 L56.2 427.04 L56.7 426.47 L57.2 426.77 L57.7 425.57 L58.2 425.09 L58.7 422.6 L59.2 422.67 L59.7 422.07 L60.2 420.45 L60.7 420.18 L61.2 419.82 L61.7 420.72 L62.2 419.74 L62.7 418.81 L63.2 416.4 L63.7 415.92 L64.2 417.96 L64.7 418.46 L65.2 417.52 L65.7 415.96 L66.2 420.01 L66.7 419.47 L67.2 417.61 L67.7 418.69 L68.2 419.52 L68.7 419.98 L69.2 421.15 L69.7 423.91 L70.2 425.04 L70.7 423.85 L71.2 421.77 L71.7 424.31 L72.2 423.45 L72.7 427.42 L73.2 426.08 L73.7 428.62 L74.2 428.58 L74.7 429.13 L75.2 430.6 L75.7 429.89 L76.2 431.21 L76.7 430.69 L77.2 431.8 L77.7 431.8 L78.2 431.71 L78.7 431.8 L79.2 431.8 L79.7 431.8 L80.2 431.8 L80.7 431.8 L81.2 431.8 L81.7 431.8 L82.2 431.8 L82.7 431.8 L83.2 431.8 L83.7 431.8 L84.2 431.8 L84.7 431.8 L85.2 431.8 L85.7 431.8 L86.2 431.8 L86.7 431.8 L87.2 431.8 L87.7 431.8 L88.2 431.8 L88.7 431.8 L89.2 431.8 L89.7 431.8 L90.2 431.8 L90.7 431.8 L91.2 431.8 L91.7 431.8 L92.2 431.8 L92.7 431.8 L93.2 431.8 L93.7 431.8 L94.2 431.8 L94.7 431.8 L95.2 431.8 L95.7 431.8 L96.2 431.8 L96.7 431.8 L97.2 431.8 L97.7 431.8 L98.2 431.8 L98.7 431.8 L99.2 431.8 L99.2 431.8 L52.7 431.8 Z" fill="#d0d0d0" stroke="#888" stroke-width="0.85" stroke-linejoin="round"/>
<path d="M52.7 429.86 L53.2 429.18 L53.7 429.72 L54.2 428.74 L54.7 428.27 L55.2 429.6 L55.7 429.97 L56.2 429.09 L56.7 429.63 L57.2 429.68 L57.7 429.3 L58.2 429.61 L58.7 429.97 L59.2 429.32 L59.7 429.11 L60.2 429.89 L60.7 429.13 L61.2 430.42 L61.7 430.04 L62.2 429.58 L62.7 429.79 L63.2 429.39 L63.7 429.26 L64.2 429.62 L64.7 429.92 L65.2 429.22 L65.7 430.49 L66.2 429.14 L66.7 428.5 L67.2 430.03 L67.7 430.52 L68.2 430.2 L68.7 428.41 L69.2 429.74 L69.7 429.16 L70.2 430.12 L70.7 429.6 L71.2 428.78 L71.7 430.64 L72.2 429.39 L72.7 429.39 L73.2 429.06 L73.7 430.09 L74.2 429.9 L74.7 428.62 L75.2 429.83 L75.7 429.21 L76.2 429.95 L76.7 428.3 L77.2 427.18 L77.7 425.2 L78.2 426.8 L78.7 423.47 L79.2 423.18 L79.7 421.01 L80.2 420.57 L80.7 416.14 L81.2 417.51 L81.7 413.34 L82.2 412.51 L82.7 410.51 L83.2 409.68 L83.7 403.18 L84.2 409.06 L84.7 403.26 L85.2 408.07 L85.7 405.8 L86.2 406.16 L86.7 414.29 L87.2 408.45 L87.7 406.39 L88.2 405.67 L88.7 415.6 L89.2 415.92 L89.7 418.41 L90.2 419.5 L90.7 422.83 L91.2 423.35 L91.7 423.26 L92.2 425.84 L92.7 425.37 L93.2 427.79 L93.7 428.87 L94.2 429.14 L94.7 429.05 L95.2 430.33 L95.7 430.53 L96.2 431.01 L96.7 431.64 L97.2 431.35 L97.7 430.95 L98.2 431.56 L98.7 431.57 L99.2 431.34" fill="none" stroke="#8a8a8a" stroke-width="0.9" stroke-linejoin="round"/>
<path d="M52.7 431.65 L53.15 431.23 L53.6 431.4 L54.05 431.8 L54.5 430.9 L54.95 431.01 L55.4 431.79 L55.85 431.42 L56.3 431.8 L56.75 431.33 L57.2 430.42 L57.65 431.65 L58.1 430.41 L58.55 431.8 L59 430.05 L59.45 431.67 L59.9 430.4 L60.35 430.33 L60.8 430.31 L61.25 431.8 L61.7 431.72 L62.15 431.06 L62.6 431.1 L63.05 430.62 L63.5 430.54 L63.95 430.75 L64.4 431.19 L64.85 431.19 L65.3 430.85 L65.75 431.41 L66.2 430.71 L66.65 431.03 L67.1 430.59 L67.55 431.09 L68 430.4 L68.45 430.05 L68.9 431.05 L69.35 430.35 L69.8 430.45 L70.25 429.93 L70.7 428.65 L71.15 429.98 L71.6 430.22 L72.05 430.2 L72.5 429.4 L72.95 429.02 L73.4 429.4 L73.85 428.89 L74.3 428.78 L74.75 428.48 L75.2 429.71 L75.65 428.86 L76.1 428.23 L76.55 428.54 L77 427.4 L77.45 425.17 L77.9 426.63 L78.35 422.23 L78.8 422.08 L79.25 420.03 L79.7 420.43 L80.15 416.23 L80.6 417.65 L81.05 415.48 L81.5 415.65 L81.95 412.2 L82.4 411.91 L82.85 412.38 L83.3 407.95 L83.75 405.16 L84.2 399.23 L84.65 404.89 L85.1 401.18 L85.55 402.99 L86 406.78 L86.45 407.16 L86.9 413.56 L87.35 415.92 L87.8 415.29 L88.25 414.95 L88.7 414.62 L89.15 415.26 L89.6 419.15 L90.05 419.21 L90.5 419.34 L90.95 418.82 L91.4 424.73 L91.85 422.95 L92.3 424.5 L92.75 426.68 L93.2 426.94 L93.65 427.49 L94.1 429.38 L94.55 428.98 L95 429.35 L95.45 429.64 L95.9 430.53 L96.35 430.56 L96.8 429.8 L97.25 430.73 L97.7 430.08 L98.15 430.76 L98.6 430.84 L99.05 431.2 L99.5 430.68" fill="none" stroke="#000" stroke-width="1.25" stroke-linejoin="round"/>
<rect x="52.7" y="385.6" width="46.8" height="46.2" fill="none" stroke="#111" stroke-width="1.3"/>
<line x1="52.7" y1="385.6" x2="52.7" y2="431.8" stroke="#000" stroke-width="1.8"/>
<line x1="52.7" y1="431.8" x2="99.5" y2="431.8" stroke="#000" stroke-width="1.6"/>
<path d="M50.8 430.65H52.7M50.8 429.49H52.7M50.8 428.34H52.7M50.8 427.18H52.7M50.8 426.03H52.7M50.8 424.87H52.7M50.8 423.72H52.7M50.8 422.56H52.7M50.8 421.41H52.7M50.3 420.25H52.7M50.8 419.1H52.7M50.8 417.94H52.7M50.8 416.79H52.7M50.8 415.63H52.7M50.8 414.48H52.7M50.8 413.32H52.7M50.8 412.17H52.7M50.8 411.01H52.7M50.8 409.86H52.7M50.3 408.7H52.7M50.8 407.55H52.7M50.8 406.39H52.7M50.8 405.24H52.7M50.8 404.08H52.7M50.8 402.93H52.7M50.8 401.77H52.7M50.8 400.62H52.7M50.8 399.46H52.7M50.8 398.31H52.7M50.3 397.15H52.7M50.8 396H52.7M50.8 394.84H52.7M50.8 393.69H52.7M50.8 392.53H52.7M50.8 391.38H52.7M50.8 390.22H52.7M50.8 389.06H52.7M50.8 387.91H52.7M50.8 386.75H52.7" stroke="#111" stroke-width="0.75" fill="none"/>
<path d="M52.7 431.8V434.2M53.87 431.8V433.7M55.04 431.8V433.7M56.21 431.8V433.7M57.38 431.8V433.7M58.55 431.8V433.7M59.72 431.8V433.7M60.89 431.8V433.7M62.06 431.8V433.7M63.23 431.8V433.7M64.4 431.8V434.2M65.57 431.8V433.7M66.74 431.8V433.7M67.91 431.8V433.7M69.08 431.8V433.7M70.25 431.8V433.7M71.42 431.8V433.7M72.59 431.8V433.7M73.76 431.8V433.7M74.93 431.8V433.7M76.1 431.8V434.2M77.27 431.8V433.7M78.44 431.8V433.7M79.61 431.8V433.7M80.78 431.8V433.7M81.95 431.8V433.7M83.12 431.8V433.7M84.29 431.8V433.7M85.46 431.8V433.7M86.63 431.8V433.7M87.8 431.8V434.2M88.97 431.8V433.7M90.14 431.8V433.7M91.31 431.8V433.7M92.48 431.8V433.7M93.65 431.8V433.7M94.82 431.8V433.7M95.99 431.8V433.7M97.16 431.8V433.7M98.33 431.8V433.7M99.5 431.8V434.2" stroke="#111" stroke-width="0.75" fill="none"/>
<path d="M105.5 379.44 L106 379.4 L106.5 378.71 L107 378.43 L107.5 377.85 L108 376.75 L108.5 376.87 L109 376.48 L109.5 376.88 L110 376.46 L110.5 377.15 L111 374.55 L111.5 375.11 L112 372.05 L112.5 371.68 L113 371.63 L113.5 373.29 L114 371.06 L114.5 370.32 L115 371.6 L115.5 367.64 L116 368.86 L116.5 370.67 L117 370.43 L117.5 366.28 L118 364.65 L118.5 368.52 L119 368.54 L119.5 369.68 L120 367.78 L120.5 370.62 L121 369.12 L121.5 371.24 L122 371.21 L122.5 372.81 L123 374.16 L123.5 374.42 L124 374.6 L124.5 377.29 L125 376.84 L125.5 376.7 L126 377.79 L126.5 378.74 L127 378.55 L127.5 379.17 L128 379.06 L128.5 379.72 L129 379.43 L129.5 379.68 L130 380.33 L130.5 380.34 L131 380.51 L131.5 380.6 L132 380.6 L132.5 380.6 L133 380.6 L133.5 380.6 L134 380.6 L134.5 380.6 L135 380.6 L135.5 380.6 L136 380.6 L136.5 380.6 L137 380.6 L137.5 380.6 L138 380.6 L138.5 380.6 L139 380.6 L139.5 380.6 L140 380.6 L140.5 380.6 L141 380.6 L141.5 380.6 L142 380.6 L142.5 380.6 L143 380.6 L143.5 380.6 L144 380.6 L144.5 380.6 L145 380.6 L145.5 380.6 L146 380.6 L146.5 380.6 L147 380.6 L147.5 380.6 L148 380.6 L148.5 380.6 L149 380.6 L149.5 380.6 L150 380.6 L150.5 380.6 L151 380.6 L151.5 380.6 L152 380.6 L152 380.6 L105.5 380.6 Z" fill="#d0d0d0" stroke="#888" stroke-width="0.85" stroke-linejoin="round"/>
<path d="M105.5 380.25 L105.95 379.92 L106.4 379.9 L106.85 379.69 L107.3 379.1 L107.75 379.78 L108.2 378.72 L108.65 379.88 L109.1 379.47 L109.55 380.49 L110 379.85 L110.45 378.64 L110.9 379.02 L111.35 378.7 L111.8 379.45 L112.25 379.23 L112.7 379.76 L113.15 380.6 L113.6 379.07 L114.05 379.6 L114.5 380.43 L114.95 379.84 L115.4 379.89 L115.85 380.6 L116.3 380.01 L116.75 380.15 L117.2 379.65 L117.65 378.73 L118.1 380 L118.55 379.65 L119 379.16 L119.45 379.43 L119.9 378.92 L120.35 379.46 L120.8 378.99 L121.25 377.5 L121.7 376.27 L122.15 377.01 L122.6 374.94 L123.05 372.95 L123.5 371.96 L123.95 368.9 L124.4 366.99 L124.85 366.95 L125.3 367.68 L125.75 360.18 L126.2 361.71 L126.65 362.61 L127.1 362.55 L127.55 365.17 L128 369.84 L128.45 368.87 L128.9 373.8 L129.35 371.76 L129.8 373.3 L130.25 374.26 L130.7 371.4 L131.15 371.6 L131.6 370.58 L132.05 374.25 L132.5 370.88 L132.95 370.08 L133.4 371.25 L133.85 371.3 L134.3 368.02 L134.75 363.88 L135.2 363.84 L135.65 362.08 L136.1 361.32 L136.55 358.62 L137 360.43 L137.45 356.87 L137.9 362.55 L138.35 357.78 L138.8 359.65 L139.25 364.87 L139.7 369.66 L140.15 368.02 L140.6 363.02 L141.05 367.65 L141.5 369.49 L141.95 368.97 L142.4 372.42 L142.85 371.38 L143.3 372.18 L143.75 373.52 L144.2 376.24 L144.65 375.82 L145.1 375.04 L145.55 378.2 L146 379.98 L146.45 379.34 L146.9 379.39 L147.35 379.52 L147.8 380.15 L148.25 379.67 L148.7 380.24 L149.15 380.53 L149.6 379.87 L150.05 380.27 L150.5 380.6 L150.95 379.4 L151.4 380.55 L151.85 379.62 L152.3 380.15" fill="none" stroke="#000" stroke-width="1.25" stroke-linejoin="round"/>
<rect x="105.5" y="334.4" width="46.8" height="46.2" fill="none" stroke="#111" stroke-width="1.3"/>
<line x1="105.5" y1="334.4" x2="105.5" y2="380.6" stroke="#000" stroke-width="1.8"/>
<line x1="105.5" y1="380.6" x2="152.3" y2="380.6" stroke="#000" stroke-width="1.6"/>
<path d="M103.6 379.44H105.5M103.6 378.29H105.5M103.6 377.13H105.5M103.6 375.98H105.5M103.6 374.82H105.5M103.6 373.67H105.5M103.6 372.51H105.5M103.6 371.36H105.5M103.6 370.2H105.5M103.1 369.05H105.5M103.6 367.89H105.5M103.6 366.74H105.5M103.6 365.58H105.5M103.6 364.43H105.5M103.6 363.27H105.5M103.6 362.12H105.5M103.6 360.96H105.5M103.6 359.81H105.5M103.6 358.65H105.5M103.1 357.5H105.5M103.6 356.34H105.5M103.6 355.19H105.5M103.6 354.03H105.5M103.6 352.88H105.5M103.6 351.72H105.5M103.6 350.57H105.5M103.6 349.41H105.5M103.6 348.26H105.5M103.6 347.1H105.5M103.1 345.95H105.5M103.6 344.79H105.5M103.6 343.64H105.5M103.6 342.48H105.5M103.6 341.33H105.5M103.6 340.17H105.5M103.6 339.02H105.5M103.6 337.86H105.5M103.6 336.71H105.5M103.6 335.55H105.5" stroke="#111" stroke-width="0.75" fill="none"/>
<path d="M105.5 380.6V383M106.67 380.6V382.5M107.84 380.6V382.5M109.01 380.6V382.5M110.18 380.6V382.5M111.35 380.6V382.5M112.52 380.6V382.5M113.69 380.6V382.5M114.86 380.6V382.5M116.03 380.6V382.5M117.2 380.6V383M118.37 380.6V382.5M119.54 380.6V382.5M120.71 380.6V382.5M121.88 380.6V382.5M123.05 380.6V382.5M124.22 380.6V382.5M125.39 380.6V382.5M126.56 380.6V382.5M127.73 380.6V382.5M128.9 380.6V383M130.07 380.6V382.5M131.24 380.6V382.5M132.41 380.6V382.5M133.58 380.6V382.5M134.75 380.6V382.5M135.92 380.6V382.5M137.09 380.6V382.5M138.26 380.6V382.5M139.43 380.6V382.5M140.6 380.6V383M141.77 380.6V382.5M142.94 380.6V382.5M144.11 380.6V382.5M145.28 380.6V382.5M146.45 380.6V382.5M147.62 380.6V382.5M148.79 380.6V382.5M149.96 380.6V382.5M151.13 380.6V382.5M152.3 380.6V383" stroke="#111" stroke-width="0.75" fill="none"/>
<path d="M105.5 430.29 L106 430.56 L106.5 430.52 L107 429.38 L107.5 428.92 L108 429.8 L108.5 429.59 L109 428.44 L109.5 426.18 L110 427.23 L110.5 424.32 L111 425.24 L111.5 424.51 L112 424.78 L112.5 424.08 L113 420.94 L113.5 420.25 L114 419.87 L114.5 420.82 L115 418.88 L115.5 417.8 L116 416.88 L116.5 415.94 L117 418.8 L117.5 419.65 L118 418.4 L118.5 419.1 L119 420.1 L119.5 418 L120 419.13 L120.5 421.27 L121 418.47 L121.5 421.49 L122 424.33 L122.5 423.83 L123 424.95 L123.5 425.16 L124 426.61 L124.5 427.45 L125 427.8 L125.5 429.16 L126 428.78 L126.5 428.82 L127 429.6 L127.5 429.12 L128 429.9 L128.5 430.12 L129 430.63 L129.5 430.63 L130 431.37 L130.5 431.22 L131 431.71 L131.5 431.8 L132 431.8 L132.5 431.8 L133 431.8 L133.5 431.8 L134 431.8 L134.5 431.8 L135 431.8 L135.5 431.8 L136 431.8 L136.5 431.8 L137 431.8 L137.5 431.8 L138 431.8 L138.5 431.8 L139 431.8 L139.5 431.8 L140 431.8 L140.5 431.8 L141 431.8 L141.5 431.8 L142 431.8 L142.5 431.8 L143 431.8 L143.5 431.8 L144 431.8 L144.5 431.8 L145 431.8 L145.5 431.8 L146 431.8 L146.5 431.8 L147 431.8 L147.5 431.8 L148 431.8 L148.5 431.8 L149 431.8 L149.5 431.8 L150 431.8 L150.5 431.8 L151 431.8 L151.5 431.8 L152 431.8 L152 431.8 L105.5 431.8 Z" fill="#d0d0d0" stroke="#888" stroke-width="0.85" stroke-linejoin="round"/>
<path d="M105.5 430.61 L105.95 430.35 L106.4 430.51 L106.85 430.8 L107.3 430.67 L107.75 429.17 L108.2 430.09 L108.65 430.53 L109.1 429.29 L109.55 429.73 L110 430.04 L110.45 429.88 L110.9 429.14 L111.35 427.1 L111.8 428.29 L112.25 426.95 L112.7 427.61 L113.15 426.05 L113.6 424.8 L114.05 426.19 L114.5 424.31 L114.95 424.26 L115.4 423.84 L115.85 421.77 L116.3 418.82 L116.75 420.62 L117.2 420.18 L117.65 421.04 L118.1 417.08 L118.55 417.7 L119 418.75 L119.45 417.44 L119.9 417.64 L120.35 418.7 L120.8 418.73 L121.25 422.83 L121.7 422.13 L122.15 422.33 L122.6 424.58 L123.05 424.75 L123.5 428.05 L123.95 428.38 L124.4 427.59 L124.85 426.35 L125.3 423.91 L125.75 422.43 L126.2 422.7 L126.65 422.48 L127.1 425.14 L127.55 424.97 L128 426.29 L128.45 425.58 L128.9 426.19 L129.35 425.24 L129.8 425.67 L130.25 422.45 L130.7 422.79 L131.15 421.95 L131.6 424.04 L132.05 426.06 L132.5 424.25 L132.95 426.07 L133.4 424.09 L133.85 421.66 L134.3 423.04 L134.75 422.26 L135.2 424.11 L135.65 423.16 L136.1 419.73 L136.55 421.96 L137 418.58 L137.45 414.4 L137.9 421.25 L138.35 417.93 L138.8 418.98 L139.25 421.69 L139.7 422.41 L140.15 423.53 L140.6 423.68 L141.05 425.8 L141.5 424.07 L141.95 424.82 L142.4 424.63 L142.85 424.89 L143.3 427 L143.75 426.96 L144.2 427.4 L144.65 428.31 L145.1 428.2 L145.55 428.99 L146 429.28 L146.45 429.75 L146.9 429.29 L147.35 430.93 L147.8 429.79 L148.25 430.71 L148.7 431.68 L149.15 430.71 L149.6 430.79 L150.05 430.86 L150.5 430.93 L150.95 431.06 L151.4 431.8 L151.85 431.72 L152.3 431.8" fill="none" stroke="#000" stroke-width="1.25" stroke-linejoin="round"/>
<rect x="105.5" y="385.6" width="46.8" height="46.2" fill="none" stroke="#111" stroke-width="1.3"/>
<line x1="105.5" y1="385.6" x2="105.5" y2="431.8" stroke="#000" stroke-width="1.8"/>
<line x1="105.5" y1="431.8" x2="152.3" y2="431.8" stroke="#000" stroke-width="1.6"/>
<path d="M103.6 430.65H105.5M103.6 429.49H105.5M103.6 428.34H105.5M103.6 427.18H105.5M103.6 426.03H105.5M103.6 424.87H105.5M103.6 423.72H105.5M103.6 422.56H105.5M103.6 421.41H105.5M103.1 420.25H105.5M103.6 419.1H105.5M103.6 417.94H105.5M103.6 416.79H105.5M103.6 415.63H105.5M103.6 414.48H105.5M103.6 413.32H105.5M103.6 412.17H105.5M103.6 411.01H105.5M103.6 409.86H105.5M103.1 408.7H105.5M103.6 407.55H105.5M103.6 406.39H105.5M103.6 405.24H105.5M103.6 404.08H105.5M103.6 402.93H105.5M103.6 401.77H105.5M103.6 400.62H105.5M103.6 399.46H105.5M103.6 398.31H105.5M103.1 397.15H105.5M103.6 396H105.5M103.6 394.84H105.5M103.6 393.69H105.5M103.6 392.53H105.5M103.6 391.38H105.5M103.6 390.22H105.5M103.6 389.06H105.5M103.6 387.91H105.5M103.6 386.75H105.5" stroke="#111" stroke-width="0.75" fill="none"/>
<path d="M105.5 431.8V434.2M106.67 431.8V433.7M107.84 431.8V433.7M109.01 431.8V433.7M110.18 431.8V433.7M111.35 431.8V433.7M112.52 431.8V433.7M113.69 431.8V433.7M114.86 431.8V433.7M116.03 431.8V433.7M117.2 431.8V434.2M118.37 431.8V433.7M119.54 431.8V433.7M120.71 431.8V433.7M121.88 431.8V433.7M123.05 431.8V433.7M124.22 431.8V433.7M125.39 431.8V433.7M126.56 431.8V433.7M127.73 431.8V433.7M128.9 431.8V434.2M130.07 431.8V433.7M131.24 431.8V433.7M132.41 431.8V433.7M133.58 431.8V433.7M134.75 431.8V433.7M135.92 431.8V433.7M137.09 431.8V433.7M138.26 431.8V433.7M139.43 431.8V433.7M140.6 431.8V434.2M141.77 431.8V433.7M142.94 431.8V433.7M144.11 431.8V433.7M145.28 431.8V433.7M146.45 431.8V433.7M147.62 431.8V433.7M148.79 431.8V433.7M149.96 431.8V433.7M151.13 431.8V433.7M152.3 431.8V434.2" stroke="#111" stroke-width="0.75" fill="none"/>
<path d="M159 379.08 L159.5 379.35 L160 378.69 L160.5 379.41 L161 379.8 L161.5 379.16 L162 378.33 L162.5 378.49 L163 378.7 L163.5 378.06 L164 378.33 L164.5 376.94 L165 377.68 L165.5 376.93 L166 375.81 L166.5 376 L167 374.81 L167.5 375.7 L168 373.93 L168.5 374.28 L169 374.18 L169.5 372 L170 371.45 L170.5 370.55 L171 370.54 L171.5 371.16 L172 366.71 L172.5 368.72 L173 371.8 L173.5 370.22 L174 371.6 L174.5 371.22 L175 371.45 L175.5 370.44 L176 372.34 L176.5 373.06 L177 373.95 L177.5 376.51 L178 375.72 L178.5 375.1 L179 377.07 L179.5 376.92 L180 376.87 L180.5 376.27 L181 377.63 L181.5 378.38 L182 379.27 L182.5 378.71 L183 379.56 L183.5 380.32 L184 380.05 L184.5 380.46 L185 380.6 L185.5 380.6 L186 380.6 L186.5 380.6 L187 380.6 L187.5 380.6 L188 380.6 L188.5 380.6 L189 380.6 L189.5 380.6 L190 380.6 L190.5 380.6 L191 380.6 L191.5 380.6 L192 380.6 L192.5 380.6 L193 380.6 L193.5 380.6 L194 380.6 L194.5 380.6 L195 380.6 L195.5 380.6 L196 380.6 L196.5 380.6 L197 380.6 L197.5 380.6 L198 380.6 L198.5 380.6 L199 380.6 L199.5 380.6 L200 380.6 L200.5 380.6 L201 380.6 L201.5 380.6 L202 380.6 L202.5 380.6 L203 380.6 L203.5 380.6 L204 380.6 L204.5 380.6 L205 380.6 L205.5 380.6 L205.5 380.6 L159 380.6 Z" fill="#d0d0d0" stroke="#888" stroke-width="0.85" stroke-linejoin="round"/>
<path d="M159 379.28 L159.45 379.17 L159.9 378.25 L160.35 378.35 L160.8 378.51 L161.25 378.71 L161.7 377.66 L162.15 377.49 L162.6 378.17 L163.05 378.4 L163.5 377.35 L163.95 376.05 L164.4 375.31 L164.85 374.53 L165.3 375.87 L165.75 375.37 L166.2 375.72 L166.65 374.92 L167.1 374.07 L167.55 374.05 L168 371.51 L168.45 371.92 L168.9 370.14 L169.35 371.82 L169.8 371.66 L170.25 369.82 L170.7 366.49 L171.15 369.48 L171.6 367.4 L172.05 360.89 L172.5 355.63 L172.95 361.04 L173.4 365.53 L173.85 366.68 L174.3 363.98 L174.75 363.22 L175.2 367.43 L175.65 368.39 L176.1 364.81 L176.55 368.46 L177 368.6 L177.45 369.31 L177.9 369.95 L178.35 370.02 L178.8 371 L179.25 374.03 L179.7 372.84 L180.15 373.58 L180.6 373.17 L181.05 372.51 L181.5 374.66 L181.95 375.7 L182.4 376.01 L182.85 376.3 L183.3 377.29 L183.75 376.32 L184.2 377.84 L184.65 377.73 L185.1 378.63 L185.55 377.54 L186 379.6 L186.45 377.49 L186.9 379.03 L187.35 378.14 L187.8 379.79 L188.25 378.88 L188.7 378.91 L189.15 379.1 L189.6 378.49 L190.05 378.78 L190.5 378.49 L190.95 380.14 L191.4 379.86 L191.85 378.52 L192.3 378.77 L192.75 379.8 L193.2 378.91 L193.65 379.4 L194.1 379.97 L194.55 378.79 L195 380.09 L195.45 379.09 L195.9 380.47 L196.35 379.59 L196.8 379.74 L197.25 379.8 L197.7 380.09 L198.15 379.45 L198.6 379.53 L199.05 380.47 L199.5 379.9 L199.95 379.45 L200.4 379.72 L200.85 379.76 L201.3 379.8 L201.75 379.71 L202.2 380.33 L202.65 379.43 L203.1 379.61 L203.55 380.6 L204 380.24 L204.45 380.28 L204.9 380.6 L205.35 379.46 L205.8 379.82" fill="none" stroke="#000" stroke-width="1.25" stroke-linejoin="round"/>
<rect x="159" y="334.4" width="46.8" height="46.2" fill="none" stroke="#111" stroke-width="1.3"/>
<line x1="159" y1="334.4" x2="159" y2="380.6" stroke="#000" stroke-width="1.8"/>
<line x1="159" y1="380.6" x2="205.8" y2="380.6" stroke="#000" stroke-width="1.6"/>
<path d="M157.1 379.44H159M157.1 378.29H159M157.1 377.13H159M157.1 375.98H159M157.1 374.82H159M157.1 373.67H159M157.1 372.51H159M157.1 371.36H159M157.1 370.2H159M156.6 369.05H159M157.1 367.89H159M157.1 366.74H159M157.1 365.58H159M157.1 364.43H159M157.1 363.27H159M157.1 362.12H159M157.1 360.96H159M157.1 359.81H159M157.1 358.65H159M156.6 357.5H159M157.1 356.34H159M157.1 355.19H159M157.1 354.03H159M157.1 352.88H159M157.1 351.72H159M157.1 350.57H159M157.1 349.41H159M157.1 348.26H159M157.1 347.1H159M156.6 345.95H159M157.1 344.79H159M157.1 343.64H159M157.1 342.48H159M157.1 341.33H159M157.1 340.17H159M157.1 339.02H159M157.1 337.86H159M157.1 336.71H159M157.1 335.55H159" stroke="#111" stroke-width="0.75" fill="none"/>
<path d="M159 380.6V383M160.17 380.6V382.5M161.34 380.6V382.5M162.51 380.6V382.5M163.68 380.6V382.5M164.85 380.6V382.5M166.02 380.6V382.5M167.19 380.6V382.5M168.36 380.6V382.5M169.53 380.6V382.5M170.7 380.6V383M171.87 380.6V382.5M173.04 380.6V382.5M174.21 380.6V382.5M175.38 380.6V382.5M176.55 380.6V382.5M177.72 380.6V382.5M178.89 380.6V382.5M180.06 380.6V382.5M181.23 380.6V382.5M182.4 380.6V383M183.57 380.6V382.5M184.74 380.6V382.5M185.91 380.6V382.5M187.08 380.6V382.5M188.25 380.6V382.5M189.42 380.6V382.5M190.59 380.6V382.5M191.76 380.6V382.5M192.93 380.6V382.5M194.1 380.6V383M195.27 380.6V382.5M196.44 380.6V382.5M197.61 380.6V382.5M198.78 380.6V382.5M199.95 380.6V382.5M201.12 380.6V382.5M202.29 380.6V382.5M203.46 380.6V382.5M204.63 380.6V382.5M205.8 380.6V383" stroke="#111" stroke-width="0.75" fill="none"/>
<path d="M159 431.38 L159.5 431.32 L160 431.21 L160.5 431.04 L161 431.27 L161.5 431.59 L162 431.01 L162.5 430.35 L163 430.72 L163.5 430.71 L164 430.39 L164.5 429.66 L165 428.93 L165.5 428.34 L166 429.27 L166.5 428.97 L167 428.73 L167.5 428.06 L168 428.13 L168.5 427.92 L169 426.98 L169.5 426.19 L170 427.57 L170.5 425.9 L171 425.41 L171.5 425.38 L172 425.41 L172.5 424.23 L173 424.2 L173.5 425.04 L174 425.42 L174.5 426.41 L175 425.81 L175.5 427.28 L176 424.95 L176.5 427.19 L177 426.09 L177.5 426.98 L178 427.81 L178.5 426.29 L179 428.14 L179.5 428.6 L180 428.16 L180.5 429.53 L181 428.89 L181.5 429.58 L182 430.42 L182.5 430.45 L183 430.89 L183.5 430.71 L184 431.18 L184.5 431.66 L185 431.8 L185.5 431.8 L186 431.8 L186.5 431.8 L187 431.8 L187.5 431.8 L188 431.8 L188.5 431.8 L189 431.8 L189.5 431.8 L190 431.8 L190.5 431.8 L191 431.8 L191.5 431.8 L192 431.8 L192.5 431.8 L193 431.8 L193.5 431.8 L194 431.8 L194.5 431.8 L195 431.8 L195.5 431.8 L196 431.8 L196.5 431.8 L197 431.8 L197.5 431.8 L198 431.8 L198.5 431.8 L199 431.8 L199.5 431.8 L200 431.8 L200.5 431.8 L201 431.8 L201.5 431.8 L202 431.8 L202.5 431.8 L203 431.8 L203.5 431.8 L204 431.8 L204.5 431.8 L205 431.8 L205.5 431.8 L205.5 431.8 L159 431.8 Z" fill="#d0d0d0" stroke="#888" stroke-width="0.85" stroke-linejoin="round"/>
<path d="M159 431.02 L159.5 430.76 L160 430.99 L160.5 430.04 L161 429.89 L161.5 429.59 L162 429.39 L162.5 428.61 L163 428.19 L163.5 424.89 L164 426.69 L164.5 424.22 L165 422.75 L165.5 424.59 L166 421.89 L166.5 424.62 L167 423.84 L167.5 422.77 L168 419.59 L168.5 420.49 L169 421.19 L169.5 421.82 L170 421.02 L170.5 421.05 L171 418 L171.5 417.54 L172 419.5 L172.5 419.27 L173 420.62 L173.5 418.13 L174 421.28 L174.5 417.64 L175 417.19 L175.5 418.99 L176 418.93 L176.5 419.43 L177 418.88 L177.5 420.69 L178 416.3 L178.5 415.67 L179 415.92 L179.5 412.66 L180 412.97 L180.5 418.77 L181 418.7 L181.5 419.93 L182 420.22 L182.5 422.82 L183 423.46 L183.5 424.96 L184 423.51 L184.5 423.94 L185 425.24 L185.5 421.68 L186 424.25 L186.5 423.57 L187 423.94 L187.5 426.19 L188 425.35 L188.5 425.75 L189 427.08 L189.5 425.12 L190 426.71 L190.5 427.27 L191 426.39 L191.5 427.6 L192 427.71 L192.5 428.47 L193 428.86 L193.5 428.97 L194 429.09 L194.5 429.38 L195 429.88 L195.5 430.04 L196 430.31 L196.5 430.14 L197 431.06 L197.5 429.86 L198 430.41 L198.5 429.91 L199 431.28 L199.5 430.94 L200 431.24 L200.5 430.54 L201 431.61 L201.5 431.43 L202 430.85 L202.5 431.8 L203 431.8 L203.5 431.79 L204 430.92 L204.5 430.9 L205 431.23 L205.5 431.8" fill="none" stroke="#8a8a8a" stroke-width="0.9" stroke-linejoin="round"/>
<path d="M159 430.28 L159.45 431.23 L159.9 430.32 L160.35 429.13 L160.8 429.55 L161.25 430.47 L161.7 430.07 L162.15 429.61 L162.6 426.98 L163.05 428.45 L163.5 426.61 L163.95 425.92 L164.4 423.72 L164.85 422.67 L165.3 422.85 L165.75 422.28 L166.2 421.7 L166.65 422.7 L167.1 419.67 L167.55 421.68 L168 421.09 L168.45 419.06 L168.9 418.36 L169.35 416.32 L169.8 417.64 L170.25 419.93 L170.7 416.51 L171.15 417.1 L171.6 417.9 L172.05 417.63 L172.5 417.46 L172.95 417.62 L173.4 416.82 L173.85 421.39 L174.3 420.9 L174.75 419.07 L175.2 419.66 L175.65 419.73 L176.1 416.35 L176.55 418.78 L177 417.78 L177.45 418.06 L177.9 418.13 L178.35 419.04 L178.8 415.81 L179.25 419.26 L179.7 419.02 L180.15 420.58 L180.6 420.79 L181.05 420.37 L181.5 419.85 L181.95 421.13 L182.4 420.67 L182.85 423.61 L183.3 421.56 L183.75 421.51 L184.2 424.73 L184.65 423.86 L185.1 424.71 L185.55 423.04 L186 425.13 L186.45 424.51 L186.9 423.82 L187.35 424.95 L187.8 423.73 L188.25 424.26 L188.7 426.31 L189.15 426.58 L189.6 425.16 L190.05 426.56 L190.5 427.27 L190.95 426.99 L191.4 427.27 L191.85 426.49 L192.3 427.5 L192.75 427.83 L193.2 428.07 L193.65 427.66 L194.1 428.68 L194.55 429.12 L195 428.33 L195.45 428.77 L195.9 428.92 L196.35 429.21 L196.8 429.73 L197.25 430.03 L197.7 431.49 L198.15 430.93 L198.6 430.59 L199.05 430.79 L199.5 431.09 L199.95 430.55 L200.4 429.39 L200.85 431.21 L201.3 430.35 L201.75 431.28 L202.2 430.08 L202.65 431.56 L203.1 431.42 L203.55 430.51 L204 431.3 L204.45 430.73 L204.9 431.8 L205.35 430.87 L205.8 431.59" fill="none" stroke="#000" stroke-width="1.25" stroke-linejoin="round"/>
<rect x="159" y="385.6" width="46.8" height="46.2" fill="none" stroke="#111" stroke-width="1.3"/>
<line x1="159" y1="385.6" x2="159" y2="431.8" stroke="#000" stroke-width="1.8"/>
<line x1="159" y1="431.8" x2="205.8" y2="431.8" stroke="#000" stroke-width="1.6"/>
<path d="M157.1 430.65H159M157.1 429.49H159M157.1 428.34H159M157.1 427.18H159M157.1 426.03H159M157.1 424.87H159M157.1 423.72H159M157.1 422.56H159M157.1 421.41H159M156.6 420.25H159M157.1 419.1H159M157.1 417.94H159M157.1 416.79H159M157.1 415.63H159M157.1 414.48H159M157.1 413.32H159M157.1 412.17H159M157.1 411.01H159M157.1 409.86H159M156.6 408.7H159M157.1 407.55H159M157.1 406.39H159M157.1 405.24H159M157.1 404.08H159M157.1 402.93H159M157.1 401.77H159M157.1 400.62H159M157.1 399.46H159M157.1 398.31H159M156.6 397.15H159M157.1 396H159M157.1 394.84H159M157.1 393.69H159M157.1 392.53H159M157.1 391.38H159M157.1 390.22H159M157.1 389.06H159M157.1 387.91H159M157.1 386.75H159" stroke="#111" stroke-width="0.75" fill="none"/>
<path d="M159 431.8V434.2M160.17 431.8V433.7M161.34 431.8V433.7M162.51 431.8V433.7M163.68 431.8V433.7M164.85 431.8V433.7M166.02 431.8V433.7M167.19 431.8V433.7M168.36 431.8V433.7M169.53 431.8V433.7M170.7 431.8V434.2M171.87 431.8V433.7M173.04 431.8V433.7M174.21 431.8V433.7M175.38 431.8V433.7M176.55 431.8V433.7M177.72 431.8V433.7M178.89 431.8V433.7M180.06 431.8V433.7M181.23 431.8V433.7M182.4 431.8V434.2M183.57 431.8V433.7M184.74 431.8V433.7M185.91 431.8V433.7M187.08 431.8V433.7M188.25 431.8V433.7M189.42 431.8V433.7M190.59 431.8V433.7M191.76 431.8V433.7M192.93 431.8V433.7M194.1 431.8V434.2M195.27 431.8V433.7M196.44 431.8V433.7M197.61 431.8V433.7M198.78 431.8V433.7M199.95 431.8V433.7M201.12 431.8V433.7M202.29 431.8V433.7M203.46 431.8V433.7M204.63 431.8V433.7M205.8 431.8V434.2" stroke="#111" stroke-width="0.75" fill="none"/>
<path d="M212.3 380.5 L212.8 379.85 L213.3 379.91 L213.8 379.97 L214.3 379.96 L214.8 379.61 L215.3 379.01 L215.8 379.72 L216.3 379.57 L216.8 378.97 L217.3 379.29 L217.8 378.66 L218.3 378.79 L218.8 377.61 L219.3 377.76 L219.8 375.21 L220.3 376.15 L220.8 374.81 L221.3 373.68 L221.8 373.92 L222.3 374.88 L222.8 372.48 L223.3 374.25 L223.8 371.97 L224.3 370.83 L224.8 371.36 L225.3 372.41 L225.8 373.93 L226.3 373.44 L226.8 373.75 L227.3 374.74 L227.8 374.67 L228.3 375.14 L228.8 374.39 L229.3 376.46 L229.8 376.3 L230.3 376.38 L230.8 376.97 L231.3 377.91 L231.8 377.41 L232.3 378.26 L232.8 378.56 L233.3 378.22 L233.8 378.44 L234.3 379.39 L234.8 379.54 L235.3 379.48 L235.8 379.49 L236.3 379.6 L236.8 379.71 L237.3 380.6 L237.8 380.51 L238.3 380.6 L238.8 380.6 L239.3 380.6 L239.8 380.6 L240.3 380.6 L240.8 380.6 L241.3 380.6 L241.8 380.6 L242.3 380.6 L242.8 380.6 L243.3 380.6 L243.8 380.6 L244.3 380.6 L244.8 380.6 L245.3 380.6 L245.8 380.6 L246.3 380.6 L246.8 380.6 L247.3 380.6 L247.8 380.6 L248.3 380.6 L248.8 380.6 L249.3 380.6 L249.8 380.6 L250.3 380.6 L250.8 380.6 L251.3 380.6 L251.8 380.6 L252.3 380.6 L252.8 380.6 L253.3 380.6 L253.8 380.6 L254.3 380.6 L254.8 380.6 L255.3 380.6 L255.8 380.6 L256.3 380.6 L256.8 380.6 L257.3 380.6 L257.8 380.6 L258.3 380.6 L258.8 380.6 L258.8 380.6 L212.3 380.6 Z" fill="#d0d0d0" stroke="#888" stroke-width="0.85" stroke-linejoin="round"/>
<path d="M212.3 378.32 L212.8 379.97 L213.3 378.61 L213.8 379.04 L214.3 378.37 L214.8 379.45 L215.3 378.13 L215.8 377.26 L216.3 377.86 L216.8 376.16 L217.3 374.8 L217.8 374.44 L218.3 369.13 L218.8 371.2 L219.3 368.38 L219.8 367.41 L220.3 366.47 L220.8 366.93 L221.3 366.26 L221.8 366.72 L222.3 364.12 L222.8 365.97 L223.3 369.07 L223.8 368.55 L224.3 364.76 L224.8 365.74 L225.3 369.85 L225.8 368.66 L226.3 369.73 L226.8 373.3 L227.3 373.31 L227.8 373.18 L228.3 375.54 L228.8 373.2 L229.3 374.62 L229.8 377.17 L230.3 376.65 L230.8 375.55 L231.3 376.68 L231.8 378.78 L232.3 378.71 L232.8 379.32 L233.3 379.52 L233.8 379.09 L234.3 380.6 L234.8 380.4 L235.3 380.44 L235.8 380.6 L236.3 380.6 L236.8 380.6 L237.3 380.6 L237.8 380.6 L238.3 380.6 L238.8 380.6 L239.3 380.6 L239.8 380.6 L240.3 380.6 L240.8 380.6 L241.3 380.6 L241.8 380.6 L242.3 380.6 L242.8 380.6 L243.3 380.6 L243.8 380.6 L244.3 380.6 L244.8 380.6 L245.3 380.6 L245.8 380.6 L246.3 380.6 L246.8 380.6 L247.3 380.6 L247.8 380.6 L248.3 380.6 L248.8 380.6 L249.3 380.6 L249.8 380.6 L250.3 380.6 L250.8 380.6 L251.3 380.6 L251.8 380.6 L252.3 380.6 L252.8 380.6 L253.3 380.6 L253.8 380.6 L254.3 380.6 L254.8 380.6 L255.3 380.6 L255.8 380.6 L256.3 380.6 L256.8 380.6 L257.3 380.6 L257.8 380.6 L258.3 380.6 L258.8 380.6" fill="none" stroke="#8a8a8a" stroke-width="0.9" stroke-linejoin="round"/>
<path d="M212.3 378.96 L212.75 379.38 L213.2 380.39 L213.65 379.87 L214.1 378.03 L214.55 378.66 L215 379.51 L215.45 377.97 L215.9 376.12 L216.35 377.58 L216.8 374.33 L217.25 376.66 L217.7 373.7 L218.15 374.36 L218.6 371.09 L219.05 370.74 L219.5 373.66 L219.95 369.3 L220.4 371.46 L220.85 368.98 L221.3 365.86 L221.75 367.89 L222.2 366.43 L222.65 370.43 L223.1 364.81 L223.55 366.3 L224 362.54 L224.45 367.47 L224.9 367.59 L225.35 368.66 L225.8 364.59 L226.25 365.29 L226.7 363.41 L227.15 363.74 L227.6 369.86 L228.05 369.05 L228.5 369.15 L228.95 367.65 L229.4 368.95 L229.85 368.29 L230.3 371.3 L230.75 370.88 L231.2 372.75 L231.65 373.32 L232.1 371.07 L232.55 372.24 L233 372.38 L233.45 374.94 L233.9 374.58 L234.35 375.6 L234.8 378.76 L235.25 378.08 L235.7 378.28 L236.15 378.83 L236.6 376.84 L237.05 378.58 L237.5 379.81 L237.95 377.54 L238.4 379.38 L238.85 379.18 L239.3 378.33 L239.75 379.82 L240.2 379.89 L240.65 379.75 L241.1 380.08 L241.55 379.95 L242 380.16 L242.45 380.11 L242.9 379.34 L243.35 379.77 L243.8 379.14 L244.25 379.41 L244.7 380.34 L245.15 380.42 L245.6 380.6 L246.05 379.91 L246.5 378.73 L246.95 380.47 L247.4 377.82 L247.85 379.48 L248.3 380.46 L248.75 379.98 L249.2 379.43 L249.65 380.35 L250.1 379.58 L250.55 379.63 L251 379.9 L251.45 380.6 L251.9 380.01 L252.35 379.04 L252.8 379.42 L253.25 379.39 L253.7 380.5 L254.15 380.2 L254.6 379.98 L255.05 379.76 L255.5 380.42 L255.95 380.39 L256.4 380.6 L256.85 380.08 L257.3 379.35 L257.75 379.87 L258.2 380.27 L258.65 380.59 L259.1 379.79" fill="none" stroke="#000" stroke-width="1.2" stroke-linejoin="round"/>
<rect x="212.3" y="334.4" width="46.8" height="46.2" fill="none" stroke="#111" stroke-width="1.3"/>
<line x1="212.3" y1="334.4" x2="212.3" y2="380.6" stroke="#000" stroke-width="1.8"/>
<line x1="212.3" y1="380.6" x2="259.1" y2="380.6" stroke="#000" stroke-width="1.6"/>
<path d="M210.4 379.44H212.3M210.4 378.29H212.3M210.4 377.13H212.3M210.4 375.98H212.3M210.4 374.82H212.3M210.4 373.67H212.3M210.4 372.51H212.3M210.4 371.36H212.3M210.4 370.2H212.3M209.9 369.05H212.3M210.4 367.89H212.3M210.4 366.74H212.3M210.4 365.58H212.3M210.4 364.43H212.3M210.4 363.27H212.3M210.4 362.12H212.3M210.4 360.96H212.3M210.4 359.81H212.3M210.4 358.65H212.3M209.9 357.5H212.3M210.4 356.34H212.3M210.4 355.19H212.3M210.4 354.03H212.3M210.4 352.88H212.3M210.4 351.72H212.3M210.4 350.57H212.3M210.4 349.41H212.3M210.4 348.26H212.3M210.4 347.1H212.3M209.9 345.95H212.3M210.4 344.79H212.3M210.4 343.64H212.3M210.4 342.48H212.3M210.4 341.33H212.3M210.4 340.17H212.3M210.4 339.02H212.3M210.4 337.86H212.3M210.4 336.71H212.3M210.4 335.55H212.3" stroke="#111" stroke-width="0.75" fill="none"/>
<path d="M212.3 380.6V383M213.47 380.6V382.5M214.64 380.6V382.5M215.81 380.6V382.5M216.98 380.6V382.5M218.15 380.6V382.5M219.32 380.6V382.5M220.49 380.6V382.5M221.66 380.6V382.5M222.83 380.6V382.5M224 380.6V383M225.17 380.6V382.5M226.34 380.6V382.5M227.51 380.6V382.5M228.68 380.6V382.5M229.85 380.6V382.5M231.02 380.6V382.5M232.19 380.6V382.5M233.36 380.6V382.5M234.53 380.6V382.5M235.7 380.6V383M236.87 380.6V382.5M238.04 380.6V382.5M239.21 380.6V382.5M240.38 380.6V382.5M241.55 380.6V382.5M242.72 380.6V382.5M243.89 380.6V382.5M245.06 380.6V382.5M246.23 380.6V382.5M247.4 380.6V383M248.57 380.6V382.5M249.74 380.6V382.5M250.91 380.6V382.5M252.08 380.6V382.5M253.25 380.6V382.5M254.42 380.6V382.5M255.59 380.6V382.5M256.76 380.6V382.5M257.93 380.6V382.5M259.1 380.6V383" stroke="#111" stroke-width="0.75" fill="none"/>
<path d="M212.3 431.44 L212.8 431.38 L213.3 431.61 L213.8 430.77 L214.3 430.62 L214.8 431.05 L215.3 430.91 L215.8 430.69 L216.3 430.95 L216.8 430.18 L217.3 429.37 L217.8 429.32 L218.3 430.17 L218.8 429.09 L219.3 428.42 L219.8 428.25 L220.3 429.02 L220.8 429.06 L221.3 428.7 L221.8 427.71 L222.3 426.77 L222.8 426.65 L223.3 428.43 L223.8 425.66 L224.3 426.91 L224.8 425.96 L225.3 426.88 L225.8 427.41 L226.3 427.75 L226.8 426.59 L227.3 428 L227.8 428.92 L228.3 428.23 L228.8 428.91 L229.3 429.35 L229.8 429.27 L230.3 429.52 L230.8 428.79 L231.3 429.5 L231.8 430.02 L232.3 430.26 L232.8 430.25 L233.3 430.94 L233.8 430.96 L234.3 431.13 L234.8 431.28 L235.3 431.64 L235.8 431.8 L236.3 431.8 L236.8 431.8 L237.3 431.8 L237.8 431.8 L238.3 431.8 L238.8 431.8 L239.3 431.8 L239.8 431.8 L240.3 431.8 L240.8 431.8 L241.3 431.8 L241.8 431.8 L242.3 431.8 L242.8 431.8 L243.3 431.8 L243.8 431.8 L244.3 431.8 L244.8 431.8 L245.3 431.8 L245.8 431.8 L246.3 431.8 L246.8 431.8 L247.3 431.8 L247.8 431.8 L248.3 431.8 L248.8 431.8 L249.3 431.8 L249.8 431.8 L250.3 431.8 L250.8 431.8 L251.3 431.8 L251.8 431.8 L252.3 431.8 L252.8 431.8 L253.3 431.8 L253.8 431.8 L254.3 431.8 L254.8 431.8 L255.3 431.8 L255.8 431.8 L256.3 431.8 L256.8 431.8 L257.3 431.8 L257.8 431.8 L258.3 431.8 L258.8 431.8 L258.8 431.8 L212.3 431.8 Z" fill="#d0d0d0" stroke="#888" stroke-width="0.85" stroke-linejoin="round"/>
<path d="M212.3 430.79 L212.8 430.37 L213.3 431.03 L213.8 431.59 L214.3 430.72 L214.8 429.98 L215.3 429.97 L215.8 429.56 L216.3 427.33 L216.8 428.22 L217.3 425.42 L217.8 426.01 L218.3 424.09 L218.8 422.17 L219.3 422.01 L219.8 420.92 L220.3 420.71 L220.8 419.91 L221.3 419.97 L221.8 417.97 L222.3 416.31 L222.8 419.26 L223.3 414.97 L223.8 416.95 L224.3 415.43 L224.8 420.22 L225.3 419.48 L225.8 422.3 L226.3 423.91 L226.8 423.69 L227.3 425.49 L227.8 424.3 L228.3 425.66 L228.8 425.92 L229.3 427.23 L229.8 428.49 L230.3 429.45 L230.8 428.5 L231.3 430.13 L231.8 429.71 L232.3 430.95 L232.8 430.15 L233.3 430.89 L233.8 430.25 L234.3 431.5 L234.8 431.06 L235.3 431.64 L235.8 431.8 L236.3 431.8 L236.8 431.8 L237.3 431.8 L237.8 431.8 L238.3 431.8 L238.8 431.8 L239.3 431.8 L239.8 431.8 L240.3 431.8 L240.8 431.8 L241.3 431.8 L241.8 431.8 L242.3 431.8 L242.8 431.8 L243.3 431.8 L243.8 431.8 L244.3 431.8 L244.8 431.8 L245.3 431.8 L245.8 431.8 L246.3 431.8 L246.8 431.8 L247.3 431.8 L247.8 431.8 L248.3 431.8 L248.8 431.8 L249.3 431.8 L249.8 431.8 L250.3 431.8 L250.8 431.8 L251.3 431.8 L251.8 431.8 L252.3 431.8 L252.8 431.8 L253.3 431.8 L253.8 431.8 L254.3 431.8 L254.8 431.8 L255.3 431.8 L255.8 431.8 L256.3 431.8 L256.8 431.8 L257.3 431.8 L257.8 431.8 L258.3 431.8 L258.8 431.8" fill="none" stroke="#8a8a8a" stroke-width="0.9" stroke-linejoin="round"/>
<path d="M212.3 430.8 L212.75 430.87 L213.2 430.38 L213.65 431.22 L214.1 430.43 L214.55 430.42 L215 429.39 L215.45 427.98 L215.9 430.12 L216.35 428.62 L216.8 429.74 L217.25 427.53 L217.7 427.72 L218.15 427.45 L218.6 426.49 L219.05 426.78 L219.5 426.91 L219.95 423.21 L220.4 425.37 L220.85 420.42 L221.3 421.68 L221.75 423.45 L222.2 423.36 L222.65 421.01 L223.1 423.51 L223.55 426.09 L224 425.06 L224.45 423.9 L224.9 419.27 L225.35 421.73 L225.8 419.8 L226.25 417.95 L226.7 419.02 L227.15 421.3 L227.6 418.88 L228.05 420.47 L228.5 420.22 L228.95 422.82 L229.4 423.53 L229.85 420.15 L230.3 419.66 L230.75 423.33 L231.2 420.34 L231.65 427.78 L232.1 427 L232.55 428.24 L233 429.11 L233.45 429.04 L233.9 428.56 L234.35 429.74 L234.8 429.13 L235.25 427.67 L235.7 429.73 L236.15 430.65 L236.6 430.99 L237.05 430.93 L237.5 430.46 L237.95 430.36 L238.4 430.11 L238.85 430.31 L239.3 430.83 L239.75 430.94 L240.2 430.67 L240.65 431.47 L241.1 430.84 L241.55 431.43 L242 431.01 L242.45 430.22 L242.9 430.6 L243.35 431.47 L243.8 430.66 L244.25 431.52 L244.7 431.03 L245.15 430.82 L245.6 431.23 L246.05 430.27 L246.5 430.48 L246.95 431.04 L247.4 430.58 L247.85 431.8 L248.3 430.63 L248.75 431.37 L249.2 431.18 L249.65 431.55 L250.1 431.8 L250.55 431.79 L251 431.13 L251.45 431.38 L251.9 431.06 L252.35 430.73 L252.8 431.8 L253.25 431.57 L253.7 431.35 L254.15 430.91 L254.6 430.81 L255.05 431.55 L255.5 430.93 L255.95 431.8 L256.4 431.8 L256.85 430.76 L257.3 431.44 L257.75 431.17 L258.2 431.68 L258.65 431.67 L259.1 431.68" fill="none" stroke="#000" stroke-width="1.2" stroke-linejoin="round"/>
<rect x="212.3" y="385.6" width="46.8" height="46.2" fill="none" stroke="#111" stroke-width="1.3"/>
<line x1="212.3" y1="385.6" x2="212.3" y2="431.8" stroke="#000" stroke-width="1.8"/>
<line x1="212.3" y1="431.8" x2="259.1" y2="431.8" stroke="#000" stroke-width="1.6"/>
<path d="M210.4 430.65H212.3M210.4 429.49H212.3M210.4 428.34H212.3M210.4 427.18H212.3M210.4 426.03H212.3M210.4 424.87H212.3M210.4 423.72H212.3M210.4 422.56H212.3M210.4 421.41H212.3M209.9 420.25H212.3M210.4 419.1H212.3M210.4 417.94H212.3M210.4 416.79H212.3M210.4 415.63H212.3M210.4 414.48H212.3M210.4 413.32H212.3M210.4 412.17H212.3M210.4 411.01H212.3M210.4 409.86H212.3M209.9 408.7H212.3M210.4 407.55H212.3M210.4 406.39H212.3M210.4 405.24H212.3M210.4 404.08H212.3M210.4 402.93H212.3M210.4 401.77H212.3M210.4 400.62H212.3M210.4 399.46H212.3M210.4 398.31H212.3M209.9 397.15H212.3M210.4 396H212.3M210.4 394.84H212.3M210.4 393.69H212.3M210.4 392.53H212.3M210.4 391.38H212.3M210.4 390.22H212.3M210.4 389.06H212.3M210.4 387.91H212.3M210.4 386.75H212.3" stroke="#111" stroke-width="0.75" fill="none"/>
<path d="M212.3 431.8V434.2M213.47 431.8V433.7M214.64 431.8V433.7M215.81 431.8V433.7M216.98 431.8V433.7M218.15 431.8V433.7M219.32 431.8V433.7M220.49 431.8V433.7M221.66 431.8V433.7M222.83 431.8V433.7M224 431.8V434.2M225.17 431.8V433.7M226.34 431.8V433.7M227.51 431.8V433.7M228.68 431.8V433.7M229.85 431.8V433.7M231.02 431.8V433.7M232.19 431.8V433.7M233.36 431.8V433.7M234.53 431.8V433.7M235.7 431.8V434.2M236.87 431.8V433.7M238.04 431.8V433.7M239.21 431.8V433.7M240.38 431.8V433.7M241.55 431.8V433.7M242.72 431.8V433.7M243.89 431.8V433.7M245.06 431.8V433.7M246.23 431.8V433.7M247.4 431.8V434.2M248.57 431.8V433.7M249.74 431.8V433.7M250.91 431.8V433.7M252.08 431.8V433.7M253.25 431.8V433.7M254.42 431.8V433.7M255.59 431.8V433.7M256.76 431.8V433.7M257.93 431.8V433.7M259.1 431.8V434.2" stroke="#111" stroke-width="0.75" fill="none"/>
<text x="58.0" y="331.3" font-size="10.6" font-weight="normal" stroke="#000" stroke-width="0.42" textLength="37.0" lengthAdjust="spacingAndGlyphs">ICAM-1</text>
<text x="110.2" y="331.3" font-size="10.6" font-weight="normal" stroke="#000" stroke-width="0.42" textLength="37.6" lengthAdjust="spacingAndGlyphs">ICAM-2</text>
<text x="161.2" y="331.3" font-size="10.6" font-weight="normal" stroke="#000" stroke-width="0.42" textLength="39.6" lengthAdjust="spacingAndGlyphs">VCAM-1</text>
<text x="206.2" y="331.3" font-size="10.6" font-weight="normal" stroke="#000" stroke-width="0.42" textLength="63.8" lengthAdjust="spacingAndGlyphs">VE-Cadherin</text>
<text x="0.0" y="361.2" font-size="10.9" font-weight="normal" stroke="#000" stroke-width="0.42" textLength="48.8" lengthAdjust="spacingAndGlyphs">Untreated</text>
<text x="12.8" y="408.1" font-size="10.9" font-weight="normal" stroke="#000" stroke-width="0.42" textLength="35.6" lengthAdjust="spacingAndGlyphs">TNF-α-</text>
<text x="13.2" y="421.4" font-size="10.9" font-weight="normal" stroke="#000" stroke-width="0.42" textLength="34.4" lengthAdjust="spacingAndGlyphs">treated</text>
<path d="M383.3 285.5 L383.9 285.32 L384.5 282.89 L385.1 281.21 L385.7 280.5 L386.3 278.71 L386.9 276.34 L387.5 274.93 L388.1 274.37 L388.7 271.18 L389.3 269.79 L389.9 269.38 L390.5 267.94 L391.1 267.11 L391.7 265.55 L392.3 265.08 L392.9 263.09 L393.5 263.38 L394.1 260.11 L394.7 260.79 L395.3 259.76 L395.9 258.14 L396.5 255.45 L397.1 255.86 L397.7 256.71 L398.3 255.98 L398.9 255.49 L399.5 253.46 L400.1 255.8 L400.7 254.3 L401.3 256.87 L401.9 256.18 L402.5 254.18 L403.1 257.31 L403.7 260.67 L404.3 262.5 L404.9 262.01 L405.5 263.97 L406.1 266.51 L406.7 268.04 L407.3 271.04 L407.9 272.47 L408.5 273.53 L409.1 275.78 L409.7 276.04 L410.3 278.9 L410.9 279.68 L411.5 280.88 L412.1 280.88 L412.7 281.74 L413.3 283.05 L413.9 283.95 L414.5 285.33 L415.1 285.87 L415.7 286.49 L416.3 286.9 L416.9 287.8 L417.5 287.8 L418.1 287.8 L418.7 287.8 L419.3 287.8 L419.9 287.8 L420.5 287.8 L421.1 287.8 L421.7 287.8 L422.3 287.8 L422.9 287.8 L423.5 287.8 L424.1 287.8 L424.7 287.8 L425.3 287.8 L425.9 287.8 L426.5 287.8 L427.1 287.8 L427.7 287.8 L428.3 287.8 L428.9 287.8 L429.5 287.8 L430.1 287.8 L430.7 287.8 L431.3 287.8 L431.9 287.8 L432.5 287.8 L433.1 287.8 L433.7 287.8 L434.3 287.8 L434.9 287.8 L435.5 287.8 L436.1 287.8 L436.7 287.8 L437.3 287.8 L437.9 287.8 L438.5 287.8 L439.1 287.8 L439.7 287.8 L440.3 287.8 L440.9 287.8 L441.5 287.8 L442.1 287.8 L442.7 287.8 L443.3 287.8 L443.9 287.8 L444.5 287.8 L445.1 287.8 L445.7 287.8 L446.3 287.8 L446.9 287.8" fill="none" stroke="#666" stroke-width="1.5" stroke-linejoin="round" stroke-dasharray="1.6 0.8"/>
<path d="M383.3 287.8 L383.75 287.8 L384.2 287.8 L384.65 287.8 L385.1 287.8 L385.55 287.8 L386 287.8 L386.45 287.8 L386.9 287.8 L387.35 287.8 L387.8 287.8 L388.25 287.8 L388.7 287.8 L389.15 287.8 L389.6 287.8 L390.05 287.8 L390.5 287.8 L390.95 287.8 L391.4 287.69 L391.85 287.58 L392.3 287.58 L392.75 287.79 L393.2 287.03 L393.65 286.51 L394.1 287.33 L394.55 286.8 L395 286.84 L395.45 287.04 L395.9 286.49 L396.35 286.15 L396.8 286.03 L397.25 285.61 L397.7 285.75 L398.15 284.81 L398.6 284.75 L399.05 284.92 L399.5 284.44 L399.95 284.59 L400.4 284.18 L400.85 284.24 L401.3 283.14 L401.75 284.04 L402.2 282.06 L402.65 281.88 L403.1 281.97 L403.55 281.31 L404 280.35 L404.45 280.12 L404.9 279.01 L405.35 278.53 L405.8 277.57 L406.25 277.46 L406.7 276.24 L407.15 275.56 L407.6 274.68 L408.05 274.56 L408.5 273.89 L408.95 273.92 L409.4 272.07 L409.85 271.41 L410.3 270.21 L410.75 270.56 L411.2 267.32 L411.65 267.75 L412.1 268.92 L412.55 267.94 L413 267.36 L413.45 266.53 L413.9 265.67 L414.35 265.79 L414.8 266.56 L415.25 265.28 L415.7 266.57 L416.15 267.09 L416.6 267.81 L417.05 265.59 L417.5 265.19 L417.95 266.91 L418.4 264.94 L418.85 265.48 L419.3 264.37 L419.75 266.28 L420.2 264.79 L420.65 266.19 L421.1 265.65 L421.55 264.83 L422 268.44 L422.45 265.15 L422.9 266.48 L423.35 266.95 L423.8 265.72 L424.25 267.5 L424.7 268.47 L425.15 268.53 L425.6 270.25 L426.05 268.8 L426.5 271.62 L426.95 271.08 L427.4 272.18 L427.85 273.35 L428.3 273.52 L428.75 275.65 L429.2 275.22 L429.65 276.39 L430.1 277.1 L430.55 277.17 L431 278.85 L431.45 279.97 L431.9 280.8 L432.35 281.73 L432.8 282.51 L433.25 282.63 L433.7 283.2 L434.15 283.84 L434.6 284.05 L435.05 284.34 L435.5 284.22 L435.95 284.58 L436.4 285.45 L436.85 285.6 L437.3 285.85 L437.75 286.14 L438.2 286.38 L438.65 286.52 L439.1 286.49 L439.55 286.8 L440 286.94 L440.45 286.88 L440.9 286.79 L441.35 286.8 L441.8 287.51 L442.25 287.78 L442.7 287.13 L443.15 287.55 L443.6 287.63 L444.05 287.7 L444.5 287.78 L444.95 287.8 L445.4 287.8 L445.85 287.8 L446.3 287.8 L446.75 287.8 L447.2 287.8" fill="none" stroke="#000" stroke-width="1.4" stroke-linejoin="round"/>
<rect x="383.3" y="224.4" width="63.9" height="63.4" fill="none" stroke="#111" stroke-width="1.3"/>
<line x1="383.3" y1="224.4" x2="383.3" y2="287.8" stroke="#000" stroke-width="1.8"/>
<line x1="383.3" y1="287.8" x2="447.2" y2="287.8" stroke="#000" stroke-width="1.6"/>
<path d="M381.4 286.22H383.3M381.4 284.63H383.3M381.4 283.05H383.3M381.4 281.46H383.3M381.4 279.88H383.3M381.4 278.29H383.3M381.4 276.7H383.3M381.4 275.12H383.3M381.4 273.54H383.3M380.9 271.95H383.3M381.4 270.37H383.3M381.4 268.78H383.3M381.4 267.19H383.3M381.4 265.61H383.3M381.4 264.03H383.3M381.4 262.44H383.3M381.4 260.86H383.3M381.4 259.27H383.3M381.4 257.69H383.3M380.9 256.1H383.3M381.4 254.52H383.3M381.4 252.93H383.3M381.4 251.35H383.3M381.4 249.76H383.3M381.4 248.18H383.3M381.4 246.59H383.3M381.4 245H383.3M381.4 243.42H383.3M381.4 241.84H383.3M380.9 240.25H383.3M381.4 238.67H383.3M381.4 237.08H383.3M381.4 235.5H383.3M381.4 233.91H383.3M381.4 232.33H383.3M381.4 230.74H383.3M381.4 229.16H383.3M381.4 227.57H383.3M381.4 225.99H383.3" stroke="#111" stroke-width="0.75" fill="none"/>
<path d="M383.3 287.8V290.2M384.9 287.8V289.7M386.5 287.8V289.7M388.09 287.8V289.7M389.69 287.8V289.7M391.29 287.8V289.7M392.88 287.8V289.7M394.48 287.8V289.7M396.08 287.8V289.7M397.68 287.8V289.7M399.27 287.8V290.2M400.87 287.8V289.7M402.47 287.8V289.7M404.07 287.8V289.7M405.67 287.8V289.7M407.26 287.8V289.7M408.86 287.8V289.7M410.46 287.8V289.7M412.06 287.8V289.7M413.65 287.8V289.7M415.25 287.8V290.2M416.85 287.8V289.7M418.44 287.8V289.7M420.04 287.8V289.7M421.64 287.8V289.7M423.24 287.8V289.7M424.83 287.8V289.7M426.43 287.8V289.7M428.03 287.8V289.7M429.63 287.8V289.7M431.23 287.8V290.2M432.82 287.8V289.7M434.42 287.8V289.7M436.02 287.8V289.7M437.62 287.8V289.7M439.21 287.8V289.7M440.81 287.8V289.7M442.41 287.8V289.7M444 287.8V289.7M445.6 287.8V289.7M447.2 287.8V290.2" stroke="#111" stroke-width="0.75" fill="none"/>
<text x="393.0" y="240.6" font-size="8.6" font-weight="normal" stroke="#000" stroke-width="0.55" textLength="38.2" lengthAdjust="spacingAndGlyphs">+MEL-14</text>
<text x="409.0" y="252.0" font-size="8.6" font-weight="normal" stroke="#000" stroke-width="0.55" textLength="35.0" lengthAdjust="spacingAndGlyphs">+Isotype</text>
<line x1="400.6" y1="246.8" x2="400.9" y2="253.4" stroke="#6a6a6a" stroke-width="1.4"/>
<line x1="408.2" y1="242.6" x2="403.3" y2="253.6" stroke="#000" stroke-width="1.0"/>
<line x1="430.0" y1="254.6" x2="423.8" y2="266.8" stroke="#000" stroke-width="1.0"/>
<line x1="381.9" y1="296" x2="437.9" y2="296" stroke="#000" stroke-width="1.5"/><path d="M436.9 293 L448.4 296 L436.9 299 Z" fill="#000"/>
<text x="360.2" y="308.0" font-size="10.9" font-weight="normal" stroke="#000" stroke-width="0.42" textLength="108.8" lengthAdjust="spacingAndGlyphs">L-selectin-IgG binding</text>
<path d="M382.2 400.92 L382.8 398.44 L383.4 394.49 L384 391.1 L384.6 387.14 L385.2 383.18 L385.8 376.96 L386.4 375.88 L387 374.73 L387.6 375.9 L388.2 376.5 L388.8 375.75 L389.4 375.11 L390 373.58 L390.6 378.09 L391.2 380.42 L391.8 381.5 L392.4 382.94 L393 384.93 L393.6 385.33 L394.2 388.75 L394.8 389.94 L395.4 390.45 L396 393.46 L396.6 394.39 L397.2 395.86 L397.8 395.72 L398.4 398.2 L399 397.71 L399.6 398.63 L400.2 399.32 L400.8 400.28 L401.4 401.52 L402 401.73 L402.6 402.35 L403.2 402.55 L403.8 403.47 L404.4 403.22 L405 403.95 L405.6 404.49 L406.2 404.5 L406.8 404.5 L407.4 404.5 L408 404.5 L408.6 404.5 L409.2 404.5 L409.8 404.5 L410.4 404.5 L411 404.5 L411.6 404.5 L412.2 404.5 L412.8 404.5 L413.4 404.5 L414 404.5 L414.6 404.5 L415.2 404.5 L415.8 404.5 L416.4 404.5 L417 404.5 L417.6 404.5 L418.2 404.5 L418.8 404.5 L419.4 404.5 L420 404.5 L420.6 404.5 L421.2 404.5 L421.8 404.5 L422.4 404.5 L423 404.5 L423.6 404.5 L424.2 404.5 L424.8 404.5 L425.4 404.5 L426 404.5 L426.6 404.5 L427.2 404.5 L427.8 404.5 L428.4 404.5 L429 404.5 L429.6 404.5 L430.2 404.5 L430.8 404.5 L431.4 404.5 L432 404.5 L432.6 404.5 L433.2 404.5 L433.8 404.5 L434.4 404.5 L435 404.5 L435.6 404.5 L436.2 404.5 L436.8 404.5 L437.4 404.5 L438 404.5 L438.6 404.5 L439.2 404.5 L439.8 404.5 L440.4 404.5 L441 404.5 L441.6 404.5 L442.2 404.5 L442.8 404.5 L443.4 404.5 L444 404.5 L444.6 404.5 L445.2 404.5 L445.2 404.5 L382.2 404.5 Z" fill="#d3d3d3" stroke="#707070" stroke-width="0.85" stroke-linejoin="round"/>
<path d="M382.2 399.39 L382.65 398.14 L383.1 396.54 L383.55 396.68 L384 393.18 L384.45 394.7 L384.9 392.81 L385.35 388.77 L385.8 387.75 L386.25 387.57 L386.7 386.54 L387.15 384.99 L387.6 384.47 L388.05 380.15 L388.5 378.7 L388.95 379.43 L389.4 377.66 L389.85 375.79 L390.3 380.31 L390.75 373.9 L391.2 373.28 L391.65 372.41 L392.1 371.69 L392.55 372.86 L393 371.07 L393.45 371.84 L393.9 372.49 L394.35 365.58 L394.8 367.69 L395.25 365.98 L395.7 364.51 L396.15 364.91 L396.6 369.24 L397.05 369.72 L397.5 369.78 L397.95 376.36 L398.4 375.73 L398.85 376.01 L399.3 377.62 L399.75 379.72 L400.2 380.41 L400.65 383.82 L401.1 383.3 L401.55 384.29 L402 382.92 L402.45 388.84 L402.9 388.37 L403.35 390.88 L403.8 391.2 L404.25 391.55 L404.7 391.48 L405.15 393.95 L405.6 394.81 L406.05 396.19 L406.5 395.1 L406.95 396.94 L407.4 396.77 L407.85 396 L408.3 397.29 L408.75 398.52 L409.2 398.1 L409.65 397.26 L410.1 399.02 L410.55 399.14 L411 400.24 L411.45 400.25 L411.9 400.13 L412.35 400.58 L412.8 402.11 L413.25 400.61 L413.7 401.99 L414.15 401.3 L414.6 401.96 L415.05 402.69 L415.5 401.98 L415.95 401.11 L416.4 402.44 L416.85 400.95 L417.3 402.31 L417.75 401.94 L418.2 403.5 L418.65 402.29 L419.1 401.98 L419.55 403.49 L420 402.97 L420.45 403.68 L420.9 401.79 L421.35 403.84 L421.8 402.31 L422.25 401.85 L422.7 404.5 L423.15 402.57 L423.6 404.5 L424.05 403.7 L424.5 402.93 L424.95 401.79 L425.4 402.82 L425.85 402.87 L426.3 403.05 L426.75 402.77 L427.2 402.88 L427.65 403.75 L428.1 403.55 L428.55 402.34 L429 403.2 L429.45 403.31 L429.9 403.16 L430.35 404.02 L430.8 403.7 L431.25 403.15 L431.7 403.56 L432.15 403 L432.6 402.61 L433.05 404.5 L433.5 402.71 L433.95 404.11 L434.4 403.26 L434.85 404.12 L435.3 404.16 L435.75 403.22 L436.2 404.5 L436.65 403.51 L437.1 404.47 L437.55 403.35 L438 404.01 L438.45 404.15 L438.9 403.42 L439.35 404.5 L439.8 404 L440.25 402.52 L440.7 404.5 L441.15 404.4 L441.6 403.83 L442.05 404.41 L442.5 404.5 L442.95 404.11 L443.4 404.5 L443.85 403.52 L444.3 404.5 L444.75 404.5 L445.2 404.13" fill="none" stroke="#000" stroke-width="1.4" stroke-linejoin="round"/>
<rect x="382.2" y="341.6" width="63.3" height="62.9" fill="none" stroke="#111" stroke-width="1.3"/>
<line x1="382.2" y1="341.6" x2="382.2" y2="404.5" stroke="#000" stroke-width="1.8"/>
<line x1="382.2" y1="404.5" x2="445.5" y2="404.5" stroke="#000" stroke-width="1.6"/>
<path d="M380.3 402.93H382.2M380.3 401.36H382.2M380.3 399.78H382.2M380.3 398.21H382.2M380.3 396.64H382.2M380.3 395.06H382.2M380.3 393.49H382.2M380.3 391.92H382.2M380.3 390.35H382.2M379.8 388.77H382.2M380.3 387.2H382.2M380.3 385.63H382.2M380.3 384.06H382.2M380.3 382.49H382.2M380.3 380.91H382.2M380.3 379.34H382.2M380.3 377.77H382.2M380.3 376.19H382.2M380.3 374.62H382.2M379.8 373.05H382.2M380.3 371.48H382.2M380.3 369.91H382.2M380.3 368.33H382.2M380.3 366.76H382.2M380.3 365.19H382.2M380.3 363.62H382.2M380.3 362.04H382.2M380.3 360.47H382.2M380.3 358.9H382.2M379.8 357.33H382.2M380.3 355.75H382.2M380.3 354.18H382.2M380.3 352.61H382.2M380.3 351.04H382.2M380.3 349.46H382.2M380.3 347.89H382.2M380.3 346.32H382.2M380.3 344.75H382.2M380.3 343.17H382.2" stroke="#111" stroke-width="0.75" fill="none"/>
<path d="M382.2 404.5V406.9M383.78 404.5V406.4M385.37 404.5V406.4M386.95 404.5V406.4M388.53 404.5V406.4M390.11 404.5V406.4M391.69 404.5V406.4M393.28 404.5V406.4M394.86 404.5V406.4M396.44 404.5V406.4M398.02 404.5V406.9M399.61 404.5V406.4M401.19 404.5V406.4M402.77 404.5V406.4M404.36 404.5V406.4M405.94 404.5V406.4M407.52 404.5V406.4M409.1 404.5V406.4M410.69 404.5V406.4M412.27 404.5V406.4M413.85 404.5V406.9M415.43 404.5V406.4M417.01 404.5V406.4M418.6 404.5V406.4M420.18 404.5V406.4M421.76 404.5V406.4M423.34 404.5V406.4M424.93 404.5V406.4M426.51 404.5V406.4M428.09 404.5V406.4M429.68 404.5V406.9M431.26 404.5V406.4M432.84 404.5V406.4M434.42 404.5V406.4M436 404.5V406.4M437.59 404.5V406.4M439.17 404.5V406.4M440.75 404.5V406.4M442.33 404.5V406.4M443.92 404.5V406.4M445.5 404.5V406.9" stroke="#111" stroke-width="0.75" fill="none"/>
<path d="M382.2 467.88 L382.8 460.49 L383.4 456.5 L384 447.96 L384.6 446.35 L385.2 444.04 L385.8 443.61 L386.4 439.4 L387 439.61 L387.6 435.65 L388.2 437.61 L388.8 441.05 L389.4 443.66 L390 446.58 L390.6 447.22 L391.2 449.42 L391.8 451.68 L392.4 451.8 L393 454.25 L393.6 456.47 L394.2 457.7 L394.8 459.13 L395.4 460.73 L396 460.54 L396.6 463.25 L397.2 462.93 L397.8 464.21 L398.4 465.42 L399 467.04 L399.6 467.87 L400.2 469.71 L400.8 469.85 L401.4 470.44 L402 471.39 L402.6 472.25 L403.2 472.23 L403.8 473.29 L404.4 473.47 L405 473.9 L405.6 474.48 L406.2 474.5 L406.8 474.5 L407.4 474.5 L408 474.5 L408.6 474.5 L409.2 474.5 L409.8 474.5 L410.4 474.5 L411 474.5 L411.6 474.5 L412.2 474.5 L412.8 474.5 L413.4 474.5 L414 474.5 L414.6 474.5 L415.2 474.5 L415.8 474.5 L416.4 474.5 L417 474.5 L417.6 474.5 L418.2 474.5 L418.8 474.5 L419.4 474.5 L420 474.5 L420.6 474.5 L421.2 474.5 L421.8 474.5 L422.4 474.5 L423 474.5 L423.6 474.5 L424.2 474.5 L424.8 474.5 L425.4 474.5 L426 474.5 L426.6 474.5 L427.2 474.5 L427.8 474.5 L428.4 474.5 L429 474.5 L429.6 474.5 L430.2 474.5 L430.8 474.5 L431.4 474.5 L432 474.5 L432.6 474.5 L433.2 474.5 L433.8 474.5 L434.4 474.5 L435 474.5 L435.6 474.5 L436.2 474.5 L436.8 474.5 L437.4 474.5 L438 474.5 L438.6 474.5 L439.2 474.5 L439.8 474.5 L440.4 474.5 L441 474.5 L441.6 474.5 L442.2 474.5 L442.8 474.5 L443.4 474.5 L444 474.5 L444.6 474.5 L445.2 474.5 L445.2 474.5 L382.2 474.5 Z" fill="#d3d3d3" stroke="#707070" stroke-width="0.85" stroke-linejoin="round"/>
<path d="M382.2 473.86 L382.65 472.59 L383.1 471.33 L383.55 471.1 L384 470.38 L384.45 467.91 L384.9 466.08 L385.35 464.94 L385.8 462.09 L386.25 460.06 L386.7 459.78 L387.15 459.66 L387.6 458.39 L388.05 458.1 L388.5 459.12 L388.95 454.48 L389.4 456.4 L389.85 455.04 L390.3 456.79 L390.75 455.72 L391.2 456.39 L391.65 453.79 L392.1 452.5 L392.55 452.27 L393 452.92 L393.45 451.38 L393.9 451.69 L394.35 450.95 L394.8 452.29 L395.25 451.45 L395.7 447.32 L396.15 445.15 L396.6 444.94 L397.05 447.19 L397.5 449.89 L397.95 450.07 L398.4 450.22 L398.85 449.99 L399.3 452.22 L399.75 450.25 L400.2 453.99 L400.65 455.05 L401.1 456.63 L401.55 458.42 L402 456.26 L402.45 457.9 L402.9 458.99 L403.35 461.01 L403.8 458.31 L404.25 461.26 L404.7 461.17 L405.15 460.38 L405.6 462.31 L406.05 465.16 L406.5 463.09 L406.95 464.95 L407.4 464.11 L407.85 466.88 L408.3 465.52 L408.75 466.81 L409.2 465.66 L409.65 468.29 L410.1 468.08 L410.55 467.49 L411 468.19 L411.45 468.52 L411.9 469.57 L412.35 468.19 L412.8 469.36 L413.25 470.81 L413.7 471.59 L414.15 471.41 L414.6 470.84 L415.05 471.23 L415.5 471.17 L415.95 471.6 L416.4 471.52 L416.85 472.79 L417.3 472.49 L417.75 472.91 L418.2 473.06 L418.65 472.41 L419.1 472.64 L419.55 472.2 L420 473.26 L420.45 472.98 L420.9 473.22 L421.35 472.88 L421.8 473.96 L422.25 473.8 L422.7 474.36 L423.15 474.5 L423.6 473.63 L424.05 472.44 L424.5 474.16 L424.95 473.58 L425.4 474.12 L425.85 473.26 L426.3 474.26 L426.75 473.66 L427.2 474.22 L427.65 474.23 L428.1 473.5 L428.55 474.33 L429 474.09 L429.45 474.42 L429.9 474.5 L430.35 473.23 L430.8 473.58 L431.25 474.5 L431.7 473.91 L432.15 474.15 L432.6 473.37 L433.05 474.5 L433.5 474.5 L433.95 473.6 L434.4 473.82 L434.85 474.11 L435.3 474.41 L435.75 474.5 L436.2 474.5 L436.65 473.83 L437.1 474.5 L437.55 474.48 L438 474.5 L438.45 474.04 L438.9 473.94 L439.35 473.27 L439.8 474.44 L440.25 474.5 L440.7 473.4 L441.15 474.17 L441.6 473.02 L442.05 473.57 L442.5 472.73 L442.95 474.14 L443.4 474.21 L443.85 474.09 L444.3 474.07 L444.75 474.5 L445.2 473.33" fill="none" stroke="#000" stroke-width="1.4" stroke-linejoin="round"/>
<rect x="382.2" y="411.6" width="63.3" height="62.9" fill="none" stroke="#111" stroke-width="1.3"/>
<line x1="382.2" y1="411.6" x2="382.2" y2="474.5" stroke="#000" stroke-width="1.8"/>
<line x1="382.2" y1="474.5" x2="445.5" y2="474.5" stroke="#000" stroke-width="1.6"/>
<path d="M380.3 472.93H382.2M380.3 471.36H382.2M380.3 469.78H382.2M380.3 468.21H382.2M380.3 466.64H382.2M380.3 465.06H382.2M380.3 463.49H382.2M380.3 461.92H382.2M380.3 460.35H382.2M379.8 458.77H382.2M380.3 457.2H382.2M380.3 455.63H382.2M380.3 454.06H382.2M380.3 452.49H382.2M380.3 450.91H382.2M380.3 449.34H382.2M380.3 447.77H382.2M380.3 446.19H382.2M380.3 444.62H382.2M379.8 443.05H382.2M380.3 441.48H382.2M380.3 439.91H382.2M380.3 438.33H382.2M380.3 436.76H382.2M380.3 435.19H382.2M380.3 433.62H382.2M380.3 432.04H382.2M380.3 430.47H382.2M380.3 428.9H382.2M379.8 427.33H382.2M380.3 425.75H382.2M380.3 424.18H382.2M380.3 422.61H382.2M380.3 421.04H382.2M380.3 419.46H382.2M380.3 417.89H382.2M380.3 416.32H382.2M380.3 414.75H382.2M380.3 413.17H382.2" stroke="#111" stroke-width="0.75" fill="none"/>
<path d="M382.2 474.5V476.9M383.78 474.5V476.4M385.37 474.5V476.4M386.95 474.5V476.4M388.53 474.5V476.4M390.11 474.5V476.4M391.69 474.5V476.4M393.28 474.5V476.4M394.86 474.5V476.4M396.44 474.5V476.4M398.02 474.5V476.9M399.61 474.5V476.4M401.19 474.5V476.4M402.77 474.5V476.4M404.36 474.5V476.4M405.94 474.5V476.4M407.52 474.5V476.4M409.1 474.5V476.4M410.69 474.5V476.4M412.27 474.5V476.4M413.85 474.5V476.9M415.43 474.5V476.4M417.01 474.5V476.4M418.6 474.5V476.4M420.18 474.5V476.4M421.76 474.5V476.4M423.34 474.5V476.4M424.93 474.5V476.4M426.51 474.5V476.4M428.09 474.5V476.4M429.68 474.5V476.9M431.26 474.5V476.4M432.84 474.5V476.4M434.42 474.5V476.4M436 474.5V476.4M437.59 474.5V476.4M439.17 474.5V476.4M440.75 474.5V476.4M442.33 474.5V476.4M443.92 474.5V476.4M445.5 474.5V476.9" stroke="#111" stroke-width="0.75" fill="none"/>
<path d="M452.9 404.5 L453.5 404.5 L454.1 404.5 L454.7 404.5 L455.3 404.5 L455.9 404.5 L456.5 404.5 L457.1 403.82 L457.7 403.52 L458.3 402.79 L458.9 402.77 L459.5 402.03 L460.1 401.33 L460.7 400.91 L461.3 400.46 L461.9 399.4 L462.5 397.99 L463.1 397.24 L463.7 395.71 L464.3 394.6 L464.9 392.98 L465.5 391.93 L466.1 390.58 L466.7 389.13 L467.3 388.16 L467.9 385.72 L468.5 382.12 L469.1 380.26 L469.7 377.47 L470.3 376.91 L470.9 375.06 L471.5 374.73 L472.1 377.51 L472.7 380.6 L473.3 382.89 L473.9 385.92 L474.5 387.31 L475.1 389.05 L475.7 391.98 L476.3 392.82 L476.9 393.96 L477.5 396.21 L478.1 396.56 L478.7 397.56 L479.3 398.53 L479.9 398.59 L480.5 399.79 L481.1 401.49 L481.7 401.93 L482.3 402.22 L482.9 403.15 L483.5 402.85 L484.1 403.15 L484.7 404.41 L485.3 404.3 L485.9 404.5 L486.5 404.5 L487.1 404.5 L487.7 404.5 L488.3 404.5 L488.9 404.5 L489.5 404.5 L490.1 404.5 L490.7 404.5 L491.3 404.5 L491.9 404.5 L492.5 404.5 L493.1 404.5 L493.7 404.5 L494.3 404.5 L494.9 404.5 L495.5 404.5 L496.1 404.5 L496.7 404.5 L497.3 404.5 L497.9 404.5 L498.5 404.5 L499.1 404.5 L499.7 404.5 L500.3 404.5 L500.9 404.5 L501.5 404.5 L502.1 404.5 L502.7 404.5 L503.3 404.5 L503.9 404.5 L504.5 404.5 L505.1 404.5 L505.7 404.5 L506.3 404.5 L506.9 404.5 L507.5 404.5 L508.1 404.5 L508.7 404.5 L509.3 404.5 L509.9 404.5 L510.5 404.5 L511.1 404.5 L511.7 404.5 L512.3 404.5 L512.9 404.5 L513.5 404.5 L514.1 404.5 L514.7 404.5 L515.3 404.5 L515.9 404.5 L515.9 404.5 L452.9 404.5 Z" fill="#d3d3d3" stroke="#707070" stroke-width="0.85" stroke-linejoin="round"/>
<path d="M452.9 404.21 L453.35 404.06 L453.8 403.63 L454.25 402.61 L454.7 403.25 L455.15 403.17 L455.6 403.81 L456.05 402.83 L456.5 402.54 L456.95 402.17 L457.4 403.1 L457.85 403.03 L458.3 401.09 L458.75 402.09 L459.2 400.16 L459.65 401.83 L460.1 401.45 L460.55 399.21 L461 399.49 L461.45 399.26 L461.9 398.84 L462.35 399.67 L462.8 397.11 L463.25 396.33 L463.7 396.47 L464.15 394.15 L464.6 393.48 L465.05 393.33 L465.5 391.27 L465.95 386.56 L466.4 387.37 L466.85 387.97 L467.3 384.36 L467.75 378.94 L468.2 375.81 L468.65 375.36 L469.1 375.14 L469.55 372.28 L470 370.32 L470.45 378.94 L470.9 375.66 L471.35 372.59 L471.8 372.89 L472.25 373.41 L472.7 378.53 L473.15 377.97 L473.6 383.23 L474.05 384.46 L474.5 383.81 L474.95 384.67 L475.4 390.33 L475.85 388.54 L476.3 390.58 L476.75 387.95 L477.2 392.15 L477.65 390.45 L478.1 390.02 L478.55 393.11 L479 392.15 L479.45 393.68 L479.9 392.5 L480.35 395.6 L480.8 393.71 L481.25 395.67 L481.7 396.25 L482.15 395.93 L482.6 399.23 L483.05 398.9 L483.5 400.53 L483.95 399.69 L484.4 401.86 L484.85 401.41 L485.3 401.85 L485.75 402.68 L486.2 402.43 L486.65 401.55 L487.1 402.44 L487.55 402.81 L488 402.63 L488.45 402.46 L488.9 402.76 L489.35 403.26 L489.8 403.32 L490.25 403.05 L490.7 403.63 L491.15 403.25 L491.6 403.69 L492.05 403 L492.5 403.57 L492.95 403.31 L493.4 403.58 L493.85 403.33 L494.3 403.13 L494.75 402.97 L495.2 404.21 L495.65 403.6 L496.1 402.37 L496.55 402.8 L497 402.73 L497.45 404.4 L497.9 403.71 L498.35 402.61 L498.8 403.08 L499.25 403.93 L499.7 402.39 L500.15 403.36 L500.6 402.87 L501.05 403.59 L501.5 403.55 L501.95 402.94 L502.4 403.04 L502.85 402.04 L503.3 402.5 L503.75 402.3 L504.2 403.09 L504.65 403.77 L505.1 403.64 L505.55 402.4 L506 402.76 L506.45 401.43 L506.9 402.86 L507.35 402.36 L507.8 402.61 L508.25 403.23 L508.7 403.32 L509.15 402.63 L509.6 401.74 L510.05 403 L510.5 402.21 L510.95 402.73 L511.4 402.08 L511.85 402.98 L512.3 402.26 L512.75 403.31 L513.2 403.03 L513.65 403.03 L514.1 403.32 L514.55 404.39 L515 402.74 L515.45 403.65 L515.9 404.21" fill="none" stroke="#000" stroke-width="1.4" stroke-linejoin="round"/>
<rect x="452.9" y="341.6" width="63.3" height="62.9" fill="none" stroke="#111" stroke-width="1.3"/>
<line x1="452.9" y1="341.6" x2="452.9" y2="404.5" stroke="#000" stroke-width="1.8"/>
<line x1="452.9" y1="404.5" x2="516.2" y2="404.5" stroke="#000" stroke-width="1.6"/>
<path d="M451 402.93H452.9M451 401.36H452.9M451 399.78H452.9M451 398.21H452.9M451 396.64H452.9M451 395.06H452.9M451 393.49H452.9M451 391.92H452.9M451 390.35H452.9M450.5 388.77H452.9M451 387.2H452.9M451 385.63H452.9M451 384.06H452.9M451 382.49H452.9M451 380.91H452.9M451 379.34H452.9M451 377.77H452.9M451 376.19H452.9M451 374.62H452.9M450.5 373.05H452.9M451 371.48H452.9M451 369.91H452.9M451 368.33H452.9M451 366.76H452.9M451 365.19H452.9M451 363.62H452.9M451 362.04H452.9M451 360.47H452.9M451 358.9H452.9M450.5 357.33H452.9M451 355.75H452.9M451 354.18H452.9M451 352.61H452.9M451 351.04H452.9M451 349.46H452.9M451 347.89H452.9M451 346.32H452.9M451 344.75H452.9M451 343.17H452.9" stroke="#111" stroke-width="0.75" fill="none"/>
<path d="M452.9 404.5V406.9M454.48 404.5V406.4M456.06 404.5V406.4M457.65 404.5V406.4M459.23 404.5V406.4M460.81 404.5V406.4M462.39 404.5V406.4M463.98 404.5V406.4M465.56 404.5V406.4M467.14 404.5V406.4M468.72 404.5V406.9M470.31 404.5V406.4M471.89 404.5V406.4M473.47 404.5V406.4M475.05 404.5V406.4M476.64 404.5V406.4M478.22 404.5V406.4M479.8 404.5V406.4M481.38 404.5V406.4M482.97 404.5V406.4M484.55 404.5V406.9M486.13 404.5V406.4M487.71 404.5V406.4M489.3 404.5V406.4M490.88 404.5V406.4M492.46 404.5V406.4M494.04 404.5V406.4M495.63 404.5V406.4M497.21 404.5V406.4M498.79 404.5V406.4M500.37 404.5V406.9M501.96 404.5V406.4M503.54 404.5V406.4M505.12 404.5V406.4M506.7 404.5V406.4M508.29 404.5V406.4M509.87 404.5V406.4M511.45 404.5V406.4M513.03 404.5V406.4M514.62 404.5V406.4M516.2 404.5V406.9" stroke="#111" stroke-width="0.75" fill="none"/>
<path d="M452.9 474.5 L453.5 474.5 L454.1 474.5 L454.7 474.5 L455.3 474.5 L455.9 474.5 L456.5 474.5 L457.1 474.5 L457.7 474.5 L458.3 474.5 L458.9 474.5 L459.5 472.8 L460.1 472.46 L460.7 472.33 L461.3 470.41 L461.9 470.21 L462.5 468.39 L463.1 468.14 L463.7 466.58 L464.3 464.29 L464.9 462.75 L465.5 460.64 L466.1 458.43 L466.7 457.07 L467.3 453.12 L467.9 448.39 L468.5 444.85 L469.1 442.05 L469.7 442.49 L470.3 445.44 L470.9 447.97 L471.5 450.06 L472.1 449.92 L472.7 452.05 L473.3 454.23 L473.9 455.71 L474.5 458.18 L475.1 460.24 L475.7 461.94 L476.3 463.59 L476.9 466.11 L477.5 466.34 L478.1 467.95 L478.7 468.45 L479.3 468.32 L479.9 469.26 L480.5 470.55 L481.1 471.05 L481.7 470.87 L482.3 471.52 L482.9 472.6 L483.5 472.68 L484.1 473.2 L484.7 473.46 L485.3 473.88 L485.9 473.8 L486.5 474.44 L487.1 474.26 L487.7 474.49 L488.3 474.5 L488.9 474.5 L489.5 474.5 L490.1 474.5 L490.7 474.5 L491.3 474.5 L491.9 474.5 L492.5 474.5 L493.1 474.5 L493.7 474.5 L494.3 474.5 L494.9 474.5 L495.5 474.5 L496.1 474.5 L496.7 474.5 L497.3 474.5 L497.9 474.5 L498.5 474.5 L499.1 474.5 L499.7 474.5 L500.3 474.5 L500.9 474.5 L501.5 474.5 L502.1 474.5 L502.7 474.5 L503.3 474.5 L503.9 474.5 L504.5 474.5 L505.1 474.5 L505.7 474.5 L506.3 474.5 L506.9 474.5 L507.5 474.5 L508.1 474.5 L508.7 474.5 L509.3 474.5 L509.9 474.5 L510.5 474.5 L511.1 474.5 L511.7 474.5 L512.3 474.5 L512.9 474.5 L513.5 474.5 L514.1 474.5 L514.7 474.5 L515.3 474.5 L515.9 474.5 L515.9 474.5 L452.9 474.5 Z" fill="#d3d3d3" stroke="#707070" stroke-width="0.85" stroke-linejoin="round"/>
<path d="M452.9 474.19 L453.5 472.5 L454.1 473.19 L454.7 471.7 L455.3 473.36 L455.9 473.36 L456.5 473.41 L457.1 474.01 L457.7 472.07 L458.3 472.98 L458.9 473.08 L459.5 471.99 L460.1 472.2 L460.7 469.63 L461.3 470.04 L461.9 468.79 L462.5 468.58 L463.1 466.92 L463.7 466.79 L464.3 463.75 L464.9 459.57 L465.5 457.48 L466.1 457 L466.7 451.36 L467.3 449.83 L467.9 447.85 L468.5 443.03 L469.1 437.44 L469.7 439.18 L470.3 446.5 L470.9 445.89 L471.5 447.84 L472.1 452.34 L472.7 452.58 L473.3 452.71 L473.9 455.37 L474.5 455.73 L475.1 459.07 L475.7 463.45 L476.3 465.97 L476.9 464.6 L477.5 464.33 L478.1 465.28 L478.7 467.48 L479.3 467.82 L479.9 467.5 L480.5 470.32 L481.1 471.24 L481.7 471.45 L482.3 470.88 L482.9 471.82 L483.5 470.84 L484.1 472.81 L484.7 471.25 L485.3 472.88 L485.9 473.15 L486.5 473.6 L487.1 474.5 L487.7 474.49 L488.3 474.5 L488.9 474.5 L489.5 474.5 L490.1 474.5 L490.7 474.5 L491.3 474.5 L491.9 474.5 L492.5 474.5 L493.1 474.5 L493.7 474.5 L494.3 474.5 L494.9 474.5 L495.5 474.5 L496.1 474.5 L496.7 474.5 L497.3 474.5 L497.9 474.5 L498.5 474.5 L499.1 474.5 L499.7 474.5 L500.3 474.5 L500.9 474.5 L501.5 474.5 L502.1 474.5 L502.7 474.5 L503.3 474.5 L503.9 474.5 L504.5 474.5 L505.1 474.5 L505.7 474.5 L506.3 474.5 L506.9 474.5 L507.5 474.5 L508.1 474.5 L508.7 474.5 L509.3 474.5 L509.9 474.5 L510.5 474.5 L511.1 474.5 L511.7 474.5 L512.3 474.5 L512.9 474.5 L513.5 474.5 L514.1 474.5 L514.7 474.5 L515.3 474.5 L515.9 474.5" fill="none" stroke="#8d8d8d" stroke-width="1.0" stroke-linejoin="round"/>
<path d="M452.9 474.5 L453.35 474.46 L453.8 474.41 L454.25 474.37 L454.7 474.32 L455.15 474.28 L455.6 473.89 L456.05 473.81 L456.5 474.31 L456.95 474.5 L457.4 474.1 L457.85 474.5 L458.3 473.8 L458.75 473.86 L459.2 474.5 L459.65 473.31 L460.1 472.83 L460.55 473.67 L461 472.76 L461.45 473.12 L461.9 472.53 L462.35 472.53 L462.8 472.2 L463.25 471.87 L463.7 470.36 L464.15 470.95 L464.6 471.09 L465.05 470.14 L465.5 469.94 L465.95 468.85 L466.4 467.69 L466.85 467.05 L467.3 466.32 L467.75 465.52 L468.2 464.8 L468.65 463.27 L469.1 463.74 L469.55 461.13 L470 460.59 L470.45 458.39 L470.9 456.9 L471.35 457.03 L471.8 455.01 L472.25 454.55 L472.7 452.04 L473.15 453.36 L473.6 452.06 L474.05 452.01 L474.5 448.01 L474.95 450.05 L475.4 451.33 L475.85 449.36 L476.3 453.25 L476.75 448.44 L477.2 449.24 L477.65 453.46 L478.1 450.01 L478.55 452.79 L479 455.87 L479.45 455.52 L479.9 456.89 L480.35 456.48 L480.8 459.57 L481.25 458.73 L481.7 460.03 L482.15 460.33 L482.6 462.65 L483.05 460.7 L483.5 462.38 L483.95 460.8 L484.4 461.87 L484.85 464.29 L485.3 462 L485.75 462.38 L486.2 462.93 L486.65 461.07 L487.1 461.07 L487.55 459.97 L488 461.65 L488.45 462.32 L488.9 459.14 L489.35 462.46 L489.8 457.11 L490.25 458.97 L490.7 456.64 L491.15 460.76 L491.6 457.43 L492.05 458.59 L492.5 455.58 L492.95 456.12 L493.4 455.15 L493.85 456.67 L494.3 459.2 L494.75 456.69 L495.2 458.59 L495.65 459.32 L496.1 460.83 L496.55 459.63 L497 458.59 L497.45 459.09 L497.9 458.97 L498.35 459.79 L498.8 458.76 L499.25 461.28 L499.7 460.41 L500.15 462.23 L500.6 462.18 L501.05 457.07 L501.5 462.35 L501.95 458.77 L502.4 459.92 L502.85 459.2 L503.3 460.61 L503.75 459.27 L504.2 461.09 L504.65 461.09 L505.1 462.48 L505.55 463.32 L506 463.05 L506.45 463.21 L506.9 464.3 L507.35 463.8 L507.8 464.27 L508.25 465.1 L508.7 466.89 L509.15 466.57 L509.6 466.25 L510.05 468.92 L510.5 468.12 L510.95 470.9 L511.4 470.95 L511.85 470.14 L512.3 469.74 L512.75 470.99 L513.2 469.78 L513.65 471.17 L514.1 471.32 L514.55 471.53 L515 471.3 L515.45 471.84 L515.9 472.26" fill="none" stroke="#000" stroke-width="1.4" stroke-linejoin="round"/>
<rect x="452.9" y="411.6" width="63.3" height="62.9" fill="none" stroke="#111" stroke-width="1.3"/>
<line x1="452.9" y1="411.6" x2="452.9" y2="474.5" stroke="#000" stroke-width="1.8"/>
<line x1="452.9" y1="474.5" x2="516.2" y2="474.5" stroke="#000" stroke-width="1.6"/>
<path d="M451 472.93H452.9M451 471.36H452.9M451 469.78H452.9M451 468.21H452.9M451 466.64H452.9M451 465.06H452.9M451 463.49H452.9M451 461.92H452.9M451 460.35H452.9M450.5 458.77H452.9M451 457.2H452.9M451 455.63H452.9M451 454.06H452.9M451 452.49H452.9M451 450.91H452.9M451 449.34H452.9M451 447.77H452.9M451 446.19H452.9M451 444.62H452.9M450.5 443.05H452.9M451 441.48H452.9M451 439.91H452.9M451 438.33H452.9M451 436.76H452.9M451 435.19H452.9M451 433.62H452.9M451 432.04H452.9M451 430.47H452.9M451 428.9H452.9M450.5 427.33H452.9M451 425.75H452.9M451 424.18H452.9M451 422.61H452.9M451 421.04H452.9M451 419.46H452.9M451 417.89H452.9M451 416.32H452.9M451 414.75H452.9M451 413.17H452.9" stroke="#111" stroke-width="0.75" fill="none"/>
<path d="M452.9 474.5V476.9M454.48 474.5V476.4M456.06 474.5V476.4M457.65 474.5V476.4M459.23 474.5V476.4M460.81 474.5V476.4M462.39 474.5V476.4M463.98 474.5V476.4M465.56 474.5V476.4M467.14 474.5V476.4M468.72 474.5V476.9M470.31 474.5V476.4M471.89 474.5V476.4M473.47 474.5V476.4M475.05 474.5V476.4M476.64 474.5V476.4M478.22 474.5V476.4M479.8 474.5V476.4M481.38 474.5V476.4M482.97 474.5V476.4M484.55 474.5V476.9M486.13 474.5V476.4M487.71 474.5V476.4M489.3 474.5V476.4M490.88 474.5V476.4M492.46 474.5V476.4M494.04 474.5V476.4M495.63 474.5V476.4M497.21 474.5V476.4M498.79 474.5V476.4M500.37 474.5V476.9M501.96 474.5V476.4M503.54 474.5V476.4M505.12 474.5V476.4M506.7 474.5V476.4M508.29 474.5V476.4M509.87 474.5V476.4M511.45 474.5V476.4M513.03 474.5V476.4M514.62 474.5V476.4M516.2 474.5V476.9" stroke="#111" stroke-width="0.75" fill="none"/>
<text x="313.2" y="368.8" font-size="10.8" font-weight="normal" stroke="#000" stroke-width="0.42" textLength="62.0" lengthAdjust="spacingAndGlyphs">Heparitinase</text>
<text x="344.7" y="378" font-size="10" font-weight="normal" text-anchor="middle" fill="#000" stroke="#000" stroke-width="0.35">( − )</text>
<text x="344.7" y="448.8" font-size="10" font-weight="normal" text-anchor="middle" fill="#000" stroke="#000" stroke-width="0.35">( + )</text>
<line x1="381.5" y1="482.6" x2="438.1" y2="482.6" stroke="#000" stroke-width="1.5"/><path d="M437.1 479.6 L447.6 482.6 L437.1 485.6 Z" fill="#000"/>
<line x1="451" y1="482.6" x2="508.7" y2="482.6" stroke="#000" stroke-width="1.5"/><path d="M507.7 479.6 L518.2 482.6 L507.7 485.6 Z" fill="#000"/>
<text x="377.6" y="495.8" font-size="10.8" font-weight="normal" stroke="#000" stroke-width="0.42" textLength="73.8" lengthAdjust="spacingAndGlyphs">L-selectin-IgG-</text>
<text x="397.2" y="505.8" font-size="10.8" font-weight="normal" stroke="#000" stroke-width="0.42" textLength="34.6" lengthAdjust="spacingAndGlyphs">binding</text>
<text x="469.2" y="495.2" font-size="10.5" font-weight="normal" stroke="#000" stroke-width="0.42" textLength="26.6" lengthAdjust="spacingAndGlyphs">3G10</text>
</svg>
</body></html>
